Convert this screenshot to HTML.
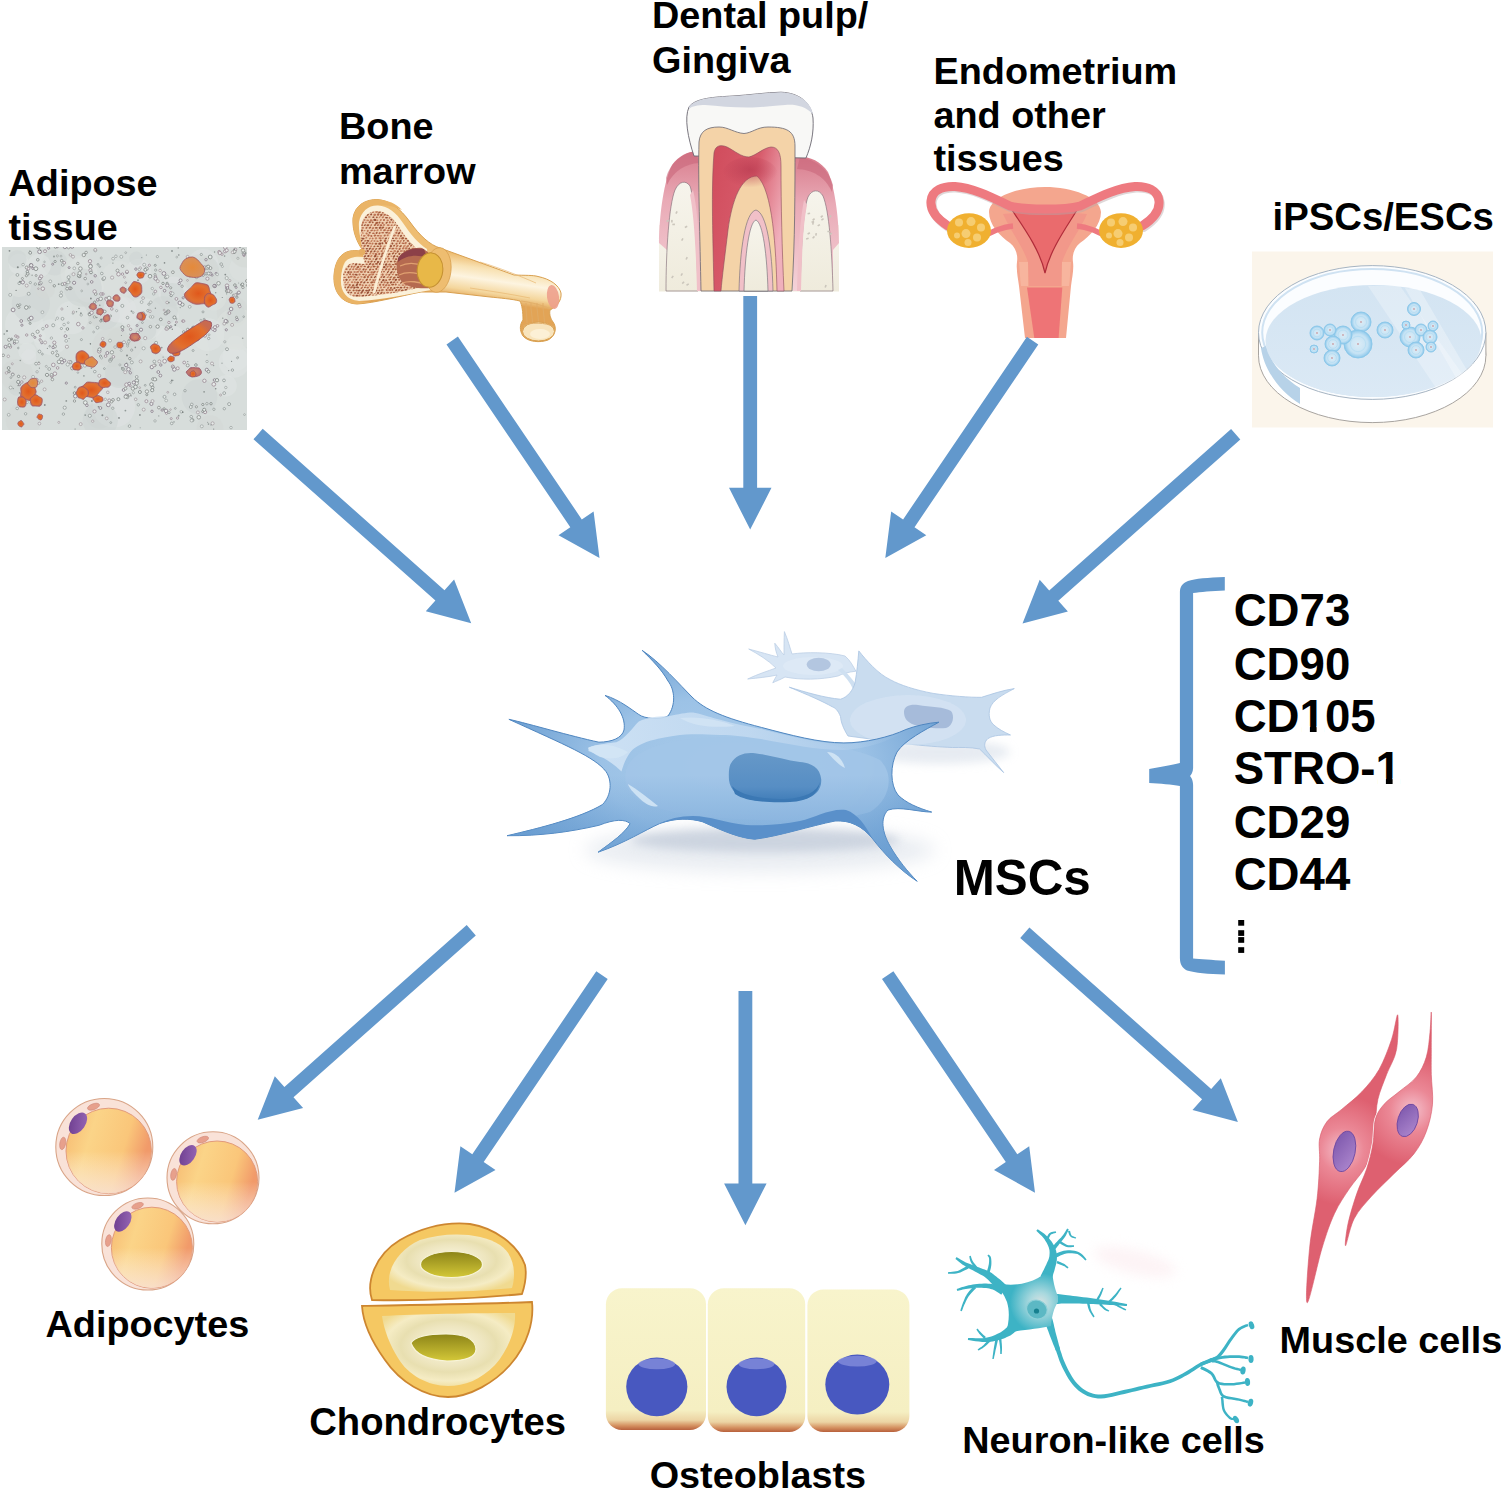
<!DOCTYPE html>
<html><head><meta charset="utf-8"><title>MSC sources and differentiation</title>
<style>html,body{margin:0;padding:0;background:#fff;width:1501px;height:1490px;overflow:hidden}
svg{display:block}
text{font-family:"Liberation Sans",sans-serif;font-weight:bold;fill:#000}</style></head>
<body>
<svg width="1501" height="1490" viewBox="0 0 1501 1490">
<rect width="1501" height="1490" fill="#fff"/>
<defs><clipPath id="mclip"><rect x="2" y="247" width="245" height="183"/></clipPath>
<radialGradient id="lip" cx="0.5" cy="0.5" r="0.5"><stop offset="0" stop-color="#e0581c"/><stop offset="0.7" stop-color="#e2702e"/><stop offset="1" stop-color="#c86a50"/></radialGradient>
<radialGradient id="lip3" cx="0.5" cy="0.5" r="0.5"><stop offset="0" stop-color="#d88860"/><stop offset="1" stop-color="#b87070"/></radialGradient>
<radialGradient id="lip2" cx="0.5" cy="0.5" r="0.5"><stop offset="0" stop-color="#e58a3a"/><stop offset="1" stop-color="#d8905a"/></radialGradient>
</defs><g clip-path="url(#mclip)">
<rect x="2" y="247" width="245" height="183" fill="#d7dddb"/>
<circle cx="81.3" cy="274.6" r="16.4" fill="#e0e5e3" opacity="0.6"/>
<circle cx="203.2" cy="264.2" r="15.3" fill="#dfe3e3" opacity="0.6"/>
<circle cx="54.6" cy="262.7" r="12.7" fill="#cfd6d3" opacity="0.6"/>
<circle cx="24.2" cy="324.7" r="19.2" fill="#e0e5e3" opacity="0.6"/>
<circle cx="234.1" cy="362.4" r="15.3" fill="#e0e5e3" opacity="0.6"/>
<circle cx="143.4" cy="319.6" r="21.6" fill="#e0e5e3" opacity="0.6"/>
<circle cx="138.4" cy="271.4" r="12.7" fill="#dfe3e3" opacity="0.6"/>
<circle cx="30.9" cy="303.5" r="19.1" fill="#cfd6d3" opacity="0.6"/>
<circle cx="27.2" cy="351.5" r="9.0" fill="#e0e5e3" opacity="0.6"/>
<circle cx="136.2" cy="258.5" r="7.0" fill="#cfd6d3" opacity="0.6"/>
<circle cx="123.6" cy="344.3" r="18.4" fill="#d3d9d6" opacity="0.6"/>
<circle cx="145.5" cy="329.9" r="10.8" fill="#cfd6d3" opacity="0.6"/>
<circle cx="173.3" cy="291.7" r="15.2" fill="#dfe3e3" opacity="0.6"/>
<circle cx="123.3" cy="309.9" r="13.2" fill="#dfe3e3" opacity="0.6"/>
<circle cx="242.1" cy="268.6" r="12.7" fill="#dce1de" opacity="0.6"/>
<circle cx="39.2" cy="336.5" r="6.6" fill="#e0e5e3" opacity="0.6"/>
<circle cx="189.3" cy="351.9" r="20.0" fill="#dce1de" opacity="0.6"/>
<circle cx="85.3" cy="311.1" r="13.9" fill="#d3d9d6" opacity="0.6"/>
<circle cx="18.8" cy="264.1" r="10.3" fill="#e0e5e3" opacity="0.6"/>
<circle cx="16.9" cy="375.4" r="16.4" fill="#d3d9d6" opacity="0.6"/>
<circle cx="71.7" cy="317.6" r="16.7" fill="#e0e5e3" opacity="0.6"/>
<circle cx="232.5" cy="312.0" r="15.8" fill="#d3d9d6" opacity="0.6"/>
<circle cx="16.4" cy="387.6" r="8.1" fill="#cfd6d3" opacity="0.6"/>
<circle cx="99.5" cy="414.8" r="13.9" fill="#cfd6d3" opacity="0.6"/>
<circle cx="112.1" cy="347.5" r="20.1" fill="#d3d9d6" opacity="0.6"/>
<circle cx="213.7" cy="298.0" r="12.6" fill="#dce1de" opacity="0.6"/>
<circle cx="169.3" cy="316.6" r="9.7" fill="#e0e5e3" opacity="0.6"/>
<circle cx="45.2" cy="289.4" r="9.7" fill="#d3d9d6" opacity="0.6"/>
<circle cx="205.6" cy="280.4" r="10.5" fill="#cfd6d3" opacity="0.6"/>
<circle cx="104.6" cy="314.6" r="15.1" fill="#cfd6d3" opacity="0.6"/>
<circle cx="171.2" cy="341.3" r="15.9" fill="#e0e5e3" opacity="0.6"/>
<circle cx="113.9" cy="406.4" r="21.2" fill="#dfe3e3" opacity="0.6"/>
<circle cx="98.1" cy="320.0" r="7.7" fill="#d3d9d6" opacity="0.6"/>
<circle cx="17.3" cy="259.3" r="9.3" fill="#cfd6d3" opacity="0.6"/>
<circle cx="28.9" cy="356.9" r="7.6" fill="#dfe3e3" opacity="0.6"/>
<circle cx="39.1" cy="265.6" r="11.8" fill="#e0e5e3" opacity="0.6"/>
<circle cx="19.2" cy="285.1" r="12.0" fill="#dce1de" opacity="0.6"/>
<circle cx="236.1" cy="357.2" r="13.6" fill="#e0e5e3" opacity="0.6"/>
<circle cx="210.0" cy="428.7" r="13.5" fill="#d3d9d6" opacity="0.6"/>
<circle cx="78.4" cy="273.4" r="18.0" fill="#dce1de" opacity="0.6"/>
<circle cx="119.3" cy="373.6" r="14.3" fill="#cfd6d3" opacity="0.6"/>
<circle cx="235.0" cy="343.7" r="8.3" fill="#dfe3e3" opacity="0.6"/>
<circle cx="226.0" cy="385.7" r="10.8" fill="#e0e5e3" opacity="0.6"/>
<circle cx="172.6" cy="294.8" r="11.9" fill="#cfd6d3" opacity="0.6"/>
<circle cx="89.1" cy="287.8" r="14.7" fill="#dfe3e3" opacity="0.6"/>
<circle cx="82.8" cy="287.8" r="19.0" fill="#cfd6d3" opacity="0.6"/>
<circle cx="199.5" cy="396.8" r="17.8" fill="#cfd6d3" opacity="0.6"/>
<circle cx="51.0" cy="337.2" r="17.7" fill="#e0e5e3" opacity="0.6"/>
<circle cx="195.6" cy="333.4" r="9.1" fill="#dfe3e3" opacity="0.6"/>
<circle cx="236.3" cy="328.8" r="21.0" fill="#dce1de" opacity="0.6"/>
<circle cx="236.0" cy="313.7" r="9.5" fill="#cfd6d3" opacity="0.6"/>
<circle cx="117.2" cy="308.8" r="13.7" fill="#dfe3e3" opacity="0.6"/>
<circle cx="207.9" cy="334.7" r="16.4" fill="#e0e5e3" opacity="0.6"/>
<circle cx="206.5" cy="268.9" r="12.2" fill="#cfd6d3" opacity="0.6"/>
<circle cx="119.1" cy="279.7" r="18.6" fill="#dce1de" opacity="0.6"/>
<circle cx="23.3" cy="420.1" r="17.5" fill="#d3d9d6" opacity="0.6"/>
<circle cx="100.3" cy="420.3" r="17.6" fill="#cfd6d3" opacity="0.6"/>
<circle cx="245.3" cy="252.0" r="15.5" fill="#d3d9d6" opacity="0.6"/>
<circle cx="199.6" cy="273.7" r="19.2" fill="#d3d9d6" opacity="0.6"/>
<circle cx="163.0" cy="311.1" r="14.8" fill="#cfd6d3" opacity="0.6"/>
<circle cx="182.4" cy="304.6" r="1.7" fill="#e6eae8" stroke="#7d8583" stroke-width="0.8"/>
<circle cx="95.7" cy="294.0" r="1.4" fill="#e6eae8" stroke="#8a8f8d" stroke-width="0.8"/>
<circle cx="155.4" cy="276.3" r="1.2" fill="#e6eae8" stroke="#9a8a95" stroke-width="0.8"/>
<circle cx="97.8" cy="299.8" r="1.3" fill="#e6eae8" stroke="#857a88" stroke-width="0.8"/>
<circle cx="155.6" cy="278.6" r="1.7" fill="#e6eae8" stroke="#857a88" stroke-width="0.8"/>
<circle cx="117.5" cy="270.6" r="1.5" fill="#e6eae8" stroke="#8a8f8d" stroke-width="0.8"/>
<circle cx="102.4" cy="293.9" r="1.0" fill="#e6eae8" stroke="#857a88" stroke-width="0.8"/>
<circle cx="146.6" cy="268.7" r="1.7" fill="#e6eae8" stroke="#8a8f8d" stroke-width="0.8"/>
<circle cx="157.6" cy="326.6" r="1.7" fill="#e6eae8" stroke="#7d8583" stroke-width="0.8"/>
<circle cx="122.4" cy="327.2" r="1.5" fill="#e6eae8" stroke="#7d8583" stroke-width="0.8"/>
<circle cx="163.0" cy="283.4" r="1.2" fill="#e6eae8" stroke="#7d8583" stroke-width="0.8"/>
<circle cx="145.3" cy="269.8" r="1.5" fill="#e6eae8" stroke="#7d8583" stroke-width="0.8"/>
<circle cx="102.7" cy="311.1" r="1.5" fill="#e6eae8" stroke="#8a8f8d" stroke-width="0.8"/>
<circle cx="126.9" cy="272.1" r="1.5" fill="#e6eae8" stroke="#857a88" stroke-width="0.8"/>
<circle cx="106.1" cy="298.7" r="1.5" fill="#e6eae8" stroke="#9a8a95" stroke-width="0.8"/>
<circle cx="179.2" cy="283.5" r="1.2" fill="#e6eae8" stroke="#857a88" stroke-width="0.8"/>
<circle cx="160.8" cy="319.4" r="1.4" fill="#e6eae8" stroke="#7d8583" stroke-width="0.8"/>
<circle cx="122.5" cy="274.1" r="1.2" fill="#e6eae8" stroke="#9a8a95" stroke-width="0.8"/>
<circle cx="149.4" cy="265.3" r="1.1" fill="#e6eae8" stroke="#9a8a95" stroke-width="0.8"/>
<circle cx="167.5" cy="327.6" r="1.9" fill="#e6eae8" stroke="#8a8f8d" stroke-width="0.8"/>
<circle cx="139.3" cy="274.8" r="1.8" fill="#e6eae8" stroke="#8a8f8d" stroke-width="0.8"/>
<circle cx="183.2" cy="297.8" r="1.1" fill="#e6eae8" stroke="#857a88" stroke-width="0.8"/>
<circle cx="176.4" cy="298.9" r="1.4" fill="#e6eae8" stroke="#9a8a95" stroke-width="0.8"/>
<circle cx="122.7" cy="330.2" r="1.0" fill="#e6eae8" stroke="#857a88" stroke-width="0.8"/>
<circle cx="111.8" cy="308.9" r="1.3" fill="#e6eae8" stroke="#9a8a95" stroke-width="0.8"/>
<circle cx="109.1" cy="298.1" r="1.9" fill="#e6eae8" stroke="#8a8f8d" stroke-width="0.8"/>
<circle cx="171.2" cy="295.5" r="1.2" fill="#e6eae8" stroke="#7d8583" stroke-width="0.8"/>
<circle cx="167.3" cy="285.3" r="1.7" fill="#e6eae8" stroke="#857a88" stroke-width="0.8"/>
<circle cx="163.9" cy="273.5" r="1.9" fill="#e6eae8" stroke="#857a88" stroke-width="0.8"/>
<circle cx="166.4" cy="328.9" r="1.5" fill="#e6eae8" stroke="#9a8a95" stroke-width="0.8"/>
<circle cx="166.2" cy="313.2" r="1.6" fill="#e6eae8" stroke="#857a88" stroke-width="0.8"/>
<circle cx="167.1" cy="283.2" r="1.0" fill="#e6eae8" stroke="#7d8583" stroke-width="0.8"/>
<circle cx="150.0" cy="276.2" r="1.8" fill="#e6eae8" stroke="#7d8583" stroke-width="0.8"/>
<circle cx="137.1" cy="325.5" r="1.0" fill="#e6eae8" stroke="#857a88" stroke-width="0.8"/>
<circle cx="170.7" cy="287.8" r="1.1" fill="#e6eae8" stroke="#8a8f8d" stroke-width="0.8"/>
<circle cx="182.1" cy="286.2" r="1.2" fill="#e6eae8" stroke="#8a8f8d" stroke-width="0.8"/>
<circle cx="150.4" cy="326.7" r="1.3" fill="#e6eae8" stroke="#8a8f8d" stroke-width="0.8"/>
<circle cx="130.6" cy="329.4" r="1.2" fill="#e6eae8" stroke="#9a8a95" stroke-width="0.8"/>
<circle cx="155.2" cy="265.3" r="1.0" fill="#e6eae8" stroke="#7d8583" stroke-width="0.8"/>
<circle cx="135.9" cy="269.1" r="1.2" fill="#e6eae8" stroke="#857a88" stroke-width="0.8"/>
<circle cx="141.0" cy="329.7" r="1.6" fill="#e6eae8" stroke="#857a88" stroke-width="0.8"/>
<circle cx="118.5" cy="274.2" r="1.8" fill="#e6eae8" stroke="#9a8a95" stroke-width="0.8"/>
<circle cx="122.6" cy="266.2" r="1.3" fill="#e6eae8" stroke="#8a8f8d" stroke-width="0.8"/>
<circle cx="110.6" cy="316.0" r="1.0" fill="#e6eae8" stroke="#8a8f8d" stroke-width="0.8"/>
<circle cx="179.8" cy="302.9" r="1.8" fill="#e6eae8" stroke="#857a88" stroke-width="0.8"/>
<circle cx="78.3" cy="324.1" r="1.8" fill="#e6eae8" stroke="#9a8a95" stroke-width="0.8"/>
<circle cx="22.4" cy="278.5" r="1.0" fill="#e6eae8" stroke="#8a8f8d" stroke-width="0.8"/>
<circle cx="82.9" cy="327.9" r="1.2" fill="#e6eae8" stroke="#9a8a95" stroke-width="0.8"/>
<circle cx="103.0" cy="294.0" r="1.2" fill="#e6eae8" stroke="#9a8a95" stroke-width="0.8"/>
<circle cx="67.4" cy="329.0" r="1.3" fill="#e6eae8" stroke="#7d8583" stroke-width="0.8"/>
<circle cx="17.7" cy="305.4" r="1.2" fill="#e6eae8" stroke="#7d8583" stroke-width="0.8"/>
<circle cx="100.8" cy="320.9" r="1.1" fill="#e6eae8" stroke="#7d8583" stroke-width="0.8"/>
<circle cx="29.2" cy="319.4" r="1.6" fill="#e6eae8" stroke="#7d8583" stroke-width="0.8"/>
<circle cx="22.8" cy="282.3" r="1.7" fill="#e6eae8" stroke="#857a88" stroke-width="0.8"/>
<circle cx="64.2" cy="262.8" r="1.4" fill="#e6eae8" stroke="#9a8a95" stroke-width="0.8"/>
<circle cx="52.7" cy="264.2" r="1.0" fill="#e6eae8" stroke="#857a88" stroke-width="0.8"/>
<circle cx="55.1" cy="261.5" r="1.1" fill="#e6eae8" stroke="#7d8583" stroke-width="0.8"/>
<circle cx="80.4" cy="268.6" r="1.8" fill="#e6eae8" stroke="#8a8f8d" stroke-width="0.8"/>
<circle cx="89.7" cy="314.1" r="1.6" fill="#e6eae8" stroke="#7d8583" stroke-width="0.8"/>
<circle cx="30.1" cy="323.4" r="1.0" fill="#e6eae8" stroke="#7d8583" stroke-width="0.8"/>
<circle cx="27.7" cy="273.8" r="1.4" fill="#e6eae8" stroke="#7d8583" stroke-width="0.8"/>
<circle cx="26.3" cy="307.5" r="1.8" fill="#e6eae8" stroke="#7d8583" stroke-width="0.8"/>
<circle cx="41.1" cy="276.5" r="1.7" fill="#e6eae8" stroke="#9a8a95" stroke-width="0.8"/>
<circle cx="77.8" cy="263.5" r="1.2" fill="#e6eae8" stroke="#8a8f8d" stroke-width="0.8"/>
<circle cx="65.5" cy="336.1" r="1.4" fill="#e6eae8" stroke="#857a88" stroke-width="0.8"/>
<circle cx="104.4" cy="318.6" r="1.3" fill="#e6eae8" stroke="#7d8583" stroke-width="0.8"/>
<circle cx="26.4" cy="275.7" r="1.1" fill="#e6eae8" stroke="#8a8f8d" stroke-width="0.8"/>
<circle cx="37.6" cy="331.7" r="1.6" fill="#e6eae8" stroke="#8a8f8d" stroke-width="0.8"/>
<circle cx="94.7" cy="302.2" r="1.2" fill="#e6eae8" stroke="#7d8583" stroke-width="0.8"/>
<circle cx="43.7" cy="265.7" r="1.3" fill="#e6eae8" stroke="#9a8a95" stroke-width="0.8"/>
<circle cx="18.9" cy="307.4" r="1.1" fill="#e6eae8" stroke="#8a8f8d" stroke-width="0.8"/>
<circle cx="46.7" cy="326.1" r="1.4" fill="#e6eae8" stroke="#9a8a95" stroke-width="0.8"/>
<circle cx="13.1" cy="309.9" r="1.9" fill="#e6eae8" stroke="#857a88" stroke-width="0.8"/>
<circle cx="100.7" cy="298.8" r="1.8" fill="#e6eae8" stroke="#8a8f8d" stroke-width="0.8"/>
<circle cx="91.6" cy="312.8" r="1.7" fill="#e6eae8" stroke="#9a8a95" stroke-width="0.8"/>
<circle cx="94.6" cy="291.5" r="1.7" fill="#e6eae8" stroke="#9a8a95" stroke-width="0.8"/>
<circle cx="95.2" cy="275.8" r="1.2" fill="#e6eae8" stroke="#857a88" stroke-width="0.8"/>
<circle cx="31.2" cy="318.1" r="1.9" fill="#e6eae8" stroke="#857a88" stroke-width="0.8"/>
<circle cx="21.2" cy="321.0" r="1.4" fill="#e6eae8" stroke="#857a88" stroke-width="0.8"/>
<circle cx="40.3" cy="335.8" r="1.0" fill="#e6eae8" stroke="#9a8a95" stroke-width="0.8"/>
<circle cx="79.1" cy="275.7" r="1.8" fill="#e6eae8" stroke="#7d8583" stroke-width="0.8"/>
<circle cx="91.7" cy="281.9" r="1.3" fill="#e6eae8" stroke="#857a88" stroke-width="0.8"/>
<circle cx="21.9" cy="325.2" r="1.1" fill="#e6eae8" stroke="#857a88" stroke-width="0.8"/>
<circle cx="61.7" cy="260.7" r="1.3" fill="#e6eae8" stroke="#7d8583" stroke-width="0.8"/>
<circle cx="79.7" cy="273.2" r="1.8" fill="#e6eae8" stroke="#8a8f8d" stroke-width="0.8"/>
<circle cx="100.9" cy="294.0" r="1.3" fill="#e6eae8" stroke="#9a8a95" stroke-width="0.8"/>
<circle cx="69.1" cy="267.6" r="1.0" fill="#e6eae8" stroke="#857a88" stroke-width="0.8"/>
<circle cx="103.4" cy="279.0" r="1.5" fill="#e6eae8" stroke="#7d8583" stroke-width="0.8"/>
<circle cx="104.7" cy="311.5" r="1.4" fill="#e6eae8" stroke="#8a8f8d" stroke-width="0.8"/>
<circle cx="36.1" cy="275.5" r="1.0" fill="#e6eae8" stroke="#8a8f8d" stroke-width="0.8"/>
<circle cx="217.5" cy="325.8" r="1.3" fill="#e6eae8" stroke="#9a8a95" stroke-width="0.8"/>
<circle cx="196.9" cy="263.6" r="1.2" fill="#e6eae8" stroke="#8a8f8d" stroke-width="0.8"/>
<circle cx="187.8" cy="329.6" r="1.4" fill="#e6eae8" stroke="#8a8f8d" stroke-width="0.8"/>
<circle cx="180.6" cy="280.4" r="1.5" fill="#e6eae8" stroke="#857a88" stroke-width="0.8"/>
<circle cx="164.6" cy="290.7" r="1.3" fill="#e6eae8" stroke="#857a88" stroke-width="0.8"/>
<circle cx="165.2" cy="313.7" r="1.2" fill="#e6eae8" stroke="#8a8f8d" stroke-width="0.8"/>
<circle cx="182.8" cy="321.1" r="1.2" fill="#e6eae8" stroke="#9a8a95" stroke-width="0.8"/>
<circle cx="212.1" cy="275.2" r="1.0" fill="#e6eae8" stroke="#857a88" stroke-width="0.8"/>
<circle cx="168.9" cy="322.5" r="1.2" fill="#e6eae8" stroke="#9a8a95" stroke-width="0.8"/>
<circle cx="183.7" cy="321.1" r="1.2" fill="#e6eae8" stroke="#9a8a95" stroke-width="0.8"/>
<circle cx="226.8" cy="321.6" r="1.6" fill="#e6eae8" stroke="#8a8f8d" stroke-width="0.8"/>
<circle cx="237.1" cy="319.5" r="1.3" fill="#e6eae8" stroke="#857a88" stroke-width="0.8"/>
<circle cx="168.2" cy="311.6" r="1.7" fill="#e6eae8" stroke="#7d8583" stroke-width="0.8"/>
<circle cx="225.7" cy="321.1" r="1.7" fill="#e6eae8" stroke="#857a88" stroke-width="0.8"/>
<circle cx="237.1" cy="294.0" r="1.1" fill="#e6eae8" stroke="#857a88" stroke-width="0.8"/>
<circle cx="233.5" cy="295.3" r="1.1" fill="#e6eae8" stroke="#8a8f8d" stroke-width="0.8"/>
<circle cx="226.3" cy="329.8" r="1.1" fill="#e6eae8" stroke="#857a88" stroke-width="0.8"/>
<circle cx="236.5" cy="317.3" r="1.0" fill="#e6eae8" stroke="#8a8f8d" stroke-width="0.8"/>
<circle cx="204.9" cy="335.6" r="1.6" fill="#e6eae8" stroke="#9a8a95" stroke-width="0.8"/>
<circle cx="238.9" cy="292.5" r="1.5" fill="#e6eae8" stroke="#857a88" stroke-width="0.8"/>
<circle cx="189.9" cy="275.9" r="1.1" fill="#e6eae8" stroke="#8a8f8d" stroke-width="0.8"/>
<circle cx="174.4" cy="317.4" r="1.5" fill="#e6eae8" stroke="#7d8583" stroke-width="0.8"/>
<circle cx="155.3" cy="291.4" r="1.3" fill="#e6eae8" stroke="#9a8a95" stroke-width="0.8"/>
<circle cx="172.9" cy="272.2" r="1.4" fill="#e6eae8" stroke="#8a8f8d" stroke-width="0.8"/>
<circle cx="170.9" cy="292.9" r="1.4" fill="#e6eae8" stroke="#9a8a95" stroke-width="0.8"/>
<circle cx="231.1" cy="309.0" r="1.8" fill="#e6eae8" stroke="#857a88" stroke-width="0.8"/>
<circle cx="229.4" cy="313.1" r="1.4" fill="#e6eae8" stroke="#9a8a95" stroke-width="0.8"/>
<circle cx="204.4" cy="324.2" r="1.3" fill="#e6eae8" stroke="#857a88" stroke-width="0.8"/>
<circle cx="176.4" cy="322.1" r="1.0" fill="#e6eae8" stroke="#9a8a95" stroke-width="0.8"/>
<circle cx="197.4" cy="269.6" r="1.2" fill="#e6eae8" stroke="#8a8f8d" stroke-width="0.8"/>
<circle cx="183.7" cy="331.9" r="1.2" fill="#e6eae8" stroke="#8a8f8d" stroke-width="0.8"/>
<circle cx="195.8" cy="335.2" r="1.1" fill="#e6eae8" stroke="#857a88" stroke-width="0.8"/>
<circle cx="165.9" cy="277.4" r="1.4" fill="#e6eae8" stroke="#7d8583" stroke-width="0.8"/>
<circle cx="230.7" cy="291.8" r="1.4" fill="#e6eae8" stroke="#8a8f8d" stroke-width="0.8"/>
<circle cx="239.1" cy="304.7" r="1.4" fill="#e6eae8" stroke="#7d8583" stroke-width="0.8"/>
<circle cx="215.0" cy="327.2" r="1.6" fill="#e6eae8" stroke="#9a8a95" stroke-width="0.8"/>
<circle cx="195.0" cy="263.4" r="1.8" fill="#e6eae8" stroke="#9a8a95" stroke-width="0.8"/>
<circle cx="214.7" cy="330.1" r="1.5" fill="#e6eae8" stroke="#857a88" stroke-width="0.8"/>
<circle cx="239.8" cy="306.5" r="1.3" fill="#e6eae8" stroke="#9a8a95" stroke-width="0.8"/>
<circle cx="236.9" cy="297.2" r="1.1" fill="#e6eae8" stroke="#7d8583" stroke-width="0.8"/>
<circle cx="193.4" cy="328.0" r="1.9" fill="#e6eae8" stroke="#7d8583" stroke-width="0.8"/>
<circle cx="160.9" cy="287.4" r="1.3" fill="#e6eae8" stroke="#9a8a95" stroke-width="0.8"/>
<circle cx="216.1" cy="273.4" r="1.0" fill="#e6eae8" stroke="#857a88" stroke-width="0.8"/>
<circle cx="212.9" cy="329.1" r="1.4" fill="#e6eae8" stroke="#9a8a95" stroke-width="0.8"/>
<circle cx="170.8" cy="326.7" r="1.0" fill="#e6eae8" stroke="#857a88" stroke-width="0.8"/>
<circle cx="100.4" cy="408.0" r="1.4" fill="#e6eae8" stroke="#857a88" stroke-width="0.8"/>
<circle cx="126.5" cy="384.7" r="1.8" fill="#e6eae8" stroke="#9a8a95" stroke-width="0.8"/>
<circle cx="109.2" cy="400.4" r="1.5" fill="#e6eae8" stroke="#9a8a95" stroke-width="0.8"/>
<circle cx="94.5" cy="411.4" r="1.6" fill="#e6eae8" stroke="#9a8a95" stroke-width="0.8"/>
<circle cx="99.2" cy="351.3" r="1.8" fill="#e6eae8" stroke="#9a8a95" stroke-width="0.8"/>
<circle cx="136.8" cy="380.7" r="1.8" fill="#e6eae8" stroke="#7d8583" stroke-width="0.8"/>
<circle cx="129.2" cy="383.6" r="1.4" fill="#e6eae8" stroke="#857a88" stroke-width="0.8"/>
<circle cx="130.3" cy="372.8" r="1.2" fill="#e6eae8" stroke="#857a88" stroke-width="0.8"/>
<circle cx="111.1" cy="359.4" r="1.4" fill="#e6eae8" stroke="#7d8583" stroke-width="0.8"/>
<circle cx="111.9" cy="352.3" r="1.7" fill="#e6eae8" stroke="#8a8f8d" stroke-width="0.8"/>
<circle cx="75.9" cy="364.6" r="1.3" fill="#e6eae8" stroke="#9a8a95" stroke-width="0.8"/>
<circle cx="107.3" cy="353.0" r="1.5" fill="#e6eae8" stroke="#857a88" stroke-width="0.8"/>
<circle cx="100.5" cy="356.2" r="1.1" fill="#e6eae8" stroke="#7d8583" stroke-width="0.8"/>
<circle cx="66.3" cy="383.1" r="1.1" fill="#e6eae8" stroke="#857a88" stroke-width="0.8"/>
<circle cx="129.8" cy="358.6" r="1.2" fill="#e6eae8" stroke="#7d8583" stroke-width="0.8"/>
<circle cx="108.3" cy="404.8" r="1.9" fill="#e6eae8" stroke="#857a88" stroke-width="0.8"/>
<circle cx="113.0" cy="399.9" r="1.4" fill="#e6eae8" stroke="#8a8f8d" stroke-width="0.8"/>
<circle cx="99.5" cy="349.5" r="1.6" fill="#e6eae8" stroke="#7d8583" stroke-width="0.8"/>
<circle cx="105.6" cy="356.1" r="1.3" fill="#e6eae8" stroke="#9a8a95" stroke-width="0.8"/>
<circle cx="74.5" cy="401.0" r="1.2" fill="#e6eae8" stroke="#8a8f8d" stroke-width="0.8"/>
<circle cx="111.6" cy="401.7" r="1.3" fill="#e6eae8" stroke="#8a8f8d" stroke-width="0.8"/>
<circle cx="85.3" cy="402.6" r="1.9" fill="#e6eae8" stroke="#8a8f8d" stroke-width="0.8"/>
<circle cx="83.7" cy="362.1" r="1.4" fill="#e6eae8" stroke="#7d8583" stroke-width="0.8"/>
<circle cx="126.3" cy="395.8" r="1.7" fill="#e6eae8" stroke="#857a88" stroke-width="0.8"/>
<circle cx="123.0" cy="369.0" r="1.3" fill="#e6eae8" stroke="#7d8583" stroke-width="0.8"/>
<circle cx="132.9" cy="388.6" r="1.7" fill="#e6eae8" stroke="#8a8f8d" stroke-width="0.8"/>
<circle cx="128.5" cy="369.3" r="1.8" fill="#e6eae8" stroke="#857a88" stroke-width="0.8"/>
<circle cx="70.4" cy="362.1" r="1.6" fill="#e6eae8" stroke="#7d8583" stroke-width="0.8"/>
<circle cx="127.2" cy="397.1" r="1.6" fill="#e6eae8" stroke="#8a8f8d" stroke-width="0.8"/>
<circle cx="130.2" cy="385.8" r="1.0" fill="#e6eae8" stroke="#9a8a95" stroke-width="0.8"/>
<circle cx="135.5" cy="386.9" r="1.8" fill="#e6eae8" stroke="#7d8583" stroke-width="0.8"/>
<circle cx="113.4" cy="356.8" r="1.3" fill="#e6eae8" stroke="#9a8a95" stroke-width="0.8"/>
<circle cx="123.6" cy="390.0" r="1.4" fill="#e6eae8" stroke="#857a88" stroke-width="0.8"/>
<circle cx="125.5" cy="388.6" r="1.4" fill="#e6eae8" stroke="#8a8f8d" stroke-width="0.8"/>
<circle cx="82.3" cy="363.1" r="1.1" fill="#e6eae8" stroke="#9a8a95" stroke-width="0.8"/>
<circle cx="74.5" cy="393.0" r="1.3" fill="#e6eae8" stroke="#7d8583" stroke-width="0.8"/>
<circle cx="86.9" cy="405.3" r="1.3" fill="#e6eae8" stroke="#857a88" stroke-width="0.8"/>
<circle cx="136.7" cy="383.4" r="1.7" fill="#e6eae8" stroke="#8a8f8d" stroke-width="0.8"/>
<circle cx="75.3" cy="396.2" r="1.8" fill="#e6eae8" stroke="#857a88" stroke-width="0.8"/>
<circle cx="126.2" cy="365.1" r="1.7" fill="#e6eae8" stroke="#857a88" stroke-width="0.8"/>
<circle cx="72.3" cy="368.2" r="1.7" fill="#e6eae8" stroke="#8a8f8d" stroke-width="0.8"/>
<circle cx="133.8" cy="382.5" r="1.6" fill="#e6eae8" stroke="#857a88" stroke-width="0.8"/>
<circle cx="129.6" cy="394.8" r="1.3" fill="#e6eae8" stroke="#8a8f8d" stroke-width="0.8"/>
<circle cx="118.4" cy="399.2" r="1.5" fill="#e6eae8" stroke="#7d8583" stroke-width="0.8"/>
<circle cx="125.7" cy="396.7" r="1.7" fill="#e6eae8" stroke="#8a8f8d" stroke-width="0.8"/>
<circle cx="19.6" cy="384.7" r="1.0" fill="#e6eae8" stroke="#857a88" stroke-width="0.8"/>
<circle cx="18.2" cy="381.9" r="1.6" fill="#e6eae8" stroke="#7d8583" stroke-width="0.8"/>
<circle cx="54.7" cy="346.4" r="1.7" fill="#e6eae8" stroke="#8a8f8d" stroke-width="0.8"/>
<circle cx="9.2" cy="339.8" r="1.6" fill="#e6eae8" stroke="#8a8f8d" stroke-width="0.8"/>
<circle cx="41.8" cy="342.6" r="1.2" fill="#e6eae8" stroke="#857a88" stroke-width="0.8"/>
<circle cx="52.6" cy="352.7" r="1.3" fill="#e6eae8" stroke="#8a8f8d" stroke-width="0.8"/>
<circle cx="30.6" cy="385.0" r="1.8" fill="#e6eae8" stroke="#7d8583" stroke-width="0.8"/>
<circle cx="54.3" cy="342.6" r="1.6" fill="#e6eae8" stroke="#9a8a95" stroke-width="0.8"/>
<circle cx="51.9" cy="376.0" r="1.5" fill="#e6eae8" stroke="#9a8a95" stroke-width="0.8"/>
<circle cx="14.5" cy="343.1" r="1.2" fill="#e6eae8" stroke="#857a88" stroke-width="0.8"/>
<circle cx="14.9" cy="341.3" r="1.4" fill="#e6eae8" stroke="#7d8583" stroke-width="0.8"/>
<circle cx="64.3" cy="360.6" r="1.4" fill="#e6eae8" stroke="#857a88" stroke-width="0.8"/>
<circle cx="32.7" cy="334.6" r="1.4" fill="#e6eae8" stroke="#8a8f8d" stroke-width="0.8"/>
<circle cx="40.1" cy="339.7" r="1.1" fill="#e6eae8" stroke="#9a8a95" stroke-width="0.8"/>
<circle cx="8.6" cy="368.0" r="1.4" fill="#e6eae8" stroke="#7d8583" stroke-width="0.8"/>
<circle cx="53.3" cy="364.9" r="1.8" fill="#e6eae8" stroke="#9a8a95" stroke-width="0.8"/>
<circle cx="34.9" cy="337.4" r="1.0" fill="#e6eae8" stroke="#857a88" stroke-width="0.8"/>
<circle cx="11.7" cy="339.1" r="1.0" fill="#e6eae8" stroke="#7d8583" stroke-width="0.8"/>
<circle cx="61.3" cy="359.4" r="1.7" fill="#e6eae8" stroke="#8a8f8d" stroke-width="0.8"/>
<circle cx="52.4" cy="379.5" r="1.3" fill="#e6eae8" stroke="#8a8f8d" stroke-width="0.8"/>
<circle cx="17.8" cy="337.1" r="1.2" fill="#e6eae8" stroke="#9a8a95" stroke-width="0.8"/>
<circle cx="10.4" cy="346.9" r="1.3" fill="#e6eae8" stroke="#9a8a95" stroke-width="0.8"/>
<circle cx="53.1" cy="347.4" r="1.2" fill="#e6eae8" stroke="#857a88" stroke-width="0.8"/>
<circle cx="36.6" cy="379.8" r="1.5" fill="#e6eae8" stroke="#9a8a95" stroke-width="0.8"/>
<circle cx="12.7" cy="374.3" r="1.4" fill="#e6eae8" stroke="#9a8a95" stroke-width="0.8"/>
<circle cx="15.8" cy="336.0" r="1.2" fill="#e6eae8" stroke="#9a8a95" stroke-width="0.8"/>
<circle cx="51.6" cy="375.3" r="1.6" fill="#e6eae8" stroke="#9a8a95" stroke-width="0.8"/>
<circle cx="57.3" cy="355.3" r="1.5" fill="#e6eae8" stroke="#7d8583" stroke-width="0.8"/>
<circle cx="29.6" cy="383.1" r="1.8" fill="#e6eae8" stroke="#9a8a95" stroke-width="0.8"/>
<circle cx="26.8" cy="387.4" r="1.5" fill="#e6eae8" stroke="#9a8a95" stroke-width="0.8"/>
<circle cx="18.6" cy="376.4" r="1.2" fill="#e6eae8" stroke="#7d8583" stroke-width="0.8"/>
<circle cx="21.8" cy="382.0" r="1.3" fill="#e6eae8" stroke="#9a8a95" stroke-width="0.8"/>
<circle cx="26.7" cy="335.0" r="1.2" fill="#e6eae8" stroke="#9a8a95" stroke-width="0.8"/>
<circle cx="9.4" cy="345.2" r="1.5" fill="#e6eae8" stroke="#7d8583" stroke-width="0.8"/>
<circle cx="47.0" cy="374.9" r="1.6" fill="#e6eae8" stroke="#7d8583" stroke-width="0.8"/>
<circle cx="57.6" cy="367.9" r="1.3" fill="#e6eae8" stroke="#9a8a95" stroke-width="0.8"/>
<circle cx="3.2" cy="355.3" r="1.3" fill="#e6eae8" stroke="#8a8f8d" stroke-width="0.8"/>
<circle cx="38.5" cy="383.0" r="1.4" fill="#e6eae8" stroke="#8a8f8d" stroke-width="0.8"/>
<circle cx="62.0" cy="362.3" r="1.6" fill="#e6eae8" stroke="#857a88" stroke-width="0.8"/>
<circle cx="54.9" cy="373.7" r="1.8" fill="#e6eae8" stroke="#9a8a95" stroke-width="0.8"/>
<circle cx="9.0" cy="371.9" r="1.0" fill="#e6eae8" stroke="#9a8a95" stroke-width="0.8"/>
<circle cx="5.6" cy="346.8" r="1.5" fill="#e6eae8" stroke="#857a88" stroke-width="0.8"/>
<circle cx="30.3" cy="386.7" r="1.0" fill="#e6eae8" stroke="#7d8583" stroke-width="0.8"/>
<circle cx="8.9" cy="371.3" r="1.1" fill="#e6eae8" stroke="#7d8583" stroke-width="0.8"/>
<circle cx="59.0" cy="361.8" r="1.8" fill="#e6eae8" stroke="#8a8f8d" stroke-width="0.8"/>
<circle cx="151.4" cy="403.9" r="1.6" fill="#e6eae8" stroke="#857a88" stroke-width="0.8"/>
<circle cx="191.1" cy="368.8" r="1.3" fill="#e6eae8" stroke="#9a8a95" stroke-width="0.8"/>
<circle cx="151.8" cy="367.1" r="1.7" fill="#e6eae8" stroke="#857a88" stroke-width="0.8"/>
<circle cx="174.3" cy="369.4" r="1.8" fill="#e6eae8" stroke="#857a88" stroke-width="0.8"/>
<circle cx="211.0" cy="403.7" r="1.2" fill="#e6eae8" stroke="#7d8583" stroke-width="0.8"/>
<circle cx="177.5" cy="418.1" r="1.1" fill="#e6eae8" stroke="#9a8a95" stroke-width="0.8"/>
<circle cx="172.9" cy="366.7" r="1.5" fill="#e6eae8" stroke="#857a88" stroke-width="0.8"/>
<circle cx="164.6" cy="361.2" r="1.9" fill="#e6eae8" stroke="#9a8a95" stroke-width="0.8"/>
<circle cx="155.0" cy="365.2" r="1.2" fill="#e6eae8" stroke="#7d8583" stroke-width="0.8"/>
<circle cx="198.8" cy="417.3" r="1.8" fill="#e6eae8" stroke="#8a8f8d" stroke-width="0.8"/>
<circle cx="214.5" cy="380.0" r="1.3" fill="#e6eae8" stroke="#857a88" stroke-width="0.8"/>
<circle cx="166.0" cy="410.9" r="1.8" fill="#e6eae8" stroke="#857a88" stroke-width="0.8"/>
<circle cx="146.8" cy="394.7" r="1.0" fill="#e6eae8" stroke="#7d8583" stroke-width="0.8"/>
<circle cx="146.4" cy="401.2" r="1.5" fill="#e6eae8" stroke="#9a8a95" stroke-width="0.8"/>
<circle cx="187.7" cy="365.4" r="1.5" fill="#e6eae8" stroke="#8a8f8d" stroke-width="0.8"/>
<circle cx="196.4" cy="406.8" r="1.1" fill="#e6eae8" stroke="#8a8f8d" stroke-width="0.8"/>
<circle cx="164.1" cy="408.7" r="1.0" fill="#e6eae8" stroke="#7d8583" stroke-width="0.8"/>
<circle cx="202.7" cy="411.6" r="1.0" fill="#e6eae8" stroke="#7d8583" stroke-width="0.8"/>
<circle cx="177.7" cy="368.3" r="1.5" fill="#e6eae8" stroke="#9a8a95" stroke-width="0.8"/>
<circle cx="192.4" cy="420.1" r="1.5" fill="#e6eae8" stroke="#7d8583" stroke-width="0.8"/>
<circle cx="206.8" cy="369.8" r="1.6" fill="#e6eae8" stroke="#857a88" stroke-width="0.8"/>
<circle cx="202.8" cy="404.5" r="1.1" fill="#e6eae8" stroke="#7d8583" stroke-width="0.8"/>
<circle cx="217.0" cy="380.2" r="1.7" fill="#e6eae8" stroke="#7d8583" stroke-width="0.8"/>
<circle cx="195.9" cy="365.0" r="1.3" fill="#e6eae8" stroke="#7d8583" stroke-width="0.8"/>
<circle cx="205.1" cy="412.1" r="1.6" fill="#e6eae8" stroke="#9a8a95" stroke-width="0.8"/>
<circle cx="166.5" cy="413.4" r="1.0" fill="#e6eae8" stroke="#9a8a95" stroke-width="0.8"/>
<circle cx="204.4" cy="380.8" r="1.7" fill="#e6eae8" stroke="#9a8a95" stroke-width="0.8"/>
<circle cx="184.2" cy="362.5" r="1.4" fill="#e6eae8" stroke="#9a8a95" stroke-width="0.8"/>
<circle cx="160.4" cy="375.6" r="1.4" fill="#e6eae8" stroke="#857a88" stroke-width="0.8"/>
<circle cx="152.6" cy="387.4" r="1.4" fill="#e6eae8" stroke="#7d8583" stroke-width="0.8"/>
<circle cx="151.5" cy="384.5" r="1.8" fill="#e6eae8" stroke="#7d8583" stroke-width="0.8"/>
<circle cx="153.0" cy="379.1" r="1.4" fill="#e6eae8" stroke="#8a8f8d" stroke-width="0.8"/>
<circle cx="171.2" cy="418.6" r="1.0" fill="#e6eae8" stroke="#9a8a95" stroke-width="0.8"/>
<circle cx="146.9" cy="391.5" r="1.7" fill="#e6eae8" stroke="#8a8f8d" stroke-width="0.8"/>
<circle cx="213.8" cy="384.3" r="1.9" fill="#e6eae8" stroke="#9a8a95" stroke-width="0.8"/>
<circle cx="154.9" cy="379.3" r="1.7" fill="#e6eae8" stroke="#8a8f8d" stroke-width="0.8"/>
<circle cx="152.2" cy="390.2" r="1.6" fill="#e6eae8" stroke="#7d8583" stroke-width="0.8"/>
<circle cx="139.9" cy="392.0" r="1.5" fill="#e6eae8" stroke="#7d8583" stroke-width="0.8"/>
<circle cx="158.3" cy="372.0" r="1.4" fill="#e6eae8" stroke="#857a88" stroke-width="0.8"/>
<circle cx="208.5" cy="371.6" r="1.4" fill="#e6eae8" stroke="#7d8583" stroke-width="0.8"/>
<circle cx="158.9" cy="407.6" r="1.4" fill="#e6eae8" stroke="#8a8f8d" stroke-width="0.8"/>
<circle cx="152.0" cy="411.3" r="1.2" fill="#e6eae8" stroke="#857a88" stroke-width="0.8"/>
<circle cx="204.2" cy="409.8" r="1.6" fill="#e6eae8" stroke="#7d8583" stroke-width="0.8"/>
<circle cx="162.1" cy="410.1" r="1.1" fill="#e6eae8" stroke="#857a88" stroke-width="0.8"/>
<circle cx="160.8" cy="365.0" r="1.2" fill="#e6eae8" stroke="#857a88" stroke-width="0.8"/>
<circle cx="222.0" cy="254.2" r="1.2" fill="#e6eae8" stroke="#9a8a95" stroke-width="0.8"/>
<circle cx="203.2" cy="275.2" r="1.2" fill="#e6eae8" stroke="#8a8f8d" stroke-width="0.8"/>
<circle cx="227.1" cy="290.9" r="1.7" fill="#e6eae8" stroke="#8a8f8d" stroke-width="0.8"/>
<circle cx="225.2" cy="247.5" r="1.7" fill="#e6eae8" stroke="#9a8a95" stroke-width="0.8"/>
<circle cx="241.7" cy="284.9" r="1.2" fill="#e6eae8" stroke="#7d8583" stroke-width="0.8"/>
<circle cx="242.9" cy="287.4" r="1.2" fill="#e6eae8" stroke="#8a8f8d" stroke-width="0.8"/>
<circle cx="256.6" cy="267.8" r="1.7" fill="#e6eae8" stroke="#857a88" stroke-width="0.8"/>
<circle cx="227.0" cy="285.7" r="1.8" fill="#e6eae8" stroke="#9a8a95" stroke-width="0.8"/>
<circle cx="236.1" cy="287.4" r="1.0" fill="#e6eae8" stroke="#857a88" stroke-width="0.8"/>
<circle cx="244.1" cy="255.3" r="1.2" fill="#e6eae8" stroke="#9a8a95" stroke-width="0.8"/>
<circle cx="210.4" cy="273.7" r="1.5" fill="#e6eae8" stroke="#857a88" stroke-width="0.8"/>
<circle cx="251.2" cy="270.6" r="1.8" fill="#e6eae8" stroke="#857a88" stroke-width="0.8"/>
<circle cx="244.4" cy="253.2" r="1.6" fill="#e6eae8" stroke="#8a8f8d" stroke-width="0.8"/>
<circle cx="219.2" cy="251.8" r="1.4" fill="#e6eae8" stroke="#9a8a95" stroke-width="0.8"/>
<circle cx="228.4" cy="290.6" r="1.8" fill="#e6eae8" stroke="#8a8f8d" stroke-width="0.8"/>
<circle cx="235.2" cy="249.7" r="1.6" fill="#e6eae8" stroke="#9a8a95" stroke-width="0.8"/>
<circle cx="243.8" cy="254.7" r="1.0" fill="#e6eae8" stroke="#857a88" stroke-width="0.8"/>
<circle cx="204.8" cy="267.7" r="1.8" fill="#e6eae8" stroke="#9a8a95" stroke-width="0.8"/>
<circle cx="234.0" cy="252.2" r="1.4" fill="#e6eae8" stroke="#7d8583" stroke-width="0.8"/>
<circle cx="253.5" cy="274.6" r="1.1" fill="#e6eae8" stroke="#8a8f8d" stroke-width="0.8"/>
<circle cx="210.4" cy="268.1" r="1.5" fill="#e6eae8" stroke="#8a8f8d" stroke-width="0.8"/>
<circle cx="225.1" cy="251.3" r="1.6" fill="#e6eae8" stroke="#9a8a95" stroke-width="0.8"/>
<circle cx="207.4" cy="267.5" r="1.9" fill="#e6eae8" stroke="#8a8f8d" stroke-width="0.8"/>
<circle cx="250.5" cy="269.0" r="1.5" fill="#e6eae8" stroke="#7d8583" stroke-width="0.8"/>
<circle cx="226.7" cy="250.3" r="1.6" fill="#e6eae8" stroke="#9a8a95" stroke-width="0.8"/>
<circle cx="226.5" cy="288.0" r="1.0" fill="#e6eae8" stroke="#857a88" stroke-width="0.8"/>
<circle cx="251.6" cy="259.9" r="1.6" fill="#e6eae8" stroke="#9a8a95" stroke-width="0.8"/>
<circle cx="246.9" cy="281.0" r="1.4" fill="#e6eae8" stroke="#8a8f8d" stroke-width="0.8"/>
<circle cx="258.3" cy="269.2" r="1.4" fill="#e6eae8" stroke="#8a8f8d" stroke-width="0.8"/>
<circle cx="248.2" cy="285.4" r="1.7" fill="#e6eae8" stroke="#8a8f8d" stroke-width="0.8"/>
<circle cx="206.1" cy="273.8" r="1.2" fill="#e6eae8" stroke="#8a8f8d" stroke-width="0.8"/>
<circle cx="214.8" cy="286.0" r="1.7" fill="#e6eae8" stroke="#857a88" stroke-width="0.8"/>
<circle cx="208.7" cy="273.5" r="1.5" fill="#e6eae8" stroke="#8a8f8d" stroke-width="0.8"/>
<circle cx="234.4" cy="251.6" r="1.7" fill="#e6eae8" stroke="#8a8f8d" stroke-width="0.8"/>
<circle cx="227.5" cy="287.9" r="1.2" fill="#e6eae8" stroke="#857a88" stroke-width="0.8"/>
<circle cx="219.8" cy="253.0" r="1.7" fill="#e6eae8" stroke="#9a8a95" stroke-width="0.8"/>
<circle cx="214.1" cy="285.8" r="1.3" fill="#e6eae8" stroke="#857a88" stroke-width="0.8"/>
<circle cx="207.4" cy="278.7" r="1.6" fill="#e6eae8" stroke="#9a8a95" stroke-width="0.8"/>
<circle cx="242.5" cy="284.3" r="1.3" fill="#e6eae8" stroke="#7d8583" stroke-width="0.8"/>
<circle cx="243.1" cy="250.4" r="1.7" fill="#e6eae8" stroke="#8a8f8d" stroke-width="0.8"/>
<circle cx="208.2" cy="266.6" r="1.5" fill="#e6eae8" stroke="#7d8583" stroke-width="0.8"/>
<circle cx="234.9" cy="285.1" r="1.3" fill="#e6eae8" stroke="#7d8583" stroke-width="0.8"/>
<circle cx="206.0" cy="259.7" r="1.2" fill="#e6eae8" stroke="#857a88" stroke-width="0.8"/>
<circle cx="218.5" cy="283.3" r="1.8" fill="#e6eae8" stroke="#8a8f8d" stroke-width="0.8"/>
<circle cx="210.2" cy="257.0" r="1.9" fill="#e6eae8" stroke="#7d8583" stroke-width="0.8"/>
<circle cx="43.7" cy="241.8" r="1.7" fill="#e6eae8" stroke="#9a8a95" stroke-width="0.8"/>
<circle cx="70.0" cy="288.3" r="1.5" fill="#e6eae8" stroke="#857a88" stroke-width="0.8"/>
<circle cx="48.6" cy="248.2" r="1.1" fill="#e6eae8" stroke="#857a88" stroke-width="0.8"/>
<circle cx="62.4" cy="284.2" r="1.4" fill="#e6eae8" stroke="#7d8583" stroke-width="0.8"/>
<circle cx="26.8" cy="267.6" r="1.6" fill="#e6eae8" stroke="#8a8f8d" stroke-width="0.8"/>
<circle cx="31.0" cy="265.3" r="1.8" fill="#e6eae8" stroke="#7d8583" stroke-width="0.8"/>
<circle cx="74.1" cy="282.8" r="1.6" fill="#e6eae8" stroke="#857a88" stroke-width="0.8"/>
<circle cx="43.5" cy="242.5" r="1.3" fill="#e6eae8" stroke="#857a88" stroke-width="0.8"/>
<circle cx="90.6" cy="265.0" r="1.2" fill="#e6eae8" stroke="#9a8a95" stroke-width="0.8"/>
<circle cx="45.0" cy="251.2" r="1.5" fill="#e6eae8" stroke="#9a8a95" stroke-width="0.8"/>
<circle cx="68.5" cy="247.4" r="1.4" fill="#e6eae8" stroke="#8a8f8d" stroke-width="0.8"/>
<circle cx="90.4" cy="270.3" r="1.6" fill="#e6eae8" stroke="#9a8a95" stroke-width="0.8"/>
<circle cx="85.2" cy="278.6" r="1.3" fill="#e6eae8" stroke="#8a8f8d" stroke-width="0.8"/>
<circle cx="54.3" cy="285.8" r="1.2" fill="#e6eae8" stroke="#7d8583" stroke-width="0.8"/>
<circle cx="72.1" cy="246.6" r="1.7" fill="#e6eae8" stroke="#857a88" stroke-width="0.8"/>
<circle cx="42.8" cy="288.7" r="1.8" fill="#e6eae8" stroke="#9a8a95" stroke-width="0.8"/>
<circle cx="90.0" cy="261.2" r="1.7" fill="#e6eae8" stroke="#9a8a95" stroke-width="0.8"/>
<circle cx="71.0" cy="288.2" r="1.1" fill="#e6eae8" stroke="#7d8583" stroke-width="0.8"/>
<circle cx="64.9" cy="247.0" r="1.7" fill="#e6eae8" stroke="#857a88" stroke-width="0.8"/>
<circle cx="37.8" cy="259.8" r="1.3" fill="#e6eae8" stroke="#7d8583" stroke-width="0.8"/>
<circle cx="91.0" cy="272.4" r="1.4" fill="#e6eae8" stroke="#7d8583" stroke-width="0.8"/>
<circle cx="68.1" cy="239.1" r="1.6" fill="#e6eae8" stroke="#8a8f8d" stroke-width="0.8"/>
<circle cx="38.4" cy="247.3" r="1.5" fill="#e6eae8" stroke="#7d8583" stroke-width="0.8"/>
<circle cx="67.1" cy="288.7" r="1.4" fill="#e6eae8" stroke="#8a8f8d" stroke-width="0.8"/>
<circle cx="79.8" cy="276.7" r="1.0" fill="#e6eae8" stroke="#7d8583" stroke-width="0.8"/>
<circle cx="86.1" cy="252.5" r="1.3" fill="#e6eae8" stroke="#8a8f8d" stroke-width="0.8"/>
<circle cx="66.7" cy="242.2" r="1.2" fill="#e6eae8" stroke="#9a8a95" stroke-width="0.8"/>
<circle cx="69.1" cy="281.8" r="1.0" fill="#e6eae8" stroke="#7d8583" stroke-width="0.8"/>
<circle cx="31.2" cy="265.3" r="1.7" fill="#e6eae8" stroke="#857a88" stroke-width="0.8"/>
<circle cx="30.2" cy="252.8" r="1.4" fill="#e6eae8" stroke="#7d8583" stroke-width="0.8"/>
<circle cx="47.4" cy="243.6" r="1.9" fill="#e6eae8" stroke="#8a8f8d" stroke-width="0.8"/>
<circle cx="32.9" cy="268.4" r="1.1" fill="#e6eae8" stroke="#857a88" stroke-width="0.8"/>
<circle cx="65.7" cy="283.9" r="1.0" fill="#e6eae8" stroke="#7d8583" stroke-width="0.8"/>
<circle cx="90.5" cy="266.4" r="1.9" fill="#e6eae8" stroke="#7d8583" stroke-width="0.8"/>
<circle cx="64.7" cy="283.8" r="1.4" fill="#e6eae8" stroke="#9a8a95" stroke-width="0.8"/>
<circle cx="55.1" cy="245.0" r="1.7" fill="#e6eae8" stroke="#8a8f8d" stroke-width="0.8"/>
<circle cx="83.8" cy="255.0" r="1.7" fill="#e6eae8" stroke="#8a8f8d" stroke-width="0.8"/>
<circle cx="57.0" cy="246.3" r="1.6" fill="#e6eae8" stroke="#857a88" stroke-width="0.8"/>
<circle cx="27.3" cy="271.6" r="1.2" fill="#e6eae8" stroke="#7d8583" stroke-width="0.8"/>
<circle cx="55.4" cy="247.3" r="1.0" fill="#e6eae8" stroke="#7d8583" stroke-width="0.8"/>
<circle cx="39.9" cy="278.5" r="1.5" fill="#e6eae8" stroke="#857a88" stroke-width="0.8"/>
<circle cx="39.6" cy="251.7" r="1.9" fill="#e6eae8" stroke="#857a88" stroke-width="0.8"/>
<circle cx="35.9" cy="268.7" r="1.9" fill="#e6eae8" stroke="#7d8583" stroke-width="0.8"/>
<circle cx="40.3" cy="283.3" r="1.6" fill="#e6eae8" stroke="#857a88" stroke-width="0.8"/>
<circle cx="28.5" cy="268.7" r="1.4" fill="#e6eae8" stroke="#9a8a95" stroke-width="0.8"/>
<circle cx="193.1" cy="350.5" r="1.0" fill="#e6eae8" stroke="#8a9290" stroke-width="0.7"/>
<circle cx="153.9" cy="365.5" r="1.4" fill="#e6eae8" stroke="#a0969c" stroke-width="0.7"/>
<circle cx="84.0" cy="357.4" r="1.6" fill="#e6eae8" stroke="#8a9290" stroke-width="0.7"/>
<circle cx="148.9" cy="304.2" r="1.1" fill="#e6eae8" stroke="#8a9290" stroke-width="0.7"/>
<circle cx="94.8" cy="371.6" r="1.3" fill="#e6eae8" stroke="#8a9290" stroke-width="0.7"/>
<circle cx="198.6" cy="299.7" r="0.8" fill="#e6eae8" stroke="#9aa19f" stroke-width="0.7"/>
<circle cx="68.6" cy="277.2" r="1.5" fill="#e6eae8" stroke="#8a9290" stroke-width="0.7"/>
<circle cx="73.5" cy="274.2" r="1.5" fill="#e6eae8" stroke="#a0969c" stroke-width="0.7"/>
<circle cx="39.4" cy="423.6" r="1.4" fill="#e6eae8" stroke="#a0969c" stroke-width="0.7"/>
<circle cx="169.0" cy="412.6" r="1.1" fill="#e6eae8" stroke="#8a9290" stroke-width="0.7"/>
<circle cx="134.1" cy="335.8" r="1.1" fill="#e6eae8" stroke="#a0969c" stroke-width="0.7"/>
<circle cx="228.5" cy="290.9" r="1.3" fill="#e6eae8" stroke="#a0969c" stroke-width="0.7"/>
<circle cx="99.3" cy="375.8" r="1.5" fill="#e6eae8" stroke="#a0969c" stroke-width="0.7"/>
<circle cx="185.0" cy="390.7" r="1.2" fill="#e6eae8" stroke="#8a9290" stroke-width="0.7"/>
<circle cx="133.2" cy="312.6" r="0.9" fill="#e6eae8" stroke="#9aa19f" stroke-width="0.7"/>
<circle cx="143.7" cy="409.6" r="1.5" fill="#e6eae8" stroke="#a0969c" stroke-width="0.7"/>
<circle cx="81.4" cy="339.6" r="1.0" fill="#e6eae8" stroke="#8a9290" stroke-width="0.7"/>
<circle cx="50.3" cy="281.3" r="1.4" fill="#e6eae8" stroke="#9aa19f" stroke-width="0.7"/>
<circle cx="143.3" cy="313.2" r="1.4" fill="#e6eae8" stroke="#8a9290" stroke-width="0.7"/>
<circle cx="63.4" cy="414.1" r="1.2" fill="#e6eae8" stroke="#8a9290" stroke-width="0.7"/>
<circle cx="93.6" cy="332.0" r="0.9" fill="#e6eae8" stroke="#9aa19f" stroke-width="0.7"/>
<circle cx="147.9" cy="310.7" r="1.2" fill="#e6eae8" stroke="#8a9290" stroke-width="0.7"/>
<circle cx="26.7" cy="285.6" r="1.5" fill="#e6eae8" stroke="#a0969c" stroke-width="0.7"/>
<circle cx="121.2" cy="350.5" r="1.0" fill="#e6eae8" stroke="#9aa19f" stroke-width="0.7"/>
<circle cx="106.7" cy="418.4" r="1.4" fill="#e6eae8" stroke="#a0969c" stroke-width="0.7"/>
<circle cx="236.2" cy="294.5" r="0.8" fill="#e6eae8" stroke="#8a9290" stroke-width="0.7"/>
<circle cx="243.7" cy="316.7" r="0.8" fill="#e6eae8" stroke="#8a9290" stroke-width="0.7"/>
<circle cx="138.3" cy="404.8" r="1.2" fill="#e6eae8" stroke="#8a9290" stroke-width="0.7"/>
<circle cx="212.0" cy="363.5" r="1.5" fill="#e6eae8" stroke="#a0969c" stroke-width="0.7"/>
<circle cx="235.2" cy="295.0" r="1.3" fill="#e6eae8" stroke="#a0969c" stroke-width="0.7"/>
<circle cx="25.6" cy="413.8" r="1.2" fill="#e6eae8" stroke="#8a9290" stroke-width="0.7"/>
<circle cx="112.1" cy="277.6" r="1.6" fill="#e6eae8" stroke="#a0969c" stroke-width="0.7"/>
<circle cx="57.4" cy="255.9" r="1.0" fill="#e6eae8" stroke="#9aa19f" stroke-width="0.7"/>
<circle cx="18.3" cy="348.0" r="0.8" fill="#e6eae8" stroke="#8a9290" stroke-width="0.7"/>
<circle cx="66.2" cy="340.9" r="1.4" fill="#e6eae8" stroke="#9aa19f" stroke-width="0.7"/>
<circle cx="17.4" cy="274.9" r="1.4" fill="#e6eae8" stroke="#8a9290" stroke-width="0.7"/>
<circle cx="167.1" cy="302.5" r="1.3" fill="#e6eae8" stroke="#a0969c" stroke-width="0.7"/>
<circle cx="29.4" cy="307.0" r="1.0" fill="#e6eae8" stroke="#8a9290" stroke-width="0.7"/>
<circle cx="94.4" cy="317.0" r="1.2" fill="#e6eae8" stroke="#8a9290" stroke-width="0.7"/>
<circle cx="224.3" cy="408.7" r="1.2" fill="#e6eae8" stroke="#8a9290" stroke-width="0.7"/>
<circle cx="196.5" cy="277.1" r="1.5" fill="#e6eae8" stroke="#8a9290" stroke-width="0.7"/>
<circle cx="229.1" cy="404.1" r="1.5" fill="#e6eae8" stroke="#8a9290" stroke-width="0.7"/>
<circle cx="191.6" cy="420.5" r="1.5" fill="#e6eae8" stroke="#9aa19f" stroke-width="0.7"/>
<circle cx="207.0" cy="361.5" r="1.2" fill="#e6eae8" stroke="#9aa19f" stroke-width="0.7"/>
<circle cx="81.7" cy="290.9" r="0.9" fill="#e6eae8" stroke="#9aa19f" stroke-width="0.7"/>
<circle cx="38.4" cy="288.7" r="0.8" fill="#e6eae8" stroke="#a0969c" stroke-width="0.7"/>
<circle cx="112.8" cy="408.2" r="1.2" fill="#e6eae8" stroke="#8a9290" stroke-width="0.7"/>
<circle cx="68.2" cy="322.7" r="0.9" fill="#e6eae8" stroke="#9aa19f" stroke-width="0.7"/>
<circle cx="141.6" cy="302.1" r="1.4" fill="#e6eae8" stroke="#9aa19f" stroke-width="0.7"/>
<circle cx="122.3" cy="305.9" r="1.5" fill="#e6eae8" stroke="#8a9290" stroke-width="0.7"/>
<circle cx="41.0" cy="340.9" r="1.3" fill="#e6eae8" stroke="#a0969c" stroke-width="0.7"/>
<circle cx="227.0" cy="349.2" r="1.5" fill="#e6eae8" stroke="#8a9290" stroke-width="0.7"/>
<circle cx="66.1" cy="285.1" r="1.1" fill="#e6eae8" stroke="#9aa19f" stroke-width="0.7"/>
<circle cx="244.5" cy="414.6" r="0.9" fill="#e6eae8" stroke="#9aa19f" stroke-width="0.7"/>
<circle cx="104.2" cy="278.0" r="1.5" fill="#e6eae8" stroke="#9aa19f" stroke-width="0.7"/>
<circle cx="38.8" cy="363.5" r="1.2" fill="#e6eae8" stroke="#a0969c" stroke-width="0.7"/>
<circle cx="86.2" cy="274.1" r="0.8" fill="#e6eae8" stroke="#a0969c" stroke-width="0.7"/>
<circle cx="73.0" cy="313.5" r="0.8" fill="#e6eae8" stroke="#9aa19f" stroke-width="0.7"/>
<circle cx="56.6" cy="351.3" r="0.9" fill="#e6eae8" stroke="#8a9290" stroke-width="0.7"/>
<circle cx="129.7" cy="290.2" r="0.9" fill="#e6eae8" stroke="#a0969c" stroke-width="0.7"/>
<circle cx="23.1" cy="264.6" r="1.3" fill="#e6eae8" stroke="#9aa19f" stroke-width="0.7"/>
<circle cx="187.5" cy="280.4" r="0.9" fill="#e6eae8" stroke="#a0969c" stroke-width="0.7"/>
<circle cx="174.6" cy="394.3" r="1.3" fill="#e6eae8" stroke="#8a9290" stroke-width="0.7"/>
<circle cx="6.4" cy="372.9" r="1.2" fill="#e6eae8" stroke="#a0969c" stroke-width="0.7"/>
<circle cx="224.8" cy="341.8" r="1.1" fill="#e6eae8" stroke="#9aa19f" stroke-width="0.7"/>
<circle cx="206.9" cy="403.7" r="1.2" fill="#e6eae8" stroke="#8a9290" stroke-width="0.7"/>
<circle cx="102.7" cy="385.6" r="0.9" fill="#e6eae8" stroke="#a0969c" stroke-width="0.7"/>
<circle cx="68.2" cy="282.3" r="1.5" fill="#e6eae8" stroke="#9aa19f" stroke-width="0.7"/>
<circle cx="12.8" cy="374.7" r="1.3" fill="#e6eae8" stroke="#8a9290" stroke-width="0.7"/>
<circle cx="89.8" cy="415.8" r="1.6" fill="#e6eae8" stroke="#8a9290" stroke-width="0.7"/>
<circle cx="33.1" cy="376.9" r="1.5" fill="#e6eae8" stroke="#9aa19f" stroke-width="0.7"/>
<circle cx="191.8" cy="404.4" r="1.3" fill="#e6eae8" stroke="#8a9290" stroke-width="0.7"/>
<circle cx="74.3" cy="268.3" r="1.4" fill="#e6eae8" stroke="#9aa19f" stroke-width="0.7"/>
<circle cx="127.7" cy="344.0" r="1.2" fill="#e6eae8" stroke="#8a9290" stroke-width="0.7"/>
<circle cx="62.7" cy="264.9" r="1.3" fill="#e6eae8" stroke="#8a9290" stroke-width="0.7"/>
<circle cx="28.7" cy="293.8" r="1.5" fill="#e6eae8" stroke="#8a9290" stroke-width="0.7"/>
<circle cx="8.7" cy="414.8" r="1.4" fill="#e6eae8" stroke="#9aa19f" stroke-width="0.7"/>
<circle cx="8.3" cy="356.3" r="1.3" fill="#e6eae8" stroke="#a0969c" stroke-width="0.7"/>
<circle cx="61.4" cy="328.5" r="1.1" fill="#e6eae8" stroke="#8a9290" stroke-width="0.7"/>
<circle cx="176.8" cy="257.1" r="0.9" fill="#e6eae8" stroke="#9aa19f" stroke-width="0.7"/>
<circle cx="145.2" cy="385.3" r="0.9" fill="#e6eae8" stroke="#8a9290" stroke-width="0.7"/>
<circle cx="101.8" cy="273.5" r="1.3" fill="#e6eae8" stroke="#8a9290" stroke-width="0.7"/>
<circle cx="39.5" cy="351.5" r="1.4" fill="#e6eae8" stroke="#8a9290" stroke-width="0.7"/>
<circle cx="232.5" cy="252.3" r="1.3" fill="#e6eae8" stroke="#a0969c" stroke-width="0.7"/>
<circle cx="105.3" cy="399.3" r="1.2" fill="#e6eae8" stroke="#9aa19f" stroke-width="0.7"/>
<circle cx="237.9" cy="258.3" r="1.1" fill="#e6eae8" stroke="#9aa19f" stroke-width="0.7"/>
<circle cx="61.9" cy="309.0" r="1.1" fill="#e6eae8" stroke="#a0969c" stroke-width="0.7"/>
<circle cx="197.9" cy="412.4" r="1.5" fill="#e6eae8" stroke="#a0969c" stroke-width="0.7"/>
<circle cx="16.9" cy="341.6" r="1.6" fill="#e6eae8" stroke="#9aa19f" stroke-width="0.7"/>
<circle cx="64.1" cy="324.6" r="1.3" fill="#e6eae8" stroke="#9aa19f" stroke-width="0.7"/>
<circle cx="30.3" cy="282.6" r="1.1" fill="#e6eae8" stroke="#8a9290" stroke-width="0.7"/>
<circle cx="125.7" cy="252.7" r="0.9" fill="#e6eae8" stroke="#9aa19f" stroke-width="0.7"/>
<circle cx="191.2" cy="416.7" r="1.3" fill="#e6eae8" stroke="#8a9290" stroke-width="0.7"/>
<circle cx="12.3" cy="363.8" r="1.0" fill="#e6eae8" stroke="#a0969c" stroke-width="0.7"/>
<circle cx="154.3" cy="361.5" r="1.4" fill="#e6eae8" stroke="#8a9290" stroke-width="0.7"/>
<circle cx="153.7" cy="293.9" r="1.2" fill="#e6eae8" stroke="#9aa19f" stroke-width="0.7"/>
<circle cx="61.0" cy="256.1" r="0.9" fill="#e6eae8" stroke="#9aa19f" stroke-width="0.7"/>
<circle cx="160.1" cy="270.5" r="1.3" fill="#e6eae8" stroke="#a0969c" stroke-width="0.7"/>
<circle cx="221.2" cy="264.1" r="1.3" fill="#e6eae8" stroke="#8a9290" stroke-width="0.7"/>
<circle cx="110.0" cy="340.6" r="1.5" fill="#e6eae8" stroke="#9aa19f" stroke-width="0.7"/>
<circle cx="143.1" cy="298.1" r="1.4" fill="#e6eae8" stroke="#a0969c" stroke-width="0.7"/>
<circle cx="135.7" cy="399.3" r="1.3" fill="#e6eae8" stroke="#a0969c" stroke-width="0.7"/>
<circle cx="57.4" cy="318.2" r="1.2" fill="#e6eae8" stroke="#9aa19f" stroke-width="0.7"/>
<circle cx="115.1" cy="347.1" r="1.3" fill="#e6eae8" stroke="#9aa19f" stroke-width="0.7"/>
<circle cx="201.3" cy="254.5" r="1.1" fill="#e6eae8" stroke="#8a9290" stroke-width="0.7"/>
<circle cx="127.5" cy="317.6" r="1.3" fill="#e6eae8" stroke="#8a9290" stroke-width="0.7"/>
<circle cx="226.7" cy="278.1" r="1.6" fill="#e6eae8" stroke="#9aa19f" stroke-width="0.7"/>
<circle cx="138.2" cy="337.0" r="1.0" fill="#e6eae8" stroke="#8a9290" stroke-width="0.7"/>
<circle cx="75.2" cy="387.2" r="0.9" fill="#e6eae8" stroke="#8a9290" stroke-width="0.7"/>
<circle cx="150.0" cy="311.3" r="1.3" fill="#e6eae8" stroke="#a0969c" stroke-width="0.7"/>
<circle cx="97.5" cy="327.7" r="1.4" fill="#e6eae8" stroke="#8a9290" stroke-width="0.7"/>
<circle cx="129.5" cy="426.1" r="1.3" fill="#e6eae8" stroke="#8a9290" stroke-width="0.7"/>
<circle cx="104.4" cy="368.6" r="0.9" fill="#e6eae8" stroke="#8a9290" stroke-width="0.7"/>
<circle cx="152.5" cy="401.1" r="1.5" fill="#e6eae8" stroke="#a0969c" stroke-width="0.7"/>
<circle cx="26.9" cy="402.3" r="1.5" fill="#e6eae8" stroke="#9aa19f" stroke-width="0.7"/>
<circle cx="68.8" cy="361.9" r="1.3" fill="#e6eae8" stroke="#a0969c" stroke-width="0.7"/>
<circle cx="34.7" cy="404.9" r="0.8" fill="#e6eae8" stroke="#a0969c" stroke-width="0.7"/>
<circle cx="145.2" cy="338.1" r="1.6" fill="#e6eae8" stroke="#a0969c" stroke-width="0.7"/>
<circle cx="40.1" cy="401.1" r="1.0" fill="#e6eae8" stroke="#a0969c" stroke-width="0.7"/>
<circle cx="150.4" cy="316.9" r="1.2" fill="#e6eae8" stroke="#9aa19f" stroke-width="0.7"/>
<circle cx="73.4" cy="312.1" r="1.1" fill="#e6eae8" stroke="#a0969c" stroke-width="0.7"/>
<circle cx="137.8" cy="317.8" r="1.1" fill="#e6eae8" stroke="#a0969c" stroke-width="0.7"/>
<circle cx="208.7" cy="338.4" r="1.2" fill="#e6eae8" stroke="#8a9290" stroke-width="0.7"/>
<circle cx="133.4" cy="392.7" r="1.1" fill="#e6eae8" stroke="#9aa19f" stroke-width="0.7"/>
<circle cx="144.2" cy="264.7" r="1.5" fill="#e6eae8" stroke="#9aa19f" stroke-width="0.7"/>
<circle cx="237.5" cy="357.8" r="1.0" fill="#e6eae8" stroke="#9aa19f" stroke-width="0.7"/>
<circle cx="53.2" cy="325.3" r="1.5" fill="#e6eae8" stroke="#8a9290" stroke-width="0.7"/>
<circle cx="10.2" cy="294.9" r="1.5" fill="#e6eae8" stroke="#9aa19f" stroke-width="0.7"/>
<circle cx="225.8" cy="387.5" r="1.2" fill="#e6eae8" stroke="#9aa19f" stroke-width="0.7"/>
<circle cx="128.7" cy="341.6" r="1.3" fill="#e6eae8" stroke="#9aa19f" stroke-width="0.7"/>
<circle cx="115.9" cy="256.3" r="1.3" fill="#e6eae8" stroke="#9aa19f" stroke-width="0.7"/>
<circle cx="232.4" cy="370.1" r="1.2" fill="#e6eae8" stroke="#8a9290" stroke-width="0.7"/>
<circle cx="102.7" cy="338.7" r="1.3" fill="#e6eae8" stroke="#a0969c" stroke-width="0.7"/>
<circle cx="41.2" cy="282.7" r="1.1" fill="#e6eae8" stroke="#9aa19f" stroke-width="0.7"/>
<circle cx="110.1" cy="360.8" r="1.6" fill="#e6eae8" stroke="#9aa19f" stroke-width="0.7"/>
<circle cx="170.7" cy="382.6" r="0.9" fill="#e6eae8" stroke="#9aa19f" stroke-width="0.7"/>
<circle cx="80.7" cy="424.1" r="1.5" fill="#e6eae8" stroke="#a0969c" stroke-width="0.7"/>
<circle cx="46.3" cy="366.4" r="1.0" fill="#e6eae8" stroke="#9aa19f" stroke-width="0.7"/>
<circle cx="201.8" cy="426.3" r="1.5" fill="#e6eae8" stroke="#9aa19f" stroke-width="0.7"/>
<circle cx="156.1" cy="342.8" r="1.5" fill="#e6eae8" stroke="#8a9290" stroke-width="0.7"/>
<circle cx="125.7" cy="282.7" r="0.9" fill="#e6eae8" stroke="#a0969c" stroke-width="0.7"/>
<circle cx="140.2" cy="268.1" r="1.3" fill="#e6eae8" stroke="#a0969c" stroke-width="0.7"/>
<circle cx="157.4" cy="256.6" r="1.1" fill="#e6eae8" stroke="#8a9290" stroke-width="0.7"/>
<circle cx="77.9" cy="372.6" r="0.8" fill="#e6eae8" stroke="#9aa19f" stroke-width="0.7"/>
<circle cx="99.8" cy="266.6" r="0.8" fill="#e6eae8" stroke="#8a9290" stroke-width="0.7"/>
<circle cx="51.4" cy="338.1" r="1.2" fill="#e6eae8" stroke="#9aa19f" stroke-width="0.7"/>
<circle cx="213.9" cy="409.3" r="1.2" fill="#e6eae8" stroke="#8a9290" stroke-width="0.7"/>
<circle cx="142.4" cy="322.6" r="0.9" fill="#e6eae8" stroke="#8a9290" stroke-width="0.7"/>
<circle cx="128.9" cy="340.2" r="0.8" fill="#e6eae8" stroke="#8a9290" stroke-width="0.7"/>
<circle cx="45.1" cy="342.5" r="1.5" fill="#e6eae8" stroke="#a0969c" stroke-width="0.7"/>
<circle cx="107.8" cy="392.3" r="1.3" fill="#e6eae8" stroke="#a0969c" stroke-width="0.7"/>
<circle cx="189.7" cy="306.8" r="1.4" fill="#e6eae8" stroke="#9aa19f" stroke-width="0.7"/>
<circle cx="70.4" cy="254.9" r="1.3" fill="#e6eae8" stroke="#a0969c" stroke-width="0.7"/>
<circle cx="19.2" cy="283.3" r="1.3" fill="#e6eae8" stroke="#8a9290" stroke-width="0.7"/>
<circle cx="17.2" cy="408.4" r="1.3" fill="#e6eae8" stroke="#8a9290" stroke-width="0.7"/>
<circle cx="110.0" cy="360.0" r="1.0" fill="#e6eae8" stroke="#8a9290" stroke-width="0.7"/>
<circle cx="42.4" cy="354.1" r="0.9" fill="#e6eae8" stroke="#8a9290" stroke-width="0.7"/>
<circle cx="220.6" cy="395.0" r="1.0" fill="#e6eae8" stroke="#a0969c" stroke-width="0.7"/>
<circle cx="64.7" cy="407.7" r="1.6" fill="#e6eae8" stroke="#8a9290" stroke-width="0.7"/>
<circle cx="62.5" cy="318.8" r="1.4" fill="#e6eae8" stroke="#8a9290" stroke-width="0.7"/>
<circle cx="103.7" cy="320.3" r="1.4" fill="#e6eae8" stroke="#8a9290" stroke-width="0.7"/>
<circle cx="195.1" cy="292.6" r="0.9" fill="#e6eae8" stroke="#9aa19f" stroke-width="0.7"/>
<circle cx="95.3" cy="250.4" r="1.5" fill="#e6eae8" stroke="#9aa19f" stroke-width="0.7"/>
<circle cx="139.3" cy="269.6" r="1.2" fill="#e6eae8" stroke="#9aa19f" stroke-width="0.7"/>
<circle cx="84.9" cy="365.6" r="1.6" fill="#e6eae8" stroke="#9aa19f" stroke-width="0.7"/>
<circle cx="203.0" cy="311.9" r="1.0" fill="#e6eae8" stroke="#8a9290" stroke-width="0.7"/>
<circle cx="116.6" cy="310.7" r="1.1" fill="#e6eae8" stroke="#9aa19f" stroke-width="0.7"/>
<circle cx="164.1" cy="310.1" r="0.9" fill="#e6eae8" stroke="#a0969c" stroke-width="0.7"/>
<circle cx="35.3" cy="284.1" r="1.2" fill="#e6eae8" stroke="#8a9290" stroke-width="0.7"/>
<circle cx="137.7" cy="332.6" r="1.4" fill="#e6eae8" stroke="#8a9290" stroke-width="0.7"/>
<circle cx="42.4" cy="312.2" r="1.4" fill="#e6eae8" stroke="#9aa19f" stroke-width="0.7"/>
<circle cx="155.7" cy="353.0" r="1.0" fill="#e6eae8" stroke="#9aa19f" stroke-width="0.7"/>
<circle cx="125.7" cy="289.7" r="1.2" fill="#e6eae8" stroke="#8a9290" stroke-width="0.7"/>
<circle cx="231.0" cy="427.6" r="1.3" fill="#e6eae8" stroke="#9aa19f" stroke-width="0.7"/>
<circle cx="145.6" cy="314.9" r="1.0" fill="#e6eae8" stroke="#a0969c" stroke-width="0.7"/>
<circle cx="127.0" cy="271.5" r="1.4" fill="#e6eae8" stroke="#a0969c" stroke-width="0.7"/>
<circle cx="127.6" cy="346.1" r="1.0" fill="#e6eae8" stroke="#9aa19f" stroke-width="0.7"/>
<circle cx="10.9" cy="377.6" r="0.9" fill="#e6eae8" stroke="#8a9290" stroke-width="0.7"/>
<circle cx="98.0" cy="264.4" r="0.9" fill="#e6eae8" stroke="#8a9290" stroke-width="0.7"/>
<circle cx="81.4" cy="367.6" r="0.9" fill="#e6eae8" stroke="#a0969c" stroke-width="0.7"/>
<circle cx="224.2" cy="393.1" r="1.4" fill="#e6eae8" stroke="#8a9290" stroke-width="0.7"/>
<circle cx="19.9" cy="304.7" r="1.0" fill="#e6eae8" stroke="#8a9290" stroke-width="0.7"/>
<circle cx="200.9" cy="320.4" r="1.1" fill="#e6eae8" stroke="#9aa19f" stroke-width="0.7"/>
<circle cx="190.8" cy="407.0" r="1.5" fill="#e6eae8" stroke="#8a9290" stroke-width="0.7"/>
<circle cx="229.8" cy="280.6" r="1.1" fill="#e6eae8" stroke="#a0969c" stroke-width="0.7"/>
<circle cx="170.5" cy="409.6" r="0.8" fill="#e6eae8" stroke="#a0969c" stroke-width="0.7"/>
<circle cx="172.5" cy="293.5" r="1.5" fill="#e6eae8" stroke="#9aa19f" stroke-width="0.7"/>
<circle cx="222.4" cy="266.5" r="1.0" fill="#e6eae8" stroke="#9aa19f" stroke-width="0.7"/>
<circle cx="224.0" cy="380.4" r="1.4" fill="#e6eae8" stroke="#8a9290" stroke-width="0.7"/>
<circle cx="101.5" cy="357.9" r="1.1" fill="#e6eae8" stroke="#9aa19f" stroke-width="0.7"/>
<circle cx="41.6" cy="381.2" r="1.2" fill="#e6eae8" stroke="#a0969c" stroke-width="0.7"/>
<circle cx="157.8" cy="281.2" r="1.5" fill="#e6eae8" stroke="#a0969c" stroke-width="0.7"/>
<circle cx="124.0" cy="342.2" r="1.5" fill="#e6eae8" stroke="#a0969c" stroke-width="0.7"/>
<circle cx="168.9" cy="311.5" r="0.8" fill="#e6eae8" stroke="#a0969c" stroke-width="0.7"/>
<circle cx="73.0" cy="256.7" r="1.5" fill="#e6eae8" stroke="#a0969c" stroke-width="0.7"/>
<circle cx="171.7" cy="423.4" r="1.3" fill="#e6eae8" stroke="#8a9290" stroke-width="0.7"/>
<circle cx="194.7" cy="286.6" r="1.5" fill="#e6eae8" stroke="#a0969c" stroke-width="0.7"/>
<circle cx="224.2" cy="323.7" r="1.4" fill="#e6eae8" stroke="#a0969c" stroke-width="0.7"/>
<circle cx="152.3" cy="288.5" r="1.2" fill="#e6eae8" stroke="#9aa19f" stroke-width="0.7"/>
<circle cx="232.1" cy="324.9" r="1.5" fill="#e6eae8" stroke="#a0969c" stroke-width="0.7"/>
<circle cx="125.2" cy="372.2" r="1.5" fill="#e6eae8" stroke="#a0969c" stroke-width="0.7"/>
<circle cx="113.1" cy="258.7" r="1.4" fill="#e6eae8" stroke="#9aa19f" stroke-width="0.7"/>
<circle cx="166.2" cy="400.5" r="1.4" fill="#e6eae8" stroke="#9aa19f" stroke-width="0.7"/>
<circle cx="187.6" cy="256.8" r="1.4" fill="#e6eae8" stroke="#a0969c" stroke-width="0.7"/>
<circle cx="66.9" cy="346.8" r="1.6" fill="#e6eae8" stroke="#a0969c" stroke-width="0.7"/>
<circle cx="60.9" cy="295.6" r="1.6" fill="#e6eae8" stroke="#8a9290" stroke-width="0.7"/>
<circle cx="90.2" cy="322.7" r="1.0" fill="#e6eae8" stroke="#9aa19f" stroke-width="0.7"/>
<circle cx="37.1" cy="371.8" r="1.2" fill="#e6eae8" stroke="#9aa19f" stroke-width="0.7"/>
<circle cx="61.3" cy="292.3" r="1.2" fill="#e6eae8" stroke="#9aa19f" stroke-width="0.7"/>
<circle cx="36.1" cy="363.7" r="1.4" fill="#e6eae8" stroke="#8a9290" stroke-width="0.7"/>
<circle cx="217.2" cy="274.4" r="1.3" fill="#e6eae8" stroke="#9aa19f" stroke-width="0.7"/>
<circle cx="155.7" cy="270.1" r="1.1" fill="#e6eae8" stroke="#8a9290" stroke-width="0.7"/>
<circle cx="167.2" cy="276.7" r="1.6" fill="#e6eae8" stroke="#9aa19f" stroke-width="0.7"/>
<circle cx="204.3" cy="269.5" r="1.0" fill="#e6eae8" stroke="#9aa19f" stroke-width="0.7"/>
<circle cx="121.3" cy="256.8" r="1.5" fill="#e6eae8" stroke="#9aa19f" stroke-width="0.7"/>
<circle cx="51.5" cy="374.6" r="1.2" fill="#e6eae8" stroke="#8a9290" stroke-width="0.7"/>
<circle cx="42.9" cy="328.7" r="1.3" fill="#e6eae8" stroke="#9aa19f" stroke-width="0.7"/>
<circle cx="44.5" cy="261.9" r="0.8" fill="#e6eae8" stroke="#9aa19f" stroke-width="0.7"/>
<circle cx="24.2" cy="377.4" r="1.6" fill="#e6eae8" stroke="#a0969c" stroke-width="0.7"/>
<circle cx="67.7" cy="364.5" r="1.6" fill="#e6eae8" stroke="#9aa19f" stroke-width="0.7"/>
<circle cx="49.7" cy="346.2" r="0.8" fill="#e6eae8" stroke="#8a9290" stroke-width="0.7"/>
<circle cx="159.3" cy="361.4" r="1.5" fill="#e6eae8" stroke="#a0969c" stroke-width="0.7"/>
<circle cx="172.5" cy="365.9" r="0.9" fill="#e6eae8" stroke="#a0969c" stroke-width="0.7"/>
<circle cx="10.7" cy="387.6" r="1.5" fill="#e6eae8" stroke="#9aa19f" stroke-width="0.7"/>
<circle cx="92.7" cy="421.2" r="1.2" fill="#e6eae8" stroke="#a0969c" stroke-width="0.7"/>
<circle cx="44.6" cy="389.4" r="1.5" fill="#e6eae8" stroke="#a0969c" stroke-width="0.7"/>
<circle cx="152.6" cy="316.9" r="1.3" fill="#e6eae8" stroke="#9aa19f" stroke-width="0.7"/>
<circle cx="81.2" cy="315.0" r="1.2" fill="#e6eae8" stroke="#9aa19f" stroke-width="0.7"/>
<circle cx="205.9" cy="294.4" r="0.8" fill="#e6eae8" stroke="#8a9290" stroke-width="0.7"/>
<circle cx="140.6" cy="361.4" r="1.5" fill="#e6eae8" stroke="#a0969c" stroke-width="0.7"/>
<circle cx="101.2" cy="258.0" r="1.0" fill="#e6eae8" stroke="#9aa19f" stroke-width="0.7"/>
<circle cx="124.4" cy="277.2" r="1.0" fill="#e6eae8" stroke="#a0969c" stroke-width="0.7"/>
<circle cx="155.0" cy="274.4" r="1.0" fill="#e6eae8" stroke="#8a9290" stroke-width="0.7"/>
<circle cx="110.8" cy="422.6" r="0.9" fill="#e6eae8" stroke="#8a9290" stroke-width="0.7"/>
<circle cx="209.0" cy="334.8" r="1.0" fill="#e6eae8" stroke="#9aa19f" stroke-width="0.7"/>
<circle cx="4.7" cy="399.5" r="1.5" fill="#e6eae8" stroke="#a0969c" stroke-width="0.7"/>
<circle cx="106.5" cy="299.7" r="1.3" fill="#e6eae8" stroke="#a0969c" stroke-width="0.7"/>
<circle cx="175.3" cy="408.4" r="0.9" fill="#e6eae8" stroke="#8a9290" stroke-width="0.7"/>
<circle cx="164.5" cy="396.9" r="1.5" fill="#e6eae8" stroke="#8a9290" stroke-width="0.7"/>
<circle cx="95.3" cy="249.8" r="1.4" fill="#e6eae8" stroke="#a0969c" stroke-width="0.7"/>
<circle cx="87.9" cy="284.0" r="0.9" fill="#e6eae8" stroke="#9aa19f" stroke-width="0.7"/>
<circle cx="128.5" cy="325.7" r="1.2" fill="#e6eae8" stroke="#a0969c" stroke-width="0.7"/>
<circle cx="212.6" cy="423.4" r="1.6" fill="#e6eae8" stroke="#a0969c" stroke-width="0.7"/>
<circle cx="23.6" cy="393.9" r="1.4" fill="#e6eae8" stroke="#9aa19f" stroke-width="0.7"/>
<circle cx="150.8" cy="302.2" r="1.3" fill="#e6eae8" stroke="#9aa19f" stroke-width="0.7"/>
<circle cx="119.9" cy="364.9" r="1.0" fill="#e6eae8" stroke="#9aa19f" stroke-width="0.7"/>
<circle cx="131.8" cy="362.4" r="1.5" fill="#e6eae8" stroke="#8a9290" stroke-width="0.7"/>
<circle cx="167.6" cy="329.1" r="0.9" fill="#e6eae8" stroke="#a0969c" stroke-width="0.7"/>
<circle cx="143.6" cy="348.3" r="1.6" fill="#e6eae8" stroke="#9aa19f" stroke-width="0.7"/>
<circle cx="131.7" cy="350.1" r="1.1" fill="#e6eae8" stroke="#8a9290" stroke-width="0.7"/>
<circle cx="58.8" cy="422.4" r="1.0" fill="#e6eae8" stroke="#a0969c" stroke-width="0.7"/>
<circle cx="31.1" cy="403.3" r="1.0" fill="#e6eae8" stroke="#8a9290" stroke-width="0.7"/>
<circle cx="49.2" cy="369.0" r="1.4" fill="#e6eae8" stroke="#8a9290" stroke-width="0.7"/>
<circle cx="137.5" cy="289.6" r="1.3" fill="#e6eae8" stroke="#8a9290" stroke-width="0.7"/>
<circle cx="181.3" cy="411.8" r="1.3" fill="#e6eae8" stroke="#9aa19f" stroke-width="0.7"/>
<circle cx="167.8" cy="392.3" r="0.9" fill="#e6eae8" stroke="#a0969c" stroke-width="0.7"/>
<circle cx="136.7" cy="376.9" r="1.4" fill="#e6eae8" stroke="#8a9290" stroke-width="0.7"/>
<circle cx="155.0" cy="420.9" r="1.2" fill="#e6eae8" stroke="#9aa19f" stroke-width="0.7"/>
<circle cx="204.1" cy="319.2" r="0.9" fill="#e6eae8" stroke="#8a9290" stroke-width="0.7"/>
<circle cx="139.7" cy="387.7" r="0.9" fill="#e6eae8" stroke="#a0969c" stroke-width="0.7"/>
<circle cx="16.1" cy="290.4" r="0.7" fill="#6f7775" opacity="0.8"/>
<circle cx="174.0" cy="421.9" r="0.7" fill="#6f7775" opacity="0.8"/>
<circle cx="175.3" cy="325.0" r="0.9" fill="#6f7775" opacity="0.8"/>
<circle cx="139.9" cy="414.9" r="0.9" fill="#6f7775" opacity="0.8"/>
<circle cx="91.9" cy="401.0" r="0.9" fill="#6f7775" opacity="0.8"/>
<circle cx="204.3" cy="269.5" r="0.7" fill="#808886" opacity="0.8"/>
<circle cx="178.8" cy="255.0" r="0.8" fill="#6f7775" opacity="0.8"/>
<circle cx="89.2" cy="306.9" r="0.8" fill="#6f7775" opacity="0.8"/>
<circle cx="228.7" cy="370.6" r="0.6" fill="#6f7775" opacity="0.8"/>
<circle cx="172.0" cy="250.9" r="1.0" fill="#808886" opacity="0.8"/>
<circle cx="29.8" cy="250.8" r="0.6" fill="#808886" opacity="0.8"/>
<circle cx="47.4" cy="348.4" r="0.6" fill="#808886" opacity="0.8"/>
<circle cx="206.9" cy="354.7" r="0.6" fill="#808886" opacity="0.8"/>
<circle cx="234.4" cy="249.5" r="0.7" fill="#6f7775" opacity="0.8"/>
<circle cx="121.4" cy="335.6" r="0.5" fill="#6f7775" opacity="0.8"/>
<circle cx="20.3" cy="360.5" r="0.8" fill="#808886" opacity="0.8"/>
<circle cx="208.5" cy="424.1" r="0.8" fill="#808886" opacity="0.8"/>
<circle cx="98.4" cy="406.8" r="0.8" fill="#6f7775" opacity="0.8"/>
<circle cx="90.4" cy="343.7" r="0.7" fill="#6f7775" opacity="0.8"/>
<circle cx="146.4" cy="255.0" r="0.6" fill="#808886" opacity="0.8"/>
<circle cx="180.2" cy="307.6" r="0.7" fill="#808886" opacity="0.8"/>
<circle cx="79.0" cy="308.4" r="0.7" fill="#6f7775" opacity="0.8"/>
<circle cx="7.0" cy="331.1" r="1.0" fill="#6f7775" opacity="0.8"/>
<circle cx="156.6" cy="380.0" r="0.6" fill="#808886" opacity="0.8"/>
<circle cx="69.0" cy="338.5" r="0.6" fill="#6f7775" opacity="0.8"/>
<circle cx="245.1" cy="253.2" r="0.8" fill="#6f7775" opacity="0.8"/>
<circle cx="215.7" cy="388.7" r="0.8" fill="#6f7775" opacity="0.8"/>
<circle cx="90.9" cy="298.5" r="0.9" fill="#6f7775" opacity="0.8"/>
<circle cx="168.9" cy="302.6" r="0.9" fill="#808886" opacity="0.8"/>
<circle cx="126.7" cy="363.2" r="0.7" fill="#808886" opacity="0.8"/>
<circle cx="83.9" cy="375.9" r="0.8" fill="#808886" opacity="0.8"/>
<circle cx="125.4" cy="410.6" r="0.9" fill="#808886" opacity="0.8"/>
<circle cx="38.9" cy="284.6" r="0.9" fill="#808886" opacity="0.8"/>
<circle cx="101.2" cy="319.5" r="0.9" fill="#6f7775" opacity="0.8"/>
<circle cx="145.8" cy="273.3" r="0.9" fill="#808886" opacity="0.8"/>
<circle cx="180.0" cy="347.9" r="1.0" fill="#808886" opacity="0.8"/>
<circle cx="20.0" cy="281.8" r="1.0" fill="#6f7775" opacity="0.8"/>
<circle cx="76.5" cy="311.7" r="0.7" fill="#808886" opacity="0.8"/>
<circle cx="178.7" cy="415.7" r="0.9" fill="#808886" opacity="0.8"/>
<circle cx="222.3" cy="297.5" r="0.6" fill="#6f7775" opacity="0.8"/>
<circle cx="187.8" cy="361.6" r="0.6" fill="#6f7775" opacity="0.8"/>
<circle cx="55.5" cy="320.1" r="0.6" fill="#808886" opacity="0.8"/>
<circle cx="213.7" cy="365.6" r="0.6" fill="#6f7775" opacity="0.8"/>
<circle cx="238.0" cy="357.0" r="0.5" fill="#808886" opacity="0.8"/>
<circle cx="178.2" cy="247.9" r="0.6" fill="#6f7775" opacity="0.8"/>
<circle cx="158.8" cy="415.9" r="0.6" fill="#808886" opacity="0.8"/>
<circle cx="214.6" cy="252.0" r="0.7" fill="#808886" opacity="0.8"/>
<circle cx="44.8" cy="405.0" r="0.9" fill="#6f7775" opacity="0.8"/>
<circle cx="155.4" cy="308.2" r="0.7" fill="#808886" opacity="0.8"/>
<circle cx="65.0" cy="331.8" r="0.5" fill="#808886" opacity="0.8"/>
<circle cx="140.2" cy="427.7" r="0.5" fill="#808886" opacity="0.8"/>
<circle cx="40.4" cy="250.4" r="0.6" fill="#6f7775" opacity="0.8"/>
<circle cx="89.7" cy="313.2" r="0.7" fill="#6f7775" opacity="0.8"/>
<circle cx="163.1" cy="357.1" r="0.7" fill="#808886" opacity="0.8"/>
<circle cx="201.3" cy="334.4" r="0.5" fill="#808886" opacity="0.8"/>
<circle cx="161.7" cy="347.6" r="0.9" fill="#808886" opacity="0.8"/>
<circle cx="90.5" cy="343.9" r="0.6" fill="#808886" opacity="0.8"/>
<circle cx="4.2" cy="334.1" r="0.8" fill="#808886" opacity="0.8"/>
<circle cx="38.9" cy="362.1" r="0.7" fill="#6f7775" opacity="0.8"/>
<circle cx="231.6" cy="361.3" r="0.6" fill="#6f7775" opacity="0.8"/>
<circle cx="138.0" cy="280.3" r="1.0" fill="#808886" opacity="0.8"/>
<circle cx="182.7" cy="412.2" r="0.9" fill="#6f7775" opacity="0.8"/>
<circle cx="131.5" cy="311.2" r="0.9" fill="#808886" opacity="0.8"/>
<circle cx="242.7" cy="338.3" r="0.8" fill="#808886" opacity="0.8"/>
<circle cx="222.8" cy="318.2" r="0.6" fill="#6f7775" opacity="0.8"/>
<circle cx="28.4" cy="381.2" r="0.5" fill="#808886" opacity="0.8"/>
<circle cx="167.2" cy="311.2" r="0.6" fill="#808886" opacity="0.8"/>
<circle cx="102.4" cy="415.2" r="1.0" fill="#6f7775" opacity="0.8"/>
<circle cx="9.5" cy="250.8" r="0.9" fill="#6f7775" opacity="0.8"/>
<circle cx="58.7" cy="284.2" r="0.9" fill="#808886" opacity="0.8"/>
<circle cx="75.1" cy="429.0" r="0.6" fill="#6f7775" opacity="0.8"/>
<circle cx="119.0" cy="417.9" r="0.9" fill="#6f7775" opacity="0.8"/>
<circle cx="203.6" cy="298.7" r="0.7" fill="#808886" opacity="0.8"/>
<circle cx="215.7" cy="292.7" r="0.7" fill="#808886" opacity="0.8"/>
<circle cx="54.0" cy="256.5" r="0.9" fill="#808886" opacity="0.8"/>
<circle cx="13.3" cy="388.6" r="0.7" fill="#808886" opacity="0.8"/>
<circle cx="213.7" cy="429.1" r="0.6" fill="#6f7775" opacity="0.8"/>
<circle cx="199.2" cy="274.8" r="1.0" fill="#6f7775" opacity="0.8"/>
<circle cx="225.3" cy="274.6" r="0.9" fill="#6f7775" opacity="0.8"/>
<circle cx="186.1" cy="332.0" r="0.7" fill="#808886" opacity="0.8"/>
<circle cx="85.2" cy="415.1" r="0.9" fill="#808886" opacity="0.8"/>
<circle cx="242.0" cy="253.0" r="0.6" fill="#6f7775" opacity="0.8"/>
<circle cx="11.3" cy="339.4" r="0.6" fill="#808886" opacity="0.8"/>
<circle cx="173.1" cy="380.3" r="0.5" fill="#808886" opacity="0.8"/>
<circle cx="17.8" cy="267.2" r="1.0" fill="#6f7775" opacity="0.8"/>
<circle cx="130.7" cy="247.5" r="0.6" fill="#6f7775" opacity="0.8"/>
<circle cx="157.1" cy="346.8" r="1.0" fill="#808886" opacity="0.8"/>
<circle cx="207.7" cy="422.2" r="0.5" fill="#6f7775" opacity="0.8"/>
<circle cx="211.0" cy="424.9" r="0.6" fill="#6f7775" opacity="0.8"/>
<circle cx="68.9" cy="279.4" r="0.6" fill="#6f7775" opacity="0.8"/>
<circle cx="238.7" cy="282.9" r="0.5" fill="#808886" opacity="0.8"/>
<circle cx="67.5" cy="306.6" r="0.5" fill="#808886" opacity="0.8"/>
<circle cx="135.3" cy="347.4" r="0.8" fill="#808886" opacity="0.8"/>
<circle cx="99.8" cy="305.2" r="0.7" fill="#6f7775" opacity="0.8"/>
<circle cx="96.8" cy="317.5" r="0.7" fill="#6f7775" opacity="0.8"/>
<circle cx="222.0" cy="363.2" r="0.6" fill="#808886" opacity="0.8"/>
<circle cx="171.9" cy="380.6" r="1.0" fill="#6f7775" opacity="0.8"/>
<circle cx="164.5" cy="262.9" r="0.8" fill="#6f7775" opacity="0.8"/>
<circle cx="224.6" cy="256.1" r="0.8" fill="#808886" opacity="0.8"/>
<circle cx="169.8" cy="328.0" r="0.8" fill="#808886" opacity="0.8"/>
<circle cx="240.0" cy="247.2" r="0.9" fill="#808886" opacity="0.8"/>
<circle cx="127.0" cy="355.4" r="1.0" fill="#6f7775" opacity="0.8"/>
<circle cx="204.1" cy="391.8" r="0.9" fill="#808886" opacity="0.8"/>
<circle cx="176.5" cy="319.0" r="0.8" fill="#808886" opacity="0.8"/>
<circle cx="19.6" cy="392.9" r="0.8" fill="#808886" opacity="0.8"/>
<circle cx="66.3" cy="400.9" r="0.9" fill="#808886" opacity="0.8"/>
<circle cx="129.9" cy="334.2" r="0.6" fill="#6f7775" opacity="0.8"/>
<circle cx="18.1" cy="385.6" r="0.7" fill="#6f7775" opacity="0.8"/>
<circle cx="131.2" cy="395.8" r="0.6" fill="#6f7775" opacity="0.8"/>
<circle cx="39.4" cy="368.1" r="0.6" fill="#6f7775" opacity="0.8"/>
<circle cx="80.9" cy="313.2" r="0.9" fill="#808886" opacity="0.8"/>
<circle cx="32.1" cy="275.2" r="0.6" fill="#6f7775" opacity="0.8"/>
<circle cx="91.4" cy="368.3" r="0.8" fill="#808886" opacity="0.8"/>
<circle cx="112.9" cy="263.1" r="0.7" fill="#808886" opacity="0.8"/>
<circle cx="172.3" cy="329.2" r="0.7" fill="#6f7775" opacity="0.8"/>
<circle cx="187.9" cy="274.4" r="0.8" fill="#808886" opacity="0.8"/>
<circle cx="121.8" cy="367.8" r="0.8" fill="#808886" opacity="0.8"/>
<circle cx="198.4" cy="293.3" r="0.8" fill="#6f7775" opacity="0.8"/>
<circle cx="141.8" cy="257.6" r="0.6" fill="#808886" opacity="0.8"/>
<circle cx="226.6" cy="293.8" r="0.6" fill="#808886" opacity="0.8"/>
<path d="M204.7,270.1 Q204.7,272.6 203.1,274.6 Q201.5,276.5 198.9,277.1 Q196.2,277.6 193.7,277.4 Q191.2,277.2 188.7,276.7 Q186.1,276.3 184.4,274.5 Q182.6,272.6 180.9,270.5 Q179.2,268.4 180.3,266.3 Q181.5,264.2 182.5,262.2 Q183.4,260.3 185.5,259.0 Q187.5,257.8 190.2,257.1 Q192.9,256.4 195.4,258.1 Q197.9,259.7 199.4,261.7 Q200.9,263.6 202.8,265.6 Q204.7,267.6 204.7,270.1 Z" fill="url(#lip2)" stroke="#9a5060" stroke-width="0.9" stroke-opacity="0.8"/>
<path d="M210.3,292.0 Q211.2,294.0 212.2,296.7 Q213.2,299.4 210.9,301.4 Q208.6,303.4 205.2,303.6 Q201.8,303.8 198.9,304.2 Q195.9,304.7 193.2,303.6 Q190.4,302.4 188.1,300.7 Q185.7,299.0 184.6,296.5 Q183.5,294.0 185.9,292.0 Q188.2,289.9 190.0,288.4 Q191.8,286.9 193.6,284.4 Q195.5,282.0 198.8,282.8 Q202.0,283.5 205.3,284.1 Q208.6,284.6 209.0,287.3 Q209.4,290.1 210.3,292.0 Z" fill="url(#lip)" stroke="#9a5060" stroke-width="0.9" stroke-opacity="0.8"/>
<path d="M216.1,298.5 Q217.0,300.0 216.6,301.8 Q216.3,303.5 214.7,304.1 Q213.1,304.6 212.1,305.2 Q211.1,305.8 209.8,306.7 Q208.5,307.6 207.2,306.8 Q205.9,305.9 205.1,304.6 Q204.3,303.2 204.3,301.6 Q204.4,300.0 204.4,298.4 Q204.4,296.8 205.3,295.6 Q206.1,294.3 207.4,293.6 Q208.6,293.0 209.9,293.5 Q211.2,294.0 212.4,294.3 Q213.6,294.7 214.4,295.9 Q215.2,297.1 216.1,298.5 Z" fill="url(#lip)" stroke="#9a5060" stroke-width="0.9" stroke-opacity="0.8"/>
<path d="M141.8,287.9 Q141.8,289.5 141.9,291.2 Q141.9,292.8 140.8,293.9 Q139.7,295.1 138.4,296.1 Q137.1,297.1 135.5,297.1 Q133.9,297.1 132.8,295.8 Q131.8,294.4 131.1,293.3 Q130.3,292.2 129.0,290.8 Q127.6,289.5 128.7,288.0 Q129.7,286.5 130.6,285.4 Q131.6,284.2 132.6,282.5 Q133.7,280.9 135.4,281.6 Q137.0,282.3 138.7,282.6 Q140.4,282.9 141.1,284.6 Q141.8,286.3 141.8,287.9 Z" fill="url(#lip)" stroke="#9a5060" stroke-width="0.9" stroke-opacity="0.8"/>
<path d="M145.4,315.7 Q145.6,316.5 145.4,317.3 Q145.1,318.2 144.7,319.0 Q144.4,319.9 143.6,320.1 Q142.8,320.3 142.0,320.3 Q141.2,320.2 140.4,320.0 Q139.6,319.9 138.7,319.3 Q137.9,318.7 137.7,317.6 Q137.6,316.5 137.8,315.4 Q138.1,314.4 138.9,313.8 Q139.8,313.3 140.4,312.7 Q141.1,312.1 142.0,312.3 Q142.8,312.5 143.5,312.9 Q144.2,313.4 144.6,314.1 Q145.1,314.8 145.4,315.7 Z" fill="url(#lip)" stroke="#9a5060" stroke-width="0.9" stroke-opacity="0.8"/>
<path d="M160.2,347.6 Q160.7,348.5 160.6,349.6 Q160.4,350.6 159.7,351.5 Q158.9,352.4 157.9,353.0 Q156.8,353.6 155.5,353.4 Q154.3,353.3 153.1,352.9 Q151.9,352.6 151.8,351.3 Q151.8,350.1 151.2,349.3 Q150.6,348.5 150.4,347.4 Q150.3,346.2 151.2,345.5 Q152.2,344.8 153.2,344.1 Q154.2,343.5 155.3,344.1 Q156.5,344.7 157.5,344.9 Q158.6,345.0 159.1,345.9 Q159.6,346.7 160.2,347.6 Z" fill="url(#lip)" stroke="#9a5060" stroke-width="0.9" stroke-opacity="0.8"/>
<path d="M139.9,336.7 Q140.5,337.5 140.3,338.5 Q140.0,339.4 139.1,340.0 Q138.1,340.6 137.1,340.8 Q136.0,341.1 135.1,340.9 Q134.1,340.7 132.9,340.8 Q131.7,340.8 131.1,340.0 Q130.5,339.2 130.0,338.4 Q129.5,337.5 130.1,336.7 Q130.7,335.8 131.1,335.0 Q131.6,334.1 132.8,334.0 Q134.0,333.9 135.1,333.5 Q136.2,333.2 137.3,333.6 Q138.4,334.1 138.9,335.0 Q139.4,335.8 139.9,336.7 Z" fill="url(#lip2)" stroke="#9a5060" stroke-width="0.9" stroke-opacity="0.8"/>
<path d="M144.4,274.2 Q144.2,275.0 143.9,275.7 Q143.7,276.3 143.4,277.1 Q143.1,277.9 142.2,277.9 Q141.3,277.9 140.4,278.2 Q139.6,278.5 138.9,278.0 Q138.1,277.6 137.8,276.9 Q137.5,276.3 137.0,275.6 Q136.5,275.0 137.0,274.4 Q137.5,273.7 137.8,273.0 Q138.1,272.3 138.9,272.2 Q139.7,272.1 140.5,272.1 Q141.3,272.1 142.1,272.2 Q142.9,272.3 143.7,272.8 Q144.5,273.3 144.4,274.2 Z" fill="url(#lip)" stroke="#9a5060" stroke-width="0.9" stroke-opacity="0.8"/>
<path d="M96.3,305.8 Q96.2,306.6 96.4,307.5 Q96.7,308.4 95.8,308.7 Q94.9,309.0 94.4,309.6 Q93.8,310.3 93.1,309.9 Q92.3,309.5 91.7,309.3 Q91.0,309.1 90.1,308.7 Q89.3,308.4 89.6,307.5 Q89.9,306.6 89.8,305.8 Q89.7,305.0 90.3,304.5 Q90.8,303.9 91.5,303.6 Q92.2,303.2 93.0,303.2 Q93.8,303.2 94.4,303.7 Q94.9,304.2 95.7,304.5 Q96.5,304.9 96.3,305.8 Z" fill="url(#lip3)" stroke="#9a5060" stroke-width="0.9" stroke-opacity="0.8"/>
<path d="M103.3,310.9 Q103.5,311.6 103.2,312.3 Q103.0,313.0 102.5,313.5 Q101.9,314.0 101.4,314.7 Q100.9,315.5 100.1,314.9 Q99.4,314.4 98.6,314.4 Q97.8,314.3 97.1,313.8 Q96.4,313.3 96.7,312.5 Q97.0,311.6 96.9,310.8 Q96.8,310.1 97.3,309.4 Q97.7,308.7 98.5,308.8 Q99.3,308.8 100.0,308.5 Q100.7,308.3 101.5,308.5 Q102.3,308.7 102.7,309.4 Q103.1,310.1 103.3,310.9 Z" fill="url(#lip3)" stroke="#9a5060" stroke-width="0.9" stroke-opacity="0.8"/>
<path d="M109.7,317.7 Q110.2,318.3 109.9,319.0 Q109.7,319.8 109.3,320.4 Q108.8,321.1 108.1,321.2 Q107.3,321.4 106.5,321.7 Q105.7,322.1 104.9,321.7 Q104.2,321.4 103.7,320.6 Q103.3,319.9 103.4,319.1 Q103.5,318.3 103.5,317.5 Q103.4,316.8 104.0,316.3 Q104.6,315.7 105.2,315.5 Q105.9,315.2 106.7,314.8 Q107.5,314.3 108.3,314.7 Q109.2,315.1 109.2,316.1 Q109.2,317.0 109.7,317.7 Z" fill="url(#lip3)" stroke="#9a5060" stroke-width="0.9" stroke-opacity="0.8"/>
<path d="M113.5,302.5 Q113.4,303.3 113.3,304.1 Q113.2,304.9 112.9,305.7 Q112.5,306.5 111.6,306.6 Q110.8,306.7 110.0,306.7 Q109.2,306.7 108.5,306.4 Q107.7,306.1 107.5,305.4 Q107.2,304.6 106.8,304.0 Q106.5,303.3 106.6,302.5 Q106.7,301.7 107.1,301.0 Q107.6,300.3 108.5,300.3 Q109.3,300.4 110.0,300.3 Q110.7,300.1 111.3,300.5 Q111.9,301.0 112.7,301.3 Q113.5,301.6 113.5,302.5 Z" fill="url(#lip3)" stroke="#9a5060" stroke-width="0.9" stroke-opacity="0.8"/>
<path d="M119.9,297.6 Q120.1,298.3 120.0,299.1 Q119.9,299.9 119.4,300.6 Q118.9,301.2 118.1,301.2 Q117.3,301.3 116.6,301.2 Q116.0,301.1 115.2,301.0 Q114.5,300.9 114.1,300.3 Q113.7,299.7 113.2,299.0 Q112.7,298.3 113.0,297.5 Q113.2,296.7 113.8,296.1 Q114.3,295.5 115.1,295.1 Q115.8,294.8 116.6,294.8 Q117.4,294.7 118.0,295.3 Q118.5,295.9 119.1,296.4 Q119.7,296.8 119.9,297.6 Z" fill="url(#lip3)" stroke="#9a5060" stroke-width="0.9" stroke-opacity="0.8"/>
<path d="M125.9,289.3 Q125.9,290.0 126.0,290.7 Q126.1,291.5 125.6,292.1 Q125.1,292.7 124.5,293.1 Q123.8,293.5 123.1,293.1 Q122.4,292.8 121.8,292.5 Q121.2,292.3 120.8,291.7 Q120.5,291.2 120.3,290.6 Q120.1,290.0 120.0,289.2 Q119.9,288.5 120.6,288.2 Q121.3,287.8 121.8,287.3 Q122.3,286.8 123.0,287.0 Q123.6,287.2 124.2,287.4 Q124.8,287.7 125.3,288.2 Q125.8,288.6 125.9,289.3 Z" fill="url(#lip3)" stroke="#9a5060" stroke-width="0.9" stroke-opacity="0.8"/>
<path d="M142.5,315.3 Q142.6,316.0 142.7,316.8 Q142.9,317.6 142.4,318.3 Q142.0,318.9 141.4,319.4 Q140.8,320.0 140.1,319.5 Q139.4,319.1 138.8,318.8 Q138.3,318.5 137.7,318.1 Q137.1,317.6 136.9,316.8 Q136.8,316.0 137.2,315.3 Q137.5,314.6 137.7,313.8 Q138.0,313.1 138.7,312.9 Q139.4,312.7 140.0,312.5 Q140.7,312.2 141.2,312.9 Q141.6,313.6 142.0,314.1 Q142.4,314.6 142.5,315.3 Z" fill="url(#lip3)" stroke="#9a5060" stroke-width="0.9" stroke-opacity="0.8"/>
<path d="M139.5,336.2 Q140.3,337.0 139.3,337.7 Q138.3,338.4 138.2,339.4 Q138.0,340.4 137.0,340.4 Q135.9,340.4 134.9,341.0 Q133.8,341.6 133.3,340.6 Q132.7,339.6 131.5,339.3 Q130.4,339.0 130.3,338.0 Q130.2,337.0 130.3,336.0 Q130.4,335.0 131.1,334.2 Q131.7,333.3 132.9,333.4 Q134.1,333.5 135.0,333.4 Q135.9,333.3 137.0,333.5 Q138.0,333.6 138.4,334.5 Q138.7,335.4 139.5,336.2 Z" fill="url(#lip3)" stroke="#9a5060" stroke-width="0.9" stroke-opacity="0.8"/>
<path d="M201.2,371.0 Q201.6,372.0 201.4,373.1 Q201.2,374.2 200.0,375.0 Q198.8,375.8 197.3,376.3 Q195.7,376.8 194.0,376.7 Q192.3,376.7 190.5,376.4 Q188.7,376.1 188.1,375.1 Q187.4,374.0 186.5,373.0 Q185.6,372.0 186.8,371.1 Q188.1,370.2 188.7,369.3 Q189.4,368.4 190.8,367.9 Q192.3,367.4 193.9,367.6 Q195.6,367.8 197.5,367.8 Q199.4,367.7 200.1,368.9 Q200.7,370.0 201.2,371.0 Z" fill="url(#lip3)" stroke="#9a5060" stroke-width="0.9" stroke-opacity="0.8"/>
<path d="M179.7,351.2 Q180.0,352.0 180.0,353.0 Q180.0,353.9 179.5,354.8 Q178.9,355.6 177.9,355.6 Q176.8,355.6 175.9,355.9 Q175.0,356.3 174.2,355.8 Q173.3,355.4 172.8,354.6 Q172.2,353.8 172.4,352.9 Q172.6,352.0 172.8,351.3 Q173.0,350.6 173.3,349.8 Q173.6,349.0 174.3,348.4 Q175.0,347.8 175.9,348.1 Q176.8,348.4 177.7,348.7 Q178.5,348.9 178.9,349.6 Q179.4,350.4 179.7,351.2 Z" fill="url(#lip)" stroke="#9a5060" stroke-width="0.9" stroke-opacity="0.8"/>
<path d="M174.3,358.3 Q174.1,359.0 174.2,359.7 Q174.3,360.4 173.7,360.8 Q173.1,361.2 172.4,361.4 Q171.7,361.6 171.0,361.8 Q170.2,361.9 169.5,361.6 Q168.8,361.3 168.3,360.8 Q167.9,360.3 167.7,359.6 Q167.6,359.0 167.8,358.4 Q168.1,357.8 168.6,357.3 Q169.0,356.9 169.6,356.4 Q170.2,355.9 170.9,356.1 Q171.7,356.3 172.5,356.4 Q173.3,356.5 173.9,357.0 Q174.5,357.6 174.3,358.3 Z" fill="url(#lip)" stroke="#9a5060" stroke-width="0.9" stroke-opacity="0.8"/>
<path d="M88.7,355.6 Q89.4,357.0 89.2,358.7 Q89.0,360.3 87.7,361.4 Q86.4,362.5 85.0,363.2 Q83.6,363.9 82.0,363.7 Q80.5,363.6 78.7,363.5 Q76.9,363.5 76.5,361.6 Q76.2,359.8 76.0,358.4 Q75.9,357.0 76.1,355.6 Q76.2,354.2 77.1,353.1 Q78.0,352.0 79.3,351.3 Q80.5,350.6 82.0,350.7 Q83.4,350.7 84.6,351.5 Q85.7,352.3 86.8,353.2 Q87.9,354.2 88.7,355.6 Z" fill="url(#lip)" stroke="#9a5060" stroke-width="0.9" stroke-opacity="0.8"/>
<path d="M97.0,361.0 Q97.9,362.0 97.3,363.2 Q96.8,364.3 95.9,365.3 Q95.1,366.3 93.8,366.9 Q92.5,367.6 91.2,367.0 Q89.8,366.5 88.4,366.3 Q87.1,366.1 85.9,365.3 Q84.8,364.5 84.5,363.2 Q84.2,362.0 84.8,360.9 Q85.5,359.8 86.6,359.2 Q87.7,358.6 88.7,357.9 Q89.7,357.3 91.1,356.8 Q92.6,356.3 93.4,357.5 Q94.2,358.6 95.1,359.3 Q96.1,360.0 97.0,361.0 Z" fill="url(#lip2)" stroke="#9a5060" stroke-width="0.9" stroke-opacity="0.8"/>
<path d="M80.7,365.2 Q81.0,366.0 81.1,367.0 Q81.3,368.1 80.6,368.9 Q79.9,369.7 79.0,370.0 Q78.0,370.4 77.0,370.1 Q76.1,369.9 75.0,369.9 Q73.9,369.9 73.2,369.0 Q72.5,368.2 72.5,367.1 Q72.5,366.0 72.7,365.0 Q72.9,364.0 73.7,363.4 Q74.5,362.8 75.3,362.6 Q76.2,362.4 77.1,362.1 Q78.0,361.8 78.9,362.1 Q79.9,362.4 80.2,363.4 Q80.4,364.4 80.7,365.2 Z" fill="url(#lip)" stroke="#9a5060" stroke-width="0.9" stroke-opacity="0.8"/>
<path d="M102.6,385.9 Q103.6,387.8 101.8,389.6 Q100.0,391.5 98.8,392.8 Q97.5,394.1 96.5,396.3 Q95.4,398.6 92.8,397.9 Q90.1,397.2 88.1,396.8 Q86.1,396.3 83.7,395.9 Q81.3,395.4 81.1,393.6 Q80.8,391.8 80.0,389.9 Q79.2,388.1 81.6,386.8 Q83.9,385.5 85.3,383.5 Q86.6,381.5 89.3,382.0 Q92.0,382.4 94.4,382.4 Q96.9,382.4 99.2,383.2 Q101.6,384.1 102.6,385.9 Z" fill="url(#lip)" stroke="#9a5060" stroke-width="0.9" stroke-opacity="0.8"/>
<path d="M109.8,382.1 Q110.9,383.0 110.6,384.3 Q110.3,385.5 109.3,386.5 Q108.3,387.5 106.7,387.3 Q105.1,387.1 103.9,387.6 Q102.6,388.0 101.5,387.4 Q100.4,386.8 99.4,386.0 Q98.5,385.2 98.7,384.1 Q98.8,383.0 99.0,382.0 Q99.2,381.1 99.8,380.1 Q100.3,379.2 101.6,378.9 Q102.8,378.6 104.1,378.4 Q105.3,378.2 106.2,379.0 Q107.1,379.8 107.9,380.5 Q108.6,381.2 109.8,382.1 Z" fill="url(#lip)" stroke="#9a5060" stroke-width="0.9" stroke-opacity="0.8"/>
<path d="M88.3,391.5 Q88.5,393.0 88.3,394.5 Q88.1,395.9 86.7,396.5 Q85.3,397.2 84.4,398.5 Q83.6,399.9 82.2,399.1 Q80.8,398.2 79.4,398.1 Q78.0,398.0 77.7,396.6 Q77.4,395.2 76.4,394.1 Q75.4,393.0 76.4,391.9 Q77.3,390.7 77.6,389.3 Q78.0,388.0 79.3,387.3 Q80.6,386.7 82.0,386.6 Q83.5,386.6 84.6,387.5 Q85.7,388.4 86.9,389.2 Q88.1,390.1 88.3,391.5 Z" fill="url(#lip)" stroke="#9a5060" stroke-width="0.9" stroke-opacity="0.8"/>
<path d="M102.8,398.2 Q102.8,399.0 103.0,399.9 Q103.2,400.8 102.3,401.4 Q101.5,402.1 100.3,402.1 Q99.0,402.1 97.9,402.5 Q96.7,402.9 95.7,402.4 Q94.7,401.9 94.5,401.1 Q94.2,400.3 93.2,399.6 Q92.2,399.0 93.0,398.3 Q93.9,397.6 94.5,397.0 Q95.1,396.5 96.0,396.1 Q96.9,395.7 98.0,395.6 Q99.1,395.5 99.9,396.1 Q100.7,396.6 101.8,397.0 Q102.8,397.4 102.8,398.2 Z" fill="url(#lip)" stroke="#9a5060" stroke-width="0.9" stroke-opacity="0.8"/>
<path d="M35.8,390.1 Q36.7,392.0 35.6,393.7 Q34.4,395.5 33.4,396.9 Q32.5,398.3 31.2,399.7 Q29.8,401.1 28.2,400.2 Q26.5,399.4 24.5,399.6 Q22.5,399.7 21.3,398.0 Q20.1,396.3 20.7,394.1 Q21.3,392.0 20.8,389.9 Q20.3,387.8 21.7,386.4 Q23.0,385.0 24.6,383.9 Q26.1,382.8 28.1,382.3 Q30.1,381.8 32.0,382.8 Q33.9,383.7 34.4,386.0 Q35.0,388.2 35.8,390.1 Z" fill="url(#lip)" stroke="#9a5060" stroke-width="0.9" stroke-opacity="0.8"/>
<path d="M42.3,399.5 Q42.3,401.0 42.1,402.4 Q41.8,403.8 41.1,405.1 Q40.4,406.5 38.8,406.3 Q37.2,406.2 36.0,406.1 Q34.9,405.9 33.3,406.1 Q31.8,406.2 31.4,404.8 Q30.9,403.4 30.6,402.2 Q30.3,401.0 30.1,399.6 Q30.0,398.1 31.3,397.5 Q32.7,396.8 33.6,395.6 Q34.5,394.3 35.9,394.7 Q37.3,395.2 38.2,396.1 Q39.2,397.0 40.7,397.5 Q42.2,398.0 42.3,399.5 Z" fill="url(#lip)" stroke="#9a5060" stroke-width="0.9" stroke-opacity="0.8"/>
<path d="M26.2,400.8 Q26.3,402.0 26.1,403.1 Q25.9,404.3 25.6,405.6 Q25.2,406.9 24.1,407.0 Q23.0,407.2 22.0,407.1 Q21.0,407.1 20.0,406.9 Q18.9,406.6 18.3,405.6 Q17.6,404.5 17.6,403.3 Q17.5,402.0 17.6,400.7 Q17.7,399.5 18.1,398.1 Q18.5,396.7 19.8,396.8 Q21.0,396.9 22.0,396.9 Q23.0,396.8 23.8,397.5 Q24.6,398.1 25.3,398.9 Q26.1,399.6 26.2,400.8 Z" fill="url(#lip)" stroke="#9a5060" stroke-width="0.9" stroke-opacity="0.8"/>
<path d="M37.7,382.0 Q38.1,383.0 37.7,384.0 Q37.3,385.0 36.9,386.2 Q36.5,387.4 35.3,387.4 Q34.0,387.5 33.0,387.7 Q31.9,387.9 31.0,387.3 Q30.1,386.7 29.3,385.9 Q28.6,385.1 27.9,384.1 Q27.1,383.0 28.1,382.1 Q29.1,381.1 29.5,380.2 Q29.9,379.2 31.0,378.9 Q32.0,378.6 33.0,378.5 Q34.1,378.4 35.4,378.4 Q36.7,378.4 37.0,379.7 Q37.2,381.0 37.7,382.0 Z" fill="url(#lip2)" stroke="#9a5060" stroke-width="0.9" stroke-opacity="0.8"/>
<path d="M23.7,423.4 Q24.0,424.0 23.8,424.6 Q23.5,425.2 23.0,425.6 Q22.6,425.9 22.1,426.5 Q21.7,427.1 21.1,426.9 Q20.4,426.6 19.8,426.4 Q19.3,426.1 18.8,425.7 Q18.4,425.3 18.1,424.6 Q17.8,424.0 17.8,423.2 Q17.8,422.5 18.5,422.1 Q19.2,421.7 19.7,421.1 Q20.2,420.6 21.0,420.6 Q21.8,420.6 22.2,421.2 Q22.7,421.9 23.0,422.4 Q23.3,422.9 23.7,423.4 Z" fill="url(#lip)" stroke="#9a5060" stroke-width="0.9" stroke-opacity="0.8"/>
<path d="M42.6,416.4 Q42.5,417.0 42.4,417.6 Q42.3,418.1 42.1,418.7 Q41.8,419.3 41.3,419.7 Q40.7,420.1 40.1,419.8 Q39.4,419.5 38.9,419.3 Q38.4,419.0 38.0,418.6 Q37.6,418.2 37.1,417.6 Q36.7,417.0 37.2,416.4 Q37.6,415.9 37.8,415.2 Q38.0,414.5 38.6,414.2 Q39.3,413.9 39.9,414.2 Q40.6,414.5 41.2,414.5 Q41.9,414.6 42.3,415.2 Q42.7,415.7 42.6,416.4 Z" fill="url(#lip)" stroke="#9a5060" stroke-width="0.9" stroke-opacity="0.8"/>
<path d="M199.8,336.4 Q200.0,337.0 199.9,337.7 Q199.8,338.4 199.4,339.0 Q199.0,339.5 198.5,340.2 Q197.9,340.9 197.1,340.7 Q196.2,340.4 195.4,340.2 Q194.6,340.0 194.5,339.1 Q194.3,338.3 193.9,337.7 Q193.5,337.0 193.5,336.1 Q193.5,335.3 194.1,334.8 Q194.8,334.2 195.4,333.6 Q196.1,333.0 197.0,333.1 Q197.9,333.1 198.5,333.8 Q199.1,334.4 199.3,335.1 Q199.6,335.8 199.8,336.4 Z" fill="url(#lip)" stroke="#9a5060" stroke-width="0.9" stroke-opacity="0.8"/>
<path d="M195.9,373.4 Q196.1,374.0 196.0,374.7 Q195.8,375.4 195.5,376.0 Q195.1,376.6 194.3,376.7 Q193.6,376.7 193.0,376.9 Q192.3,377.1 191.6,376.9 Q190.9,376.7 190.4,376.1 Q189.9,375.5 190.1,374.7 Q190.3,374.0 190.2,373.3 Q190.1,372.6 190.6,372.1 Q191.1,371.6 191.7,371.3 Q192.3,371.1 193.1,370.8 Q193.8,370.6 194.3,371.1 Q194.9,371.6 195.3,372.2 Q195.6,372.7 195.9,373.4 Z" fill="url(#lip)" stroke="#9a5060" stroke-width="0.9" stroke-opacity="0.8"/>
<path d="M105.9,343.3 Q106.0,344.0 105.9,344.7 Q105.8,345.3 105.4,346.0 Q105.1,346.6 104.4,347.0 Q103.8,347.3 103.0,347.3 Q102.2,347.3 101.7,346.8 Q101.2,346.2 100.5,345.9 Q99.9,345.5 100.0,344.8 Q100.1,344.0 100.3,343.4 Q100.5,342.8 100.9,342.4 Q101.4,342.0 101.9,341.5 Q102.3,341.1 103.0,341.3 Q103.6,341.4 104.2,341.6 Q104.7,341.8 105.3,342.2 Q105.8,342.6 105.9,343.3 Z" fill="url(#lip)" stroke="#9a5060" stroke-width="0.9" stroke-opacity="0.8"/>
<path d="M122.9,344.3 Q123.1,345.0 123.0,345.7 Q122.9,346.4 122.5,347.0 Q122.0,347.6 121.4,347.9 Q120.8,348.3 120.1,348.0 Q119.4,347.7 118.6,347.7 Q117.8,347.7 117.5,347.0 Q117.2,346.3 117.0,345.7 Q116.7,345.0 116.9,344.3 Q117.0,343.6 117.4,342.9 Q117.8,342.3 118.6,342.3 Q119.4,342.3 120.0,342.3 Q120.6,342.2 121.3,342.3 Q122.0,342.5 122.4,343.1 Q122.8,343.7 122.9,344.3 Z" fill="url(#lip)" stroke="#9a5060" stroke-width="0.9" stroke-opacity="0.8"/>
<path d="M234.8,299.3 Q234.8,300.0 235.0,300.8 Q235.2,301.5 234.7,302.1 Q234.2,302.7 233.5,303.0 Q232.8,303.4 232.0,303.3 Q231.3,303.2 230.6,302.9 Q229.9,302.7 229.8,301.9 Q229.8,301.1 229.3,300.5 Q228.9,300.0 229.2,299.4 Q229.5,298.8 229.8,298.1 Q230.0,297.5 230.7,297.3 Q231.3,297.1 232.0,297.1 Q232.7,297.0 233.3,297.3 Q233.9,297.6 234.3,298.1 Q234.8,298.7 234.8,299.3 Z" fill="url(#lip)" stroke="#9a5060" stroke-width="0.9" stroke-opacity="0.8"/>
<path d="M211,322 C214,328 206,335 197,341 C187,348 177,355 170,353 C165,350 168,345 176,339 C186,331 198,324 205,320 Z" fill="url(#lip)" stroke="#9a5060" stroke-width="0.9"/>
</g>
<g>
<defs>
<linearGradient id="bshaft" gradientUnits="userSpaceOnUse" x1="478" y1="257" x2="472" y2="299"><stop offset="0" stop-color="#eebd72"/><stop offset="0.25" stop-color="#f8e2b4"/><stop offset="0.5" stop-color="#fdf4e0"/><stop offset="0.8" stop-color="#f4d69c"/><stop offset="1" stop-color="#e2a456"/></linearGradient>
<clipPath id="spclip"><path d="M361,228 C362,216 369,211 378,211 C387,212 393,218 399,227 C406,238 413,246 420,251 L423,287 C405,291 380,296 356,297 C347,296 343,288 343,278 C343,269 347,264 353,263 C358,263 362,264 365,264 C362,253 360,240 361,228 Z"/></clipPath>
</defs>
<path d="M357,304 C340,303 333,290 334,275 C335,262 340,253 350,251 C357,250 362,251 365,253 C358,245 352,232 353,218 C355,205 366,199 378,199.6 C390,201 400,208 410,222 C420,236 430,245 440,248 L514,275 C525,275.5 533,275 538,276.5 C550,279 559,285 561,293 C562,301 556,307 550,310 C549,315 551,319 553,322 C557,327 556,336 548,340 C540,343 528,342 523,336 C519,330 520,324 523,320 C523,312 522,305 520,301 C512,299 500,298 490,297 L446,292 L421,292 C400,296 375,303 357,304 Z" fill="url(#bshaft)" stroke="#d9a050" stroke-width="1"/>
<path d="M357,304 C340,303 333,290 334,275 C335,262 340,253 350,251 C357,250 362,251 365,253 C358,245 352,232 353,218 C355,205 366,199 378,199.6 C388,200 396,204 402,210 C392,205 380,204 372,207 C362,212 360,225 362,240 C363,248 366,254 368,258 C360,256 350,256 345,262 C340,270 340,285 345,293 C350,300 360,302 372,302 Z" fill="#eab466"/>
<path d="M359,301 C346,300 340,291 341,278 C342,266 346,259 354,258 C359,258 364,259 368,260 C363,249 358,234 359,222 C361,211 369,205 378,205.5 C388,206.5 396,212 403,223 C411,235 419,244 427,249 L431,290 C410,294 380,300 359,301 Z" fill="#fbf1da"/>
<g clip-path="url(#spclip)"><rect x="340" y="205" width="90" height="95" fill="#efcfb0"/>
<ellipse cx="339.7" cy="207.0" rx="1.2" ry="0.9" fill="#c88462" transform="rotate(-46 339.7 207.0)"/>
<ellipse cx="343.4" cy="207.3" rx="1.3" ry="0.9" fill="#b4684a" transform="rotate(-5 343.4 207.3)"/>
<ellipse cx="346.6" cy="207.3" rx="1.3" ry="1.0" fill="#b4684a" transform="rotate(-36 346.6 207.3)"/>
<ellipse cx="350.0" cy="207.3" rx="1.3" ry="1.0" fill="#a65c3c" transform="rotate(-40 350.0 207.3)"/>
<ellipse cx="353.5" cy="207.1" rx="1.2" ry="0.7" fill="#9a5238" transform="rotate(-20 353.5 207.1)"/>
<ellipse cx="356.6" cy="207.3" rx="1.2" ry="1.0" fill="#bf7656" transform="rotate(-25 356.6 207.3)"/>
<ellipse cx="360.0" cy="207.1" rx="1.6" ry="0.8" fill="#9a5238" transform="rotate(-44 360.0 207.1)"/>
<ellipse cx="362.6" cy="207.0" rx="1.2" ry="1.0" fill="#9a5238" transform="rotate(-24 362.6 207.0)"/>
<ellipse cx="366.4" cy="206.9" rx="1.2" ry="0.9" fill="#c88462" transform="rotate(-36 366.4 206.9)"/>
<ellipse cx="370.1" cy="207.1" rx="1.6" ry="1.0" fill="#c88462" transform="rotate(-8 370.1 207.1)"/>
<ellipse cx="373.2" cy="207.2" rx="1.2" ry="0.9" fill="#c88462" transform="rotate(-14 373.2 207.2)"/>
<ellipse cx="375.9" cy="207.1" rx="1.4" ry="1.1" fill="#9a5238" transform="rotate(-32 375.9 207.1)"/>
<ellipse cx="379.2" cy="207.0" rx="1.4" ry="0.9" fill="#9a5238" transform="rotate(1 379.2 207.0)"/>
<ellipse cx="382.5" cy="207.3" rx="1.0" ry="0.9" fill="#bf7656" transform="rotate(5 382.5 207.3)"/>
<ellipse cx="385.8" cy="207.1" rx="1.5" ry="0.9" fill="#c88462" transform="rotate(-29 385.8 207.1)"/>
<ellipse cx="389.6" cy="207.3" rx="1.2" ry="0.8" fill="#a65c3c" transform="rotate(-31 389.6 207.3)"/>
<ellipse cx="392.3" cy="206.7" rx="1.3" ry="1.1" fill="#bf7656" transform="rotate(-32 392.3 206.7)"/>
<ellipse cx="396.2" cy="206.7" rx="1.0" ry="1.0" fill="#9a5238" transform="rotate(-27 396.2 206.7)"/>
<ellipse cx="399.9" cy="207.3" rx="1.2" ry="0.9" fill="#c88462" transform="rotate(-26 399.9 207.3)"/>
<ellipse cx="402.8" cy="207.1" rx="1.3" ry="0.9" fill="#c88462" transform="rotate(-33 402.8 207.1)"/>
<ellipse cx="405.9" cy="207.2" rx="1.1" ry="0.8" fill="#9a5238" transform="rotate(-17 405.9 207.2)"/>
<ellipse cx="409.1" cy="206.9" rx="1.5" ry="1.1" fill="#9a5238" transform="rotate(-49 409.1 206.9)"/>
<ellipse cx="412.5" cy="207.1" rx="1.1" ry="1.0" fill="#9a5238" transform="rotate(-21 412.5 207.1)"/>
<ellipse cx="415.8" cy="207.3" rx="1.4" ry="0.8" fill="#bf7656" transform="rotate(-49 415.8 207.3)"/>
<ellipse cx="419.3" cy="207.4" rx="1.0" ry="0.8" fill="#bf7656" transform="rotate(-31 419.3 207.4)"/>
<ellipse cx="422.6" cy="206.9" rx="1.2" ry="0.8" fill="#9a5238" transform="rotate(4 422.6 206.9)"/>
<ellipse cx="425.9" cy="206.8" rx="1.2" ry="1.0" fill="#a65c3c" transform="rotate(-14 425.9 206.8)"/>
<ellipse cx="429.3" cy="206.7" rx="1.3" ry="1.0" fill="#9a5238" transform="rotate(-35 429.3 206.7)"/>
<ellipse cx="341.4" cy="209.7" rx="1.4" ry="0.7" fill="#c88462" transform="rotate(-30 341.4 209.7)"/>
<ellipse cx="345.3" cy="209.7" rx="1.1" ry="1.0" fill="#b4684a" transform="rotate(-45 345.3 209.7)"/>
<ellipse cx="348.0" cy="209.7" rx="1.5" ry="0.9" fill="#b4684a" transform="rotate(0 348.0 209.7)"/>
<ellipse cx="351.1" cy="209.6" rx="1.1" ry="1.0" fill="#c88462" transform="rotate(-39 351.1 209.6)"/>
<ellipse cx="355.2" cy="209.5" rx="1.5" ry="0.7" fill="#c88462" transform="rotate(-28 355.2 209.5)"/>
<ellipse cx="358.2" cy="209.5" rx="1.3" ry="1.0" fill="#bf7656" transform="rotate(-28 358.2 209.5)"/>
<ellipse cx="361.5" cy="209.4" rx="1.3" ry="0.7" fill="#bf7656" transform="rotate(-41 361.5 209.4)"/>
<ellipse cx="364.4" cy="209.6" rx="1.5" ry="0.9" fill="#c88462" transform="rotate(-23 364.4 209.6)"/>
<ellipse cx="368.1" cy="210.0" rx="1.4" ry="0.7" fill="#bf7656" transform="rotate(3 368.1 210.0)"/>
<ellipse cx="371.6" cy="209.8" rx="1.6" ry="0.9" fill="#b4684a" transform="rotate(5 371.6 209.8)"/>
<ellipse cx="374.2" cy="209.7" rx="1.2" ry="1.0" fill="#a65c3c" transform="rotate(-48 374.2 209.7)"/>
<ellipse cx="378.3" cy="209.8" rx="1.6" ry="1.1" fill="#bf7656" transform="rotate(-14 378.3 209.8)"/>
<ellipse cx="380.7" cy="209.6" rx="1.1" ry="0.9" fill="#b4684a" transform="rotate(-8 380.7 209.6)"/>
<ellipse cx="384.0" cy="209.6" rx="1.0" ry="1.1" fill="#a65c3c" transform="rotate(-29 384.0 209.6)"/>
<ellipse cx="387.4" cy="210.0" rx="1.3" ry="1.0" fill="#a65c3c" transform="rotate(-28 387.4 210.0)"/>
<ellipse cx="390.8" cy="209.3" rx="1.5" ry="0.7" fill="#b4684a" transform="rotate(0 390.8 209.3)"/>
<ellipse cx="394.2" cy="209.9" rx="1.1" ry="1.1" fill="#bf7656" transform="rotate(-10 394.2 209.9)"/>
<ellipse cx="397.8" cy="209.5" rx="1.5" ry="0.8" fill="#c88462" transform="rotate(-17 397.8 209.5)"/>
<ellipse cx="401.0" cy="209.2" rx="1.2" ry="1.0" fill="#a65c3c" transform="rotate(-1 401.0 209.2)"/>
<ellipse cx="403.9" cy="209.3" rx="1.0" ry="1.1" fill="#a65c3c" transform="rotate(-18 403.9 209.3)"/>
<ellipse cx="407.6" cy="209.5" rx="1.2" ry="0.8" fill="#bf7656" transform="rotate(-13 407.6 209.5)"/>
<ellipse cx="410.7" cy="209.4" rx="1.6" ry="0.9" fill="#b4684a" transform="rotate(-15 410.7 209.4)"/>
<ellipse cx="413.7" cy="209.8" rx="1.5" ry="0.9" fill="#a65c3c" transform="rotate(-27 413.7 209.8)"/>
<ellipse cx="417.5" cy="209.7" rx="1.3" ry="1.0" fill="#a65c3c" transform="rotate(-11 417.5 209.7)"/>
<ellipse cx="421.2" cy="209.2" rx="1.4" ry="1.0" fill="#9a5238" transform="rotate(-24 421.2 209.2)"/>
<ellipse cx="424.6" cy="209.5" rx="1.0" ry="0.8" fill="#9a5238" transform="rotate(-6 424.6 209.5)"/>
<ellipse cx="427.5" cy="209.8" rx="1.1" ry="0.8" fill="#a65c3c" transform="rotate(9 427.5 209.8)"/>
<ellipse cx="339.8" cy="212.6" rx="1.3" ry="1.0" fill="#a65c3c" transform="rotate(-21 339.8 212.6)"/>
<ellipse cx="343.5" cy="212.6" rx="1.4" ry="1.0" fill="#c88462" transform="rotate(0 343.5 212.6)"/>
<ellipse cx="346.5" cy="211.9" rx="1.2" ry="0.9" fill="#c88462" transform="rotate(-5 346.5 211.9)"/>
<ellipse cx="349.4" cy="211.9" rx="1.5" ry="0.7" fill="#a65c3c" transform="rotate(-14 349.4 211.9)"/>
<ellipse cx="352.8" cy="212.5" rx="1.1" ry="0.7" fill="#a65c3c" transform="rotate(-49 352.8 212.5)"/>
<ellipse cx="356.8" cy="212.3" rx="1.5" ry="1.1" fill="#c88462" transform="rotate(-31 356.8 212.3)"/>
<ellipse cx="360.1" cy="211.8" rx="1.5" ry="0.9" fill="#b4684a" transform="rotate(-44 360.1 211.8)"/>
<ellipse cx="363.2" cy="211.9" rx="1.3" ry="0.9" fill="#c88462" transform="rotate(-39 363.2 211.9)"/>
<ellipse cx="366.7" cy="212.0" rx="1.1" ry="0.8" fill="#c88462" transform="rotate(-6 366.7 212.0)"/>
<ellipse cx="370.0" cy="212.1" rx="1.2" ry="0.9" fill="#9a5238" transform="rotate(-15 370.0 212.1)"/>
<ellipse cx="372.9" cy="211.9" rx="1.3" ry="1.1" fill="#bf7656" transform="rotate(3 372.9 211.9)"/>
<ellipse cx="376.5" cy="211.9" rx="1.4" ry="1.0" fill="#c88462" transform="rotate(-7 376.5 211.9)"/>
<ellipse cx="379.6" cy="212.3" rx="1.5" ry="0.8" fill="#a65c3c" transform="rotate(-19 379.6 212.3)"/>
<ellipse cx="383.1" cy="212.5" rx="1.3" ry="0.9" fill="#b4684a" transform="rotate(-42 383.1 212.5)"/>
<ellipse cx="386.0" cy="212.0" rx="1.4" ry="0.8" fill="#b4684a" transform="rotate(4 386.0 212.0)"/>
<ellipse cx="389.7" cy="212.6" rx="1.2" ry="1.0" fill="#bf7656" transform="rotate(-12 389.7 212.6)"/>
<ellipse cx="393.2" cy="212.3" rx="1.2" ry="0.8" fill="#a65c3c" transform="rotate(-33 393.2 212.3)"/>
<ellipse cx="396.1" cy="212.1" rx="1.1" ry="0.8" fill="#9a5238" transform="rotate(-20 396.1 212.1)"/>
<ellipse cx="399.7" cy="211.9" rx="1.6" ry="0.9" fill="#c88462" transform="rotate(-37 399.7 211.9)"/>
<ellipse cx="402.7" cy="212.5" rx="1.5" ry="0.9" fill="#bf7656" transform="rotate(-4 402.7 212.5)"/>
<ellipse cx="405.6" cy="212.6" rx="1.5" ry="1.1" fill="#a65c3c" transform="rotate(-21 405.6 212.6)"/>
<ellipse cx="409.7" cy="212.5" rx="1.4" ry="1.0" fill="#a65c3c" transform="rotate(-37 409.7 212.5)"/>
<ellipse cx="413.0" cy="212.0" rx="1.1" ry="0.8" fill="#b4684a" transform="rotate(-11 413.0 212.0)"/>
<ellipse cx="416.1" cy="212.5" rx="1.5" ry="0.8" fill="#a65c3c" transform="rotate(-30 416.1 212.5)"/>
<ellipse cx="418.9" cy="211.9" rx="1.5" ry="0.7" fill="#9a5238" transform="rotate(3 418.9 211.9)"/>
<ellipse cx="422.9" cy="211.8" rx="1.3" ry="1.0" fill="#9a5238" transform="rotate(-50 422.9 211.8)"/>
<ellipse cx="425.3" cy="212.1" rx="1.2" ry="0.7" fill="#c88462" transform="rotate(-3 425.3 212.1)"/>
<ellipse cx="429.6" cy="212.1" rx="1.3" ry="0.7" fill="#9a5238" transform="rotate(-46 429.6 212.1)"/>
<ellipse cx="341.8" cy="214.5" rx="1.5" ry="1.1" fill="#a65c3c" transform="rotate(-17 341.8 214.5)"/>
<ellipse cx="345.3" cy="214.7" rx="1.5" ry="1.0" fill="#9a5238" transform="rotate(-8 345.3 214.7)"/>
<ellipse cx="348.4" cy="214.9" rx="1.5" ry="0.8" fill="#9a5238" transform="rotate(-7 348.4 214.9)"/>
<ellipse cx="351.6" cy="214.8" rx="1.4" ry="0.9" fill="#a65c3c" transform="rotate(-5 351.6 214.8)"/>
<ellipse cx="354.6" cy="215.0" rx="1.4" ry="1.0" fill="#b4684a" transform="rotate(-39 354.6 215.0)"/>
<ellipse cx="358.0" cy="215.1" rx="1.3" ry="0.7" fill="#c88462" transform="rotate(-41 358.0 215.1)"/>
<ellipse cx="361.8" cy="214.9" rx="1.4" ry="0.9" fill="#9a5238" transform="rotate(-9 361.8 214.9)"/>
<ellipse cx="364.4" cy="214.8" rx="1.5" ry="1.0" fill="#a65c3c" transform="rotate(-5 364.4 214.8)"/>
<ellipse cx="367.7" cy="214.8" rx="1.3" ry="0.9" fill="#a65c3c" transform="rotate(-33 367.7 214.8)"/>
<ellipse cx="371.1" cy="214.4" rx="1.1" ry="0.9" fill="#9a5238" transform="rotate(-35 371.1 214.4)"/>
<ellipse cx="374.8" cy="214.8" rx="1.5" ry="1.1" fill="#bf7656" transform="rotate(-16 374.8 214.8)"/>
<ellipse cx="378.2" cy="214.5" rx="1.3" ry="1.1" fill="#b4684a" transform="rotate(-33 378.2 214.5)"/>
<ellipse cx="381.3" cy="214.9" rx="1.3" ry="1.1" fill="#a65c3c" transform="rotate(-39 381.3 214.9)"/>
<ellipse cx="384.7" cy="214.9" rx="1.4" ry="0.9" fill="#b4684a" transform="rotate(-13 384.7 214.9)"/>
<ellipse cx="387.9" cy="215.1" rx="1.5" ry="0.9" fill="#b4684a" transform="rotate(-14 387.9 215.1)"/>
<ellipse cx="390.8" cy="215.1" rx="1.2" ry="0.8" fill="#bf7656" transform="rotate(7 390.8 215.1)"/>
<ellipse cx="394.3" cy="215.1" rx="1.2" ry="1.1" fill="#9a5238" transform="rotate(-10 394.3 215.1)"/>
<ellipse cx="397.7" cy="214.8" rx="1.4" ry="1.1" fill="#bf7656" transform="rotate(-49 397.7 214.8)"/>
<ellipse cx="401.1" cy="215.0" rx="1.0" ry="1.0" fill="#b4684a" transform="rotate(-19 401.1 215.0)"/>
<ellipse cx="404.0" cy="214.9" rx="1.1" ry="1.0" fill="#b4684a" transform="rotate(-48 404.0 214.9)"/>
<ellipse cx="407.9" cy="215.1" rx="1.6" ry="0.7" fill="#9a5238" transform="rotate(-8 407.9 215.1)"/>
<ellipse cx="411.3" cy="214.5" rx="1.5" ry="0.9" fill="#a65c3c" transform="rotate(-49 411.3 214.5)"/>
<ellipse cx="414.1" cy="214.6" rx="1.0" ry="0.9" fill="#9a5238" transform="rotate(-30 414.1 214.6)"/>
<ellipse cx="417.3" cy="214.7" rx="1.4" ry="0.7" fill="#c88462" transform="rotate(-1 417.3 214.7)"/>
<ellipse cx="421.2" cy="215.0" rx="1.4" ry="0.8" fill="#b4684a" transform="rotate(9 421.2 215.0)"/>
<ellipse cx="423.7" cy="214.6" rx="1.4" ry="0.8" fill="#9a5238" transform="rotate(-44 423.7 214.6)"/>
<ellipse cx="427.7" cy="214.7" rx="1.5" ry="1.0" fill="#bf7656" transform="rotate(-19 427.7 214.7)"/>
<ellipse cx="340.0" cy="217.1" rx="1.5" ry="0.8" fill="#bf7656" transform="rotate(-31 340.0 217.1)"/>
<ellipse cx="342.8" cy="217.4" rx="1.4" ry="0.9" fill="#bf7656" transform="rotate(7 342.8 217.4)"/>
<ellipse cx="346.1" cy="217.2" rx="1.5" ry="0.9" fill="#9a5238" transform="rotate(-12 346.1 217.2)"/>
<ellipse cx="349.8" cy="217.8" rx="1.5" ry="0.8" fill="#9a5238" transform="rotate(-41 349.8 217.8)"/>
<ellipse cx="353.6" cy="217.4" rx="1.1" ry="0.7" fill="#c88462" transform="rotate(-25 353.6 217.4)"/>
<ellipse cx="356.5" cy="217.5" rx="1.1" ry="0.9" fill="#bf7656" transform="rotate(-19 356.5 217.5)"/>
<ellipse cx="359.5" cy="217.7" rx="1.2" ry="0.8" fill="#a65c3c" transform="rotate(-5 359.5 217.7)"/>
<ellipse cx="363.3" cy="217.2" rx="1.0" ry="0.9" fill="#b4684a" transform="rotate(-35 363.3 217.2)"/>
<ellipse cx="366.0" cy="217.4" rx="1.1" ry="0.9" fill="#9a5238" transform="rotate(8 366.0 217.4)"/>
<ellipse cx="369.3" cy="217.0" rx="1.4" ry="0.8" fill="#bf7656" transform="rotate(0 369.3 217.0)"/>
<ellipse cx="373.4" cy="217.2" rx="1.1" ry="0.8" fill="#9a5238" transform="rotate(-10 373.4 217.2)"/>
<ellipse cx="376.8" cy="217.3" rx="1.0" ry="0.9" fill="#a65c3c" transform="rotate(-13 376.8 217.3)"/>
<ellipse cx="379.7" cy="217.1" rx="1.4" ry="0.7" fill="#c88462" transform="rotate(-48 379.7 217.1)"/>
<ellipse cx="382.9" cy="217.2" rx="1.3" ry="0.8" fill="#bf7656" transform="rotate(-29 382.9 217.2)"/>
<ellipse cx="386.5" cy="217.7" rx="1.6" ry="0.7" fill="#9a5238" transform="rotate(-2 386.5 217.7)"/>
<ellipse cx="389.6" cy="217.8" rx="1.1" ry="0.8" fill="#bf7656" transform="rotate(-43 389.6 217.8)"/>
<ellipse cx="392.8" cy="217.4" rx="1.3" ry="1.0" fill="#bf7656" transform="rotate(-39 392.8 217.4)"/>
<ellipse cx="396.4" cy="217.7" rx="1.2" ry="1.1" fill="#9a5238" transform="rotate(9 396.4 217.7)"/>
<ellipse cx="399.1" cy="217.6" rx="1.3" ry="0.9" fill="#bf7656" transform="rotate(-28 399.1 217.6)"/>
<ellipse cx="402.5" cy="217.1" rx="1.4" ry="0.9" fill="#bf7656" transform="rotate(10 402.5 217.1)"/>
<ellipse cx="406.0" cy="217.1" rx="1.4" ry="0.7" fill="#bf7656" transform="rotate(-45 406.0 217.1)"/>
<ellipse cx="409.6" cy="217.5" rx="1.1" ry="0.8" fill="#a65c3c" transform="rotate(6 409.6 217.5)"/>
<ellipse cx="412.7" cy="217.0" rx="1.3" ry="1.0" fill="#9a5238" transform="rotate(-27 412.7 217.0)"/>
<ellipse cx="415.4" cy="217.2" rx="1.5" ry="1.1" fill="#9a5238" transform="rotate(-14 415.4 217.2)"/>
<ellipse cx="419.0" cy="217.4" rx="1.5" ry="0.8" fill="#a65c3c" transform="rotate(-41 419.0 217.4)"/>
<ellipse cx="422.9" cy="217.1" rx="1.6" ry="0.7" fill="#9a5238" transform="rotate(-37 422.9 217.1)"/>
<ellipse cx="425.5" cy="217.4" rx="1.3" ry="1.0" fill="#c88462" transform="rotate(-30 425.5 217.4)"/>
<ellipse cx="429.4" cy="217.4" rx="1.1" ry="0.8" fill="#a65c3c" transform="rotate(-48 429.4 217.4)"/>
<ellipse cx="341.9" cy="219.7" rx="1.0" ry="1.1" fill="#b4684a" transform="rotate(10 341.9 219.7)"/>
<ellipse cx="345.3" cy="219.7" rx="1.3" ry="0.8" fill="#c88462" transform="rotate(-44 345.3 219.7)"/>
<ellipse cx="348.3" cy="220.2" rx="1.5" ry="0.8" fill="#c88462" transform="rotate(-8 348.3 220.2)"/>
<ellipse cx="351.4" cy="219.7" rx="1.5" ry="0.9" fill="#bf7656" transform="rotate(-37 351.4 219.7)"/>
<ellipse cx="354.4" cy="219.6" rx="1.2" ry="1.0" fill="#9a5238" transform="rotate(-28 354.4 219.6)"/>
<ellipse cx="357.8" cy="220.2" rx="1.6" ry="1.0" fill="#9a5238" transform="rotate(-23 357.8 220.2)"/>
<ellipse cx="361.7" cy="219.7" rx="1.3" ry="0.8" fill="#a65c3c" transform="rotate(-29 361.7 219.7)"/>
<ellipse cx="364.4" cy="220.0" rx="1.2" ry="0.8" fill="#b4684a" transform="rotate(-4 364.4 220.0)"/>
<ellipse cx="367.7" cy="220.3" rx="1.4" ry="0.9" fill="#c88462" transform="rotate(4 367.7 220.3)"/>
<ellipse cx="371.2" cy="220.4" rx="1.5" ry="1.1" fill="#bf7656" transform="rotate(7 371.2 220.4)"/>
<ellipse cx="374.9" cy="219.9" rx="1.6" ry="1.1" fill="#9a5238" transform="rotate(9 374.9 219.9)"/>
<ellipse cx="377.4" cy="220.3" rx="1.0" ry="0.8" fill="#c88462" transform="rotate(-17 377.4 220.3)"/>
<ellipse cx="380.8" cy="220.0" rx="1.1" ry="0.8" fill="#bf7656" transform="rotate(-23 380.8 220.0)"/>
<ellipse cx="384.0" cy="220.0" rx="1.1" ry="1.0" fill="#b4684a" transform="rotate(-44 384.0 220.0)"/>
<ellipse cx="387.7" cy="220.3" rx="1.3" ry="0.8" fill="#bf7656" transform="rotate(-2 387.7 220.3)"/>
<ellipse cx="391.4" cy="219.8" rx="1.2" ry="1.0" fill="#9a5238" transform="rotate(10 391.4 219.8)"/>
<ellipse cx="394.1" cy="219.8" rx="1.3" ry="0.9" fill="#c88462" transform="rotate(-36 394.1 219.8)"/>
<ellipse cx="397.6" cy="220.3" rx="1.2" ry="0.9" fill="#9a5238" transform="rotate(1 397.6 220.3)"/>
<ellipse cx="401.3" cy="220.2" rx="1.6" ry="0.9" fill="#a65c3c" transform="rotate(-42 401.3 220.2)"/>
<ellipse cx="404.4" cy="219.7" rx="1.0" ry="1.1" fill="#a65c3c" transform="rotate(-37 404.4 219.7)"/>
<ellipse cx="408.1" cy="220.2" rx="1.2" ry="1.1" fill="#9a5238" transform="rotate(-15 408.1 220.2)"/>
<ellipse cx="410.4" cy="219.7" rx="1.0" ry="0.9" fill="#9a5238" transform="rotate(3 410.4 219.7)"/>
<ellipse cx="413.8" cy="220.0" rx="1.1" ry="0.8" fill="#b4684a" transform="rotate(-7 413.8 220.0)"/>
<ellipse cx="417.8" cy="219.9" rx="1.2" ry="0.7" fill="#bf7656" transform="rotate(-48 417.8 219.9)"/>
<ellipse cx="420.9" cy="220.1" rx="1.5" ry="1.0" fill="#b4684a" transform="rotate(-42 420.9 220.1)"/>
<ellipse cx="424.3" cy="220.3" rx="1.2" ry="1.0" fill="#9a5238" transform="rotate(-15 424.3 220.3)"/>
<ellipse cx="427.0" cy="219.6" rx="1.0" ry="0.9" fill="#a65c3c" transform="rotate(7 427.0 219.6)"/>
<ellipse cx="340.3" cy="222.6" rx="1.3" ry="1.0" fill="#c88462" transform="rotate(-18 340.3 222.6)"/>
<ellipse cx="343.2" cy="222.6" rx="1.1" ry="0.8" fill="#b4684a" transform="rotate(3 343.2 222.6)"/>
<ellipse cx="346.6" cy="222.5" rx="1.2" ry="0.9" fill="#9a5238" transform="rotate(-22 346.6 222.5)"/>
<ellipse cx="349.7" cy="222.6" rx="1.3" ry="0.8" fill="#a65c3c" transform="rotate(-24 349.7 222.6)"/>
<ellipse cx="353.2" cy="222.4" rx="1.3" ry="0.9" fill="#9a5238" transform="rotate(-49 353.2 222.4)"/>
<ellipse cx="356.3" cy="222.7" rx="1.1" ry="0.8" fill="#9a5238" transform="rotate(-44 356.3 222.7)"/>
<ellipse cx="359.7" cy="222.3" rx="1.0" ry="0.9" fill="#bf7656" transform="rotate(-38 359.7 222.3)"/>
<ellipse cx="362.9" cy="222.5" rx="1.4" ry="1.1" fill="#bf7656" transform="rotate(-30 362.9 222.5)"/>
<ellipse cx="365.9" cy="222.4" rx="1.0" ry="0.8" fill="#c88462" transform="rotate(-25 365.9 222.4)"/>
<ellipse cx="369.8" cy="222.2" rx="1.3" ry="0.9" fill="#a65c3c" transform="rotate(-19 369.8 222.2)"/>
<ellipse cx="372.7" cy="222.4" rx="1.0" ry="0.9" fill="#a65c3c" transform="rotate(-10 372.7 222.4)"/>
<ellipse cx="376.6" cy="222.9" rx="1.6" ry="1.1" fill="#a65c3c" transform="rotate(-23 376.6 222.9)"/>
<ellipse cx="379.4" cy="222.6" rx="1.2" ry="0.9" fill="#a65c3c" transform="rotate(-39 379.4 222.6)"/>
<ellipse cx="382.6" cy="223.0" rx="1.1" ry="1.1" fill="#b4684a" transform="rotate(-6 382.6 223.0)"/>
<ellipse cx="386.7" cy="222.7" rx="1.4" ry="0.8" fill="#a65c3c" transform="rotate(-39 386.7 222.7)"/>
<ellipse cx="389.8" cy="222.3" rx="1.1" ry="1.0" fill="#b4684a" transform="rotate(-47 389.8 222.3)"/>
<ellipse cx="392.8" cy="222.3" rx="1.1" ry="1.0" fill="#bf7656" transform="rotate(-26 392.8 222.3)"/>
<ellipse cx="395.8" cy="222.2" rx="1.1" ry="0.7" fill="#9a5238" transform="rotate(-42 395.8 222.2)"/>
<ellipse cx="399.3" cy="223.0" rx="1.4" ry="1.1" fill="#a65c3c" transform="rotate(10 399.3 223.0)"/>
<ellipse cx="402.6" cy="222.3" rx="1.3" ry="0.7" fill="#c88462" transform="rotate(10 402.6 222.3)"/>
<ellipse cx="406.4" cy="222.3" rx="1.5" ry="0.9" fill="#9a5238" transform="rotate(-17 406.4 222.3)"/>
<ellipse cx="409.5" cy="222.8" rx="1.3" ry="0.9" fill="#c88462" transform="rotate(-31 409.5 222.8)"/>
<ellipse cx="412.5" cy="222.6" rx="1.5" ry="0.8" fill="#c88462" transform="rotate(-32 412.5 222.6)"/>
<ellipse cx="416.3" cy="222.9" rx="1.1" ry="1.1" fill="#b4684a" transform="rotate(-30 416.3 222.9)"/>
<ellipse cx="419.0" cy="222.4" rx="1.0" ry="1.1" fill="#bf7656" transform="rotate(-11 419.0 222.4)"/>
<ellipse cx="422.9" cy="222.3" rx="1.0" ry="1.0" fill="#bf7656" transform="rotate(-14 422.9 222.3)"/>
<ellipse cx="426.0" cy="222.6" rx="1.5" ry="0.7" fill="#c88462" transform="rotate(-13 426.0 222.6)"/>
<ellipse cx="429.0" cy="222.3" rx="1.4" ry="0.8" fill="#c88462" transform="rotate(-14 429.0 222.3)"/>
<ellipse cx="341.5" cy="225.1" rx="1.2" ry="0.9" fill="#9a5238" transform="rotate(5 341.5 225.1)"/>
<ellipse cx="345.1" cy="225.1" rx="1.6" ry="0.8" fill="#b4684a" transform="rotate(-43 345.1 225.1)"/>
<ellipse cx="348.3" cy="225.0" rx="1.6" ry="1.0" fill="#b4684a" transform="rotate(-32 348.3 225.0)"/>
<ellipse cx="351.4" cy="225.0" rx="1.1" ry="0.8" fill="#b4684a" transform="rotate(-11 351.4 225.0)"/>
<ellipse cx="354.8" cy="225.2" rx="1.4" ry="0.7" fill="#bf7656" transform="rotate(-15 354.8 225.2)"/>
<ellipse cx="358.4" cy="225.4" rx="1.0" ry="1.0" fill="#bf7656" transform="rotate(-37 358.4 225.4)"/>
<ellipse cx="361.9" cy="225.1" rx="1.1" ry="0.9" fill="#a65c3c" transform="rotate(-23 361.9 225.1)"/>
<ellipse cx="364.9" cy="225.1" rx="1.3" ry="0.7" fill="#9a5238" transform="rotate(-18 364.9 225.1)"/>
<ellipse cx="367.9" cy="225.2" rx="1.5" ry="1.0" fill="#a65c3c" transform="rotate(-13 367.9 225.2)"/>
<ellipse cx="371.3" cy="225.1" rx="1.0" ry="0.7" fill="#a65c3c" transform="rotate(-42 371.3 225.1)"/>
<ellipse cx="375.0" cy="225.0" rx="1.3" ry="0.8" fill="#a65c3c" transform="rotate(-16 375.0 225.0)"/>
<ellipse cx="378.1" cy="225.1" rx="1.3" ry="0.8" fill="#b4684a" transform="rotate(-22 378.1 225.1)"/>
<ellipse cx="381.0" cy="225.3" rx="1.3" ry="1.1" fill="#b4684a" transform="rotate(-20 381.0 225.3)"/>
<ellipse cx="384.1" cy="225.0" rx="1.3" ry="0.7" fill="#b4684a" transform="rotate(-12 384.1 225.0)"/>
<ellipse cx="388.2" cy="225.1" rx="1.5" ry="0.9" fill="#bf7656" transform="rotate(3 388.2 225.1)"/>
<ellipse cx="391.6" cy="225.2" rx="1.1" ry="0.8" fill="#bf7656" transform="rotate(-13 391.6 225.2)"/>
<ellipse cx="394.5" cy="225.3" rx="1.3" ry="0.7" fill="#a65c3c" transform="rotate(-46 394.5 225.3)"/>
<ellipse cx="397.6" cy="225.4" rx="1.6" ry="0.7" fill="#a65c3c" transform="rotate(-30 397.6 225.4)"/>
<ellipse cx="401.0" cy="225.1" rx="1.5" ry="1.0" fill="#9a5238" transform="rotate(-9 401.0 225.1)"/>
<ellipse cx="404.2" cy="225.3" rx="1.5" ry="0.8" fill="#bf7656" transform="rotate(-45 404.2 225.3)"/>
<ellipse cx="407.2" cy="225.2" rx="1.5" ry="0.9" fill="#b4684a" transform="rotate(-14 407.2 225.2)"/>
<ellipse cx="411.2" cy="224.9" rx="1.5" ry="1.0" fill="#c88462" transform="rotate(-25 411.2 224.9)"/>
<ellipse cx="414.0" cy="225.6" rx="1.4" ry="0.9" fill="#b4684a" transform="rotate(-14 414.0 225.6)"/>
<ellipse cx="417.3" cy="225.5" rx="1.1" ry="0.9" fill="#c88462" transform="rotate(-17 417.3 225.5)"/>
<ellipse cx="420.7" cy="225.4" rx="1.5" ry="1.0" fill="#c88462" transform="rotate(-37 420.7 225.4)"/>
<ellipse cx="424.0" cy="225.4" rx="1.5" ry="1.0" fill="#bf7656" transform="rotate(5 424.0 225.4)"/>
<ellipse cx="427.8" cy="224.9" rx="1.1" ry="0.9" fill="#c88462" transform="rotate(-25 427.8 224.9)"/>
<ellipse cx="340.3" cy="227.7" rx="1.5" ry="0.8" fill="#b4684a" transform="rotate(-26 340.3 227.7)"/>
<ellipse cx="343.7" cy="227.9" rx="1.4" ry="0.8" fill="#9a5238" transform="rotate(-26 343.7 227.9)"/>
<ellipse cx="346.3" cy="227.6" rx="1.2" ry="0.7" fill="#9a5238" transform="rotate(-4 346.3 227.6)"/>
<ellipse cx="349.5" cy="227.6" rx="1.3" ry="0.9" fill="#b4684a" transform="rotate(-20 349.5 227.6)"/>
<ellipse cx="353.4" cy="227.6" rx="1.4" ry="0.9" fill="#b4684a" transform="rotate(-7 353.4 227.6)"/>
<ellipse cx="356.8" cy="227.7" rx="1.3" ry="0.9" fill="#9a5238" transform="rotate(-22 356.8 227.7)"/>
<ellipse cx="359.7" cy="227.5" rx="1.3" ry="0.9" fill="#a65c3c" transform="rotate(-13 359.7 227.5)"/>
<ellipse cx="362.8" cy="227.8" rx="1.3" ry="0.9" fill="#bf7656" transform="rotate(2 362.8 227.8)"/>
<ellipse cx="366.4" cy="227.8" rx="1.2" ry="0.9" fill="#b4684a" transform="rotate(-43 366.4 227.8)"/>
<ellipse cx="369.9" cy="227.7" rx="1.4" ry="0.9" fill="#a65c3c" transform="rotate(-28 369.9 227.7)"/>
<ellipse cx="373.0" cy="228.1" rx="1.3" ry="0.9" fill="#bf7656" transform="rotate(-27 373.0 228.1)"/>
<ellipse cx="376.3" cy="227.9" rx="1.5" ry="0.8" fill="#a65c3c" transform="rotate(-6 376.3 227.9)"/>
<ellipse cx="379.9" cy="227.8" rx="1.2" ry="1.1" fill="#9a5238" transform="rotate(-16 379.9 227.8)"/>
<ellipse cx="382.7" cy="227.7" rx="1.6" ry="1.0" fill="#a65c3c" transform="rotate(-23 382.7 227.7)"/>
<ellipse cx="386.4" cy="228.0" rx="1.2" ry="0.9" fill="#c88462" transform="rotate(-39 386.4 228.0)"/>
<ellipse cx="389.2" cy="228.0" rx="1.3" ry="0.9" fill="#a65c3c" transform="rotate(-30 389.2 228.0)"/>
<ellipse cx="392.9" cy="227.7" rx="1.4" ry="0.8" fill="#bf7656" transform="rotate(-21 392.9 227.7)"/>
<ellipse cx="395.8" cy="227.7" rx="1.3" ry="0.7" fill="#a65c3c" transform="rotate(-12 395.8 227.7)"/>
<ellipse cx="399.4" cy="227.6" rx="1.3" ry="0.8" fill="#a65c3c" transform="rotate(-15 399.4 227.6)"/>
<ellipse cx="402.7" cy="228.1" rx="1.5" ry="0.9" fill="#bf7656" transform="rotate(-33 402.7 228.1)"/>
<ellipse cx="405.6" cy="227.6" rx="1.2" ry="1.1" fill="#a65c3c" transform="rotate(-37 405.6 227.6)"/>
<ellipse cx="409.7" cy="227.8" rx="1.3" ry="0.8" fill="#b4684a" transform="rotate(-34 409.7 227.8)"/>
<ellipse cx="412.7" cy="227.8" rx="1.1" ry="0.8" fill="#9a5238" transform="rotate(0 412.7 227.8)"/>
<ellipse cx="415.7" cy="227.7" rx="1.1" ry="1.0" fill="#b4684a" transform="rotate(-2 415.7 227.7)"/>
<ellipse cx="418.8" cy="228.2" rx="1.2" ry="0.7" fill="#b4684a" transform="rotate(-40 418.8 228.2)"/>
<ellipse cx="422.0" cy="227.8" rx="1.6" ry="0.8" fill="#bf7656" transform="rotate(-3 422.0 227.8)"/>
<ellipse cx="425.7" cy="227.9" rx="1.3" ry="1.1" fill="#bf7656" transform="rotate(-34 425.7 227.9)"/>
<ellipse cx="428.9" cy="227.6" rx="1.5" ry="0.8" fill="#a65c3c" transform="rotate(-40 428.9 227.6)"/>
<ellipse cx="341.5" cy="230.0" rx="1.5" ry="0.8" fill="#b4684a" transform="rotate(4 341.5 230.0)"/>
<ellipse cx="345.1" cy="230.5" rx="1.2" ry="1.0" fill="#c88462" transform="rotate(-3 345.1 230.5)"/>
<ellipse cx="348.7" cy="230.3" rx="1.1" ry="0.8" fill="#a65c3c" transform="rotate(-19 348.7 230.3)"/>
<ellipse cx="351.4" cy="230.2" rx="1.1" ry="0.8" fill="#c88462" transform="rotate(-4 351.4 230.2)"/>
<ellipse cx="354.5" cy="230.1" rx="1.4" ry="1.1" fill="#b4684a" transform="rotate(-44 354.5 230.1)"/>
<ellipse cx="357.6" cy="230.1" rx="1.5" ry="0.9" fill="#bf7656" transform="rotate(-15 357.6 230.1)"/>
<ellipse cx="361.9" cy="230.5" rx="1.2" ry="1.0" fill="#a65c3c" transform="rotate(-46 361.9 230.5)"/>
<ellipse cx="364.5" cy="230.6" rx="1.1" ry="0.7" fill="#c88462" transform="rotate(-4 364.5 230.6)"/>
<ellipse cx="367.8" cy="230.8" rx="1.1" ry="1.0" fill="#bf7656" transform="rotate(-50 367.8 230.8)"/>
<ellipse cx="371.6" cy="230.4" rx="1.4" ry="0.8" fill="#b4684a" transform="rotate(-22 371.6 230.4)"/>
<ellipse cx="374.6" cy="230.6" rx="1.2" ry="0.8" fill="#bf7656" transform="rotate(-25 374.6 230.6)"/>
<ellipse cx="377.5" cy="230.3" rx="1.3" ry="0.9" fill="#c88462" transform="rotate(-35 377.5 230.3)"/>
<ellipse cx="381.0" cy="230.0" rx="1.0" ry="0.8" fill="#b4684a" transform="rotate(-21 381.0 230.0)"/>
<ellipse cx="384.6" cy="230.2" rx="1.5" ry="0.9" fill="#b4684a" transform="rotate(-17 384.6 230.2)"/>
<ellipse cx="387.9" cy="230.5" rx="1.5" ry="0.8" fill="#bf7656" transform="rotate(-18 387.9 230.5)"/>
<ellipse cx="391.1" cy="230.2" rx="1.6" ry="1.1" fill="#b4684a" transform="rotate(-22 391.1 230.2)"/>
<ellipse cx="394.4" cy="230.2" rx="1.3" ry="0.8" fill="#c88462" transform="rotate(-32 394.4 230.2)"/>
<ellipse cx="397.3" cy="230.4" rx="1.3" ry="0.8" fill="#bf7656" transform="rotate(-49 397.3 230.4)"/>
<ellipse cx="400.5" cy="230.4" rx="1.0" ry="1.0" fill="#bf7656" transform="rotate(7 400.5 230.4)"/>
<ellipse cx="403.8" cy="230.3" rx="1.2" ry="1.0" fill="#bf7656" transform="rotate(-31 403.8 230.3)"/>
<ellipse cx="407.9" cy="230.6" rx="1.2" ry="0.9" fill="#bf7656" transform="rotate(-9 407.9 230.6)"/>
<ellipse cx="410.4" cy="230.8" rx="1.1" ry="0.7" fill="#bf7656" transform="rotate(-17 410.4 230.8)"/>
<ellipse cx="414.4" cy="230.6" rx="1.1" ry="0.8" fill="#9a5238" transform="rotate(-18 414.4 230.6)"/>
<ellipse cx="417.9" cy="230.4" rx="1.3" ry="0.8" fill="#bf7656" transform="rotate(9 417.9 230.4)"/>
<ellipse cx="420.4" cy="230.5" rx="1.2" ry="1.0" fill="#bf7656" transform="rotate(-21 420.4 230.5)"/>
<ellipse cx="423.9" cy="230.8" rx="1.2" ry="0.9" fill="#9a5238" transform="rotate(0 423.9 230.8)"/>
<ellipse cx="427.4" cy="230.2" rx="1.2" ry="1.0" fill="#bf7656" transform="rotate(-24 427.4 230.2)"/>
<ellipse cx="340.0" cy="232.8" rx="1.2" ry="0.7" fill="#b4684a" transform="rotate(-13 340.0 232.8)"/>
<ellipse cx="342.8" cy="232.9" rx="1.2" ry="0.8" fill="#b4684a" transform="rotate(8 342.8 232.9)"/>
<ellipse cx="346.6" cy="232.8" rx="1.5" ry="0.9" fill="#9a5238" transform="rotate(-26 346.6 232.8)"/>
<ellipse cx="349.8" cy="232.6" rx="1.4" ry="1.0" fill="#9a5238" transform="rotate(7 349.8 232.6)"/>
<ellipse cx="353.4" cy="232.8" rx="1.1" ry="0.8" fill="#b4684a" transform="rotate(-1 353.4 232.8)"/>
<ellipse cx="356.6" cy="233.1" rx="1.4" ry="0.7" fill="#bf7656" transform="rotate(-20 356.6 233.1)"/>
<ellipse cx="359.8" cy="233.0" rx="1.3" ry="0.9" fill="#bf7656" transform="rotate(-25 359.8 233.0)"/>
<ellipse cx="362.7" cy="233.0" rx="1.1" ry="0.7" fill="#c88462" transform="rotate(7 362.7 233.0)"/>
<ellipse cx="366.6" cy="233.4" rx="1.1" ry="1.0" fill="#bf7656" transform="rotate(-1 366.6 233.4)"/>
<ellipse cx="369.7" cy="232.7" rx="1.1" ry="0.8" fill="#9a5238" transform="rotate(-15 369.7 232.7)"/>
<ellipse cx="373.4" cy="233.3" rx="1.3" ry="0.8" fill="#b4684a" transform="rotate(-6 373.4 233.3)"/>
<ellipse cx="376.6" cy="232.9" rx="1.2" ry="0.9" fill="#a65c3c" transform="rotate(-34 376.6 232.9)"/>
<ellipse cx="379.6" cy="233.1" rx="1.2" ry="0.9" fill="#b4684a" transform="rotate(-43 379.6 233.1)"/>
<ellipse cx="382.7" cy="232.7" rx="1.5" ry="0.8" fill="#b4684a" transform="rotate(5 382.7 232.7)"/>
<ellipse cx="386.6" cy="232.8" rx="1.5" ry="0.8" fill="#9a5238" transform="rotate(-1 386.6 232.8)"/>
<ellipse cx="389.2" cy="233.0" rx="1.3" ry="0.9" fill="#c88462" transform="rotate(-9 389.2 233.0)"/>
<ellipse cx="392.6" cy="233.3" rx="1.6" ry="1.0" fill="#c88462" transform="rotate(-46 392.6 233.3)"/>
<ellipse cx="396.4" cy="232.9" rx="1.2" ry="0.8" fill="#b4684a" transform="rotate(7 396.4 232.9)"/>
<ellipse cx="399.1" cy="233.1" rx="1.5" ry="0.9" fill="#9a5238" transform="rotate(-47 399.1 233.1)"/>
<ellipse cx="402.7" cy="232.9" rx="1.3" ry="1.0" fill="#c88462" transform="rotate(-38 402.7 232.9)"/>
<ellipse cx="406.0" cy="232.8" rx="1.2" ry="0.7" fill="#bf7656" transform="rotate(7 406.0 232.8)"/>
<ellipse cx="409.6" cy="233.2" rx="1.5" ry="1.0" fill="#b4684a" transform="rotate(-34 409.6 233.2)"/>
<ellipse cx="412.8" cy="233.1" rx="1.1" ry="0.8" fill="#9a5238" transform="rotate(-28 412.8 233.1)"/>
<ellipse cx="416.0" cy="232.8" rx="1.0" ry="1.0" fill="#c88462" transform="rotate(-16 416.0 232.8)"/>
<ellipse cx="418.8" cy="233.3" rx="1.3" ry="0.7" fill="#bf7656" transform="rotate(-1 418.8 233.3)"/>
<ellipse cx="422.7" cy="233.4" rx="1.1" ry="0.7" fill="#b4684a" transform="rotate(-27 422.7 233.4)"/>
<ellipse cx="426.1" cy="233.0" rx="1.2" ry="0.9" fill="#bf7656" transform="rotate(-26 426.1 233.0)"/>
<ellipse cx="429.1" cy="233.2" rx="1.4" ry="1.1" fill="#9a5238" transform="rotate(-20 429.1 233.2)"/>
<ellipse cx="341.7" cy="235.6" rx="1.0" ry="0.7" fill="#9a5238" transform="rotate(-39 341.7 235.6)"/>
<ellipse cx="344.6" cy="235.6" rx="1.4" ry="0.8" fill="#9a5238" transform="rotate(-30 344.6 235.6)"/>
<ellipse cx="347.8" cy="235.6" rx="1.5" ry="1.0" fill="#a65c3c" transform="rotate(-11 347.8 235.6)"/>
<ellipse cx="351.1" cy="235.5" rx="1.1" ry="1.0" fill="#bf7656" transform="rotate(-28 351.1 235.5)"/>
<ellipse cx="355.0" cy="235.8" rx="1.6" ry="1.0" fill="#c88462" transform="rotate(-3 355.0 235.8)"/>
<ellipse cx="357.7" cy="235.9" rx="1.1" ry="0.7" fill="#a65c3c" transform="rotate(-33 357.7 235.9)"/>
<ellipse cx="361.0" cy="235.5" rx="1.5" ry="0.7" fill="#bf7656" transform="rotate(-48 361.0 235.5)"/>
<ellipse cx="364.3" cy="235.9" rx="1.4" ry="0.8" fill="#bf7656" transform="rotate(-3 364.3 235.9)"/>
<ellipse cx="368.5" cy="235.4" rx="1.2" ry="1.1" fill="#b4684a" transform="rotate(-6 368.5 235.4)"/>
<ellipse cx="371.3" cy="236.0" rx="1.1" ry="0.9" fill="#b4684a" transform="rotate(-6 371.3 236.0)"/>
<ellipse cx="374.9" cy="235.6" rx="1.3" ry="1.0" fill="#b4684a" transform="rotate(-11 374.9 235.6)"/>
<ellipse cx="378.1" cy="235.8" rx="1.5" ry="0.8" fill="#b4684a" transform="rotate(-2 378.1 235.8)"/>
<ellipse cx="380.9" cy="235.9" rx="1.3" ry="0.9" fill="#c88462" transform="rotate(8 380.9 235.9)"/>
<ellipse cx="384.7" cy="235.5" rx="1.2" ry="1.0" fill="#b4684a" transform="rotate(-32 384.7 235.5)"/>
<ellipse cx="387.7" cy="235.3" rx="1.2" ry="0.8" fill="#bf7656" transform="rotate(-25 387.7 235.3)"/>
<ellipse cx="391.6" cy="235.6" rx="1.5" ry="1.1" fill="#9a5238" transform="rotate(-50 391.6 235.6)"/>
<ellipse cx="394.5" cy="235.5" rx="1.6" ry="1.0" fill="#bf7656" transform="rotate(-17 394.5 235.5)"/>
<ellipse cx="397.9" cy="235.7" rx="1.4" ry="0.9" fill="#c88462" transform="rotate(-3 397.9 235.7)"/>
<ellipse cx="401.0" cy="235.9" rx="1.1" ry="1.0" fill="#9a5238" transform="rotate(-45 401.0 235.9)"/>
<ellipse cx="404.6" cy="235.3" rx="1.3" ry="0.9" fill="#b4684a" transform="rotate(-38 404.6 235.3)"/>
<ellipse cx="408.0" cy="235.8" rx="1.6" ry="1.1" fill="#9a5238" transform="rotate(-50 408.0 235.8)"/>
<ellipse cx="411.4" cy="235.9" rx="1.4" ry="0.8" fill="#c88462" transform="rotate(-43 411.4 235.9)"/>
<ellipse cx="414.0" cy="235.7" rx="1.5" ry="1.0" fill="#a65c3c" transform="rotate(-30 414.0 235.7)"/>
<ellipse cx="417.4" cy="235.6" rx="1.0" ry="1.0" fill="#9a5238" transform="rotate(0 417.4 235.6)"/>
<ellipse cx="420.6" cy="235.7" rx="1.4" ry="0.9" fill="#c88462" transform="rotate(-20 420.6 235.7)"/>
<ellipse cx="423.9" cy="235.3" rx="1.3" ry="0.8" fill="#c88462" transform="rotate(-46 423.9 235.3)"/>
<ellipse cx="427.2" cy="235.2" rx="1.0" ry="0.8" fill="#a65c3c" transform="rotate(-40 427.2 235.2)"/>
<ellipse cx="340.4" cy="238.3" rx="1.1" ry="1.0" fill="#c88462" transform="rotate(-47 340.4 238.3)"/>
<ellipse cx="342.8" cy="238.2" rx="1.4" ry="0.8" fill="#c88462" transform="rotate(-32 342.8 238.2)"/>
<ellipse cx="346.7" cy="238.1" rx="1.5" ry="0.8" fill="#bf7656" transform="rotate(-41 346.7 238.1)"/>
<ellipse cx="349.9" cy="238.3" rx="1.2" ry="0.9" fill="#bf7656" transform="rotate(3 349.9 238.3)"/>
<ellipse cx="352.7" cy="238.3" rx="1.5" ry="0.7" fill="#9a5238" transform="rotate(-24 352.7 238.3)"/>
<ellipse cx="356.3" cy="237.9" rx="1.1" ry="1.0" fill="#a65c3c" transform="rotate(-24 356.3 237.9)"/>
<ellipse cx="360.0" cy="238.1" rx="1.5" ry="1.0" fill="#a65c3c" transform="rotate(4 360.0 238.1)"/>
<ellipse cx="363.0" cy="238.6" rx="1.6" ry="0.8" fill="#9a5238" transform="rotate(6 363.0 238.6)"/>
<ellipse cx="366.3" cy="237.8" rx="1.1" ry="0.9" fill="#c88462" transform="rotate(-36 366.3 237.8)"/>
<ellipse cx="369.9" cy="238.5" rx="1.2" ry="0.8" fill="#c88462" transform="rotate(-40 369.9 238.5)"/>
<ellipse cx="372.7" cy="238.5" rx="1.0" ry="1.0" fill="#bf7656" transform="rotate(-34 372.7 238.5)"/>
<ellipse cx="376.0" cy="238.3" rx="1.3" ry="1.1" fill="#c88462" transform="rotate(-13 376.0 238.3)"/>
<ellipse cx="379.9" cy="238.2" rx="1.5" ry="1.0" fill="#bf7656" transform="rotate(3 379.9 238.2)"/>
<ellipse cx="382.7" cy="238.1" rx="1.3" ry="0.7" fill="#bf7656" transform="rotate(-9 382.7 238.1)"/>
<ellipse cx="385.8" cy="238.5" rx="1.4" ry="0.8" fill="#9a5238" transform="rotate(-34 385.8 238.5)"/>
<ellipse cx="389.3" cy="238.5" rx="1.4" ry="0.9" fill="#c88462" transform="rotate(-1 389.3 238.5)"/>
<ellipse cx="392.7" cy="238.3" rx="1.3" ry="0.8" fill="#9a5238" transform="rotate(6 392.7 238.3)"/>
<ellipse cx="396.2" cy="238.4" rx="1.4" ry="0.8" fill="#bf7656" transform="rotate(-9 396.2 238.4)"/>
<ellipse cx="399.7" cy="238.3" rx="1.1" ry="0.8" fill="#c88462" transform="rotate(-34 399.7 238.3)"/>
<ellipse cx="402.6" cy="238.3" rx="1.5" ry="1.1" fill="#a65c3c" transform="rotate(-18 402.6 238.3)"/>
<ellipse cx="406.1" cy="238.6" rx="1.4" ry="0.9" fill="#a65c3c" transform="rotate(0 406.1 238.6)"/>
<ellipse cx="409.6" cy="238.2" rx="1.6" ry="0.8" fill="#9a5238" transform="rotate(-42 409.6 238.2)"/>
<ellipse cx="412.8" cy="237.9" rx="1.5" ry="0.8" fill="#bf7656" transform="rotate(-1 412.8 237.9)"/>
<ellipse cx="416.2" cy="238.1" rx="1.3" ry="0.8" fill="#c88462" transform="rotate(-2 416.2 238.1)"/>
<ellipse cx="419.5" cy="238.2" rx="1.1" ry="0.8" fill="#c88462" transform="rotate(-7 419.5 238.2)"/>
<ellipse cx="422.5" cy="237.8" rx="1.3" ry="1.1" fill="#c88462" transform="rotate(-25 422.5 237.8)"/>
<ellipse cx="425.6" cy="238.5" rx="1.2" ry="1.1" fill="#bf7656" transform="rotate(4 425.6 238.5)"/>
<ellipse cx="428.7" cy="238.6" rx="1.0" ry="0.8" fill="#a65c3c" transform="rotate(-34 428.7 238.6)"/>
<ellipse cx="341.6" cy="241.1" rx="1.4" ry="0.8" fill="#b4684a" transform="rotate(-13 341.6 241.1)"/>
<ellipse cx="345.1" cy="241.1" rx="1.5" ry="0.7" fill="#a65c3c" transform="rotate(-14 345.1 241.1)"/>
<ellipse cx="347.7" cy="240.6" rx="1.1" ry="1.0" fill="#b4684a" transform="rotate(-28 347.7 240.6)"/>
<ellipse cx="351.2" cy="241.0" rx="1.1" ry="1.1" fill="#bf7656" transform="rotate(-49 351.2 241.0)"/>
<ellipse cx="355.2" cy="241.1" rx="1.1" ry="1.0" fill="#bf7656" transform="rotate(-1 355.2 241.1)"/>
<ellipse cx="357.8" cy="240.4" rx="1.4" ry="0.9" fill="#9a5238" transform="rotate(-7 357.8 240.4)"/>
<ellipse cx="361.7" cy="240.6" rx="1.3" ry="0.7" fill="#9a5238" transform="rotate(-46 361.7 240.6)"/>
<ellipse cx="365.1" cy="240.8" rx="1.1" ry="0.8" fill="#bf7656" transform="rotate(-33 365.1 240.8)"/>
<ellipse cx="367.9" cy="240.9" rx="1.5" ry="0.8" fill="#9a5238" transform="rotate(2 367.9 240.9)"/>
<ellipse cx="371.5" cy="241.1" rx="1.4" ry="0.8" fill="#c88462" transform="rotate(-49 371.5 241.1)"/>
<ellipse cx="374.5" cy="241.0" rx="1.1" ry="0.7" fill="#b4684a" transform="rotate(3 374.5 241.0)"/>
<ellipse cx="377.5" cy="241.2" rx="1.2" ry="0.8" fill="#bf7656" transform="rotate(9 377.5 241.2)"/>
<ellipse cx="380.7" cy="240.5" rx="1.1" ry="0.9" fill="#a65c3c" transform="rotate(-25 380.7 240.5)"/>
<ellipse cx="385.0" cy="240.9" rx="1.4" ry="1.1" fill="#b4684a" transform="rotate(-8 385.0 240.9)"/>
<ellipse cx="388.2" cy="241.2" rx="1.2" ry="0.8" fill="#bf7656" transform="rotate(-49 388.2 241.2)"/>
<ellipse cx="391.2" cy="240.5" rx="1.1" ry="0.9" fill="#b4684a" transform="rotate(-45 391.2 240.5)"/>
<ellipse cx="394.0" cy="240.8" rx="1.5" ry="0.8" fill="#9a5238" transform="rotate(2 394.0 240.8)"/>
<ellipse cx="397.8" cy="241.1" rx="1.2" ry="1.1" fill="#bf7656" transform="rotate(-32 397.8 241.1)"/>
<ellipse cx="400.6" cy="241.1" rx="1.5" ry="0.8" fill="#c88462" transform="rotate(-47 400.6 241.1)"/>
<ellipse cx="403.8" cy="240.7" rx="1.0" ry="0.8" fill="#a65c3c" transform="rotate(-49 403.8 240.7)"/>
<ellipse cx="408.0" cy="240.9" rx="1.4" ry="0.9" fill="#a65c3c" transform="rotate(4 408.0 240.9)"/>
<ellipse cx="411.3" cy="240.7" rx="1.5" ry="0.7" fill="#9a5238" transform="rotate(-41 411.3 240.7)"/>
<ellipse cx="414.5" cy="240.7" rx="1.4" ry="0.7" fill="#c88462" transform="rotate(-31 414.5 240.7)"/>
<ellipse cx="417.5" cy="240.9" rx="1.1" ry="0.8" fill="#c88462" transform="rotate(-37 417.5 240.9)"/>
<ellipse cx="420.8" cy="240.8" rx="1.1" ry="0.8" fill="#a65c3c" transform="rotate(-11 420.8 240.8)"/>
<ellipse cx="424.5" cy="241.0" rx="1.3" ry="0.8" fill="#b4684a" transform="rotate(-38 424.5 241.0)"/>
<ellipse cx="427.1" cy="241.0" rx="1.2" ry="1.1" fill="#9a5238" transform="rotate(0 427.1 241.0)"/>
<ellipse cx="340.2" cy="243.8" rx="1.1" ry="1.0" fill="#c88462" transform="rotate(-50 340.2 243.8)"/>
<ellipse cx="343.0" cy="243.4" rx="1.3" ry="1.0" fill="#bf7656" transform="rotate(-13 343.0 243.4)"/>
<ellipse cx="346.9" cy="243.6" rx="1.3" ry="0.8" fill="#bf7656" transform="rotate(-16 346.9 243.6)"/>
<ellipse cx="349.8" cy="243.8" rx="1.0" ry="1.0" fill="#c88462" transform="rotate(-3 349.8 243.8)"/>
<ellipse cx="353.0" cy="243.1" rx="1.5" ry="0.9" fill="#bf7656" transform="rotate(-34 353.0 243.1)"/>
<ellipse cx="356.7" cy="243.2" rx="1.6" ry="0.9" fill="#c88462" transform="rotate(-5 356.7 243.2)"/>
<ellipse cx="359.9" cy="243.4" rx="1.5" ry="0.9" fill="#bf7656" transform="rotate(-37 359.9 243.4)"/>
<ellipse cx="363.3" cy="243.2" rx="1.4" ry="0.9" fill="#9a5238" transform="rotate(-7 363.3 243.2)"/>
<ellipse cx="366.7" cy="243.1" rx="1.4" ry="0.8" fill="#a65c3c" transform="rotate(-48 366.7 243.1)"/>
<ellipse cx="369.7" cy="243.4" rx="1.4" ry="0.9" fill="#bf7656" transform="rotate(0 369.7 243.4)"/>
<ellipse cx="372.5" cy="243.6" rx="1.2" ry="1.0" fill="#bf7656" transform="rotate(-44 372.5 243.6)"/>
<ellipse cx="376.0" cy="243.7" rx="1.4" ry="1.0" fill="#a65c3c" transform="rotate(-7 376.0 243.7)"/>
<ellipse cx="379.7" cy="243.7" rx="1.5" ry="1.1" fill="#9a5238" transform="rotate(-10 379.7 243.7)"/>
<ellipse cx="382.4" cy="243.3" rx="1.0" ry="1.0" fill="#9a5238" transform="rotate(-19 382.4 243.3)"/>
<ellipse cx="386.0" cy="243.0" rx="1.2" ry="1.0" fill="#a65c3c" transform="rotate(6 386.0 243.0)"/>
<ellipse cx="389.3" cy="243.8" rx="1.0" ry="1.0" fill="#c88462" transform="rotate(-20 389.3 243.8)"/>
<ellipse cx="392.4" cy="243.5" rx="1.0" ry="1.0" fill="#9a5238" transform="rotate(-22 392.4 243.5)"/>
<ellipse cx="396.5" cy="243.7" rx="1.1" ry="0.9" fill="#b4684a" transform="rotate(-23 396.5 243.7)"/>
<ellipse cx="399.7" cy="243.1" rx="1.0" ry="0.7" fill="#a65c3c" transform="rotate(-35 399.7 243.1)"/>
<ellipse cx="402.9" cy="243.3" rx="1.5" ry="0.7" fill="#b4684a" transform="rotate(10 402.9 243.3)"/>
<ellipse cx="405.6" cy="243.1" rx="1.4" ry="1.0" fill="#bf7656" transform="rotate(-39 405.6 243.1)"/>
<ellipse cx="409.6" cy="243.7" rx="1.1" ry="1.1" fill="#9a5238" transform="rotate(-27 409.6 243.7)"/>
<ellipse cx="412.7" cy="243.7" rx="1.5" ry="0.8" fill="#a65c3c" transform="rotate(-29 412.7 243.7)"/>
<ellipse cx="416.2" cy="243.3" rx="1.1" ry="1.1" fill="#bf7656" transform="rotate(-15 416.2 243.3)"/>
<ellipse cx="419.0" cy="243.4" rx="1.2" ry="0.7" fill="#a65c3c" transform="rotate(-38 419.0 243.4)"/>
<ellipse cx="422.1" cy="243.1" rx="1.5" ry="0.8" fill="#9a5238" transform="rotate(8 422.1 243.1)"/>
<ellipse cx="425.9" cy="243.1" rx="1.6" ry="1.0" fill="#c88462" transform="rotate(-17 425.9 243.1)"/>
<ellipse cx="428.7" cy="243.8" rx="1.1" ry="0.8" fill="#9a5238" transform="rotate(0 428.7 243.8)"/>
<ellipse cx="342.0" cy="245.8" rx="1.4" ry="0.8" fill="#a65c3c" transform="rotate(-35 342.0 245.8)"/>
<ellipse cx="345.2" cy="246.3" rx="1.0" ry="0.9" fill="#9a5238" transform="rotate(-29 345.2 246.3)"/>
<ellipse cx="348.2" cy="245.9" rx="1.3" ry="0.9" fill="#a65c3c" transform="rotate(4 348.2 245.9)"/>
<ellipse cx="351.3" cy="246.2" rx="1.4" ry="0.8" fill="#bf7656" transform="rotate(-36 351.3 246.2)"/>
<ellipse cx="354.9" cy="245.8" rx="1.1" ry="1.1" fill="#9a5238" transform="rotate(1 354.9 245.8)"/>
<ellipse cx="357.7" cy="246.4" rx="1.3" ry="1.0" fill="#9a5238" transform="rotate(-8 357.7 246.4)"/>
<ellipse cx="361.0" cy="245.9" rx="1.5" ry="0.8" fill="#b4684a" transform="rotate(-31 361.0 245.9)"/>
<ellipse cx="364.6" cy="245.8" rx="1.4" ry="1.0" fill="#b4684a" transform="rotate(-30 364.6 245.8)"/>
<ellipse cx="368.0" cy="245.9" rx="1.3" ry="0.8" fill="#9a5238" transform="rotate(6 368.0 245.9)"/>
<ellipse cx="371.1" cy="246.3" rx="1.0" ry="0.9" fill="#c88462" transform="rotate(-43 371.1 246.3)"/>
<ellipse cx="374.4" cy="246.4" rx="1.1" ry="0.8" fill="#a65c3c" transform="rotate(-19 374.4 246.4)"/>
<ellipse cx="377.8" cy="246.3" rx="1.2" ry="0.8" fill="#a65c3c" transform="rotate(7 377.8 246.3)"/>
<ellipse cx="380.7" cy="246.1" rx="1.1" ry="0.9" fill="#b4684a" transform="rotate(-4 380.7 246.1)"/>
<ellipse cx="384.6" cy="246.3" rx="1.3" ry="0.8" fill="#c88462" transform="rotate(-23 384.6 246.3)"/>
<ellipse cx="388.0" cy="245.6" rx="1.1" ry="0.9" fill="#c88462" transform="rotate(-15 388.0 245.6)"/>
<ellipse cx="390.9" cy="246.1" rx="1.2" ry="1.1" fill="#9a5238" transform="rotate(-49 390.9 246.1)"/>
<ellipse cx="394.1" cy="245.7" rx="1.1" ry="0.8" fill="#a65c3c" transform="rotate(-24 394.1 245.7)"/>
<ellipse cx="397.2" cy="245.9" rx="1.4" ry="0.9" fill="#bf7656" transform="rotate(-35 397.2 245.9)"/>
<ellipse cx="400.6" cy="246.2" rx="1.4" ry="0.9" fill="#a65c3c" transform="rotate(-37 400.6 246.2)"/>
<ellipse cx="404.4" cy="246.0" rx="1.5" ry="0.9" fill="#c88462" transform="rotate(-20 404.4 246.0)"/>
<ellipse cx="407.7" cy="246.1" rx="1.5" ry="1.0" fill="#bf7656" transform="rotate(-21 407.7 246.1)"/>
<ellipse cx="411.1" cy="245.7" rx="1.2" ry="0.7" fill="#a65c3c" transform="rotate(-34 411.1 245.7)"/>
<ellipse cx="414.1" cy="246.0" rx="1.2" ry="0.7" fill="#c88462" transform="rotate(-15 414.1 246.0)"/>
<ellipse cx="417.3" cy="246.2" rx="1.3" ry="0.8" fill="#9a5238" transform="rotate(-22 417.3 246.2)"/>
<ellipse cx="420.8" cy="246.0" rx="1.2" ry="0.8" fill="#9a5238" transform="rotate(8 420.8 246.0)"/>
<ellipse cx="423.8" cy="246.4" rx="1.2" ry="1.1" fill="#bf7656" transform="rotate(-37 423.8 246.4)"/>
<ellipse cx="427.5" cy="245.7" rx="1.0" ry="0.9" fill="#c88462" transform="rotate(-23 427.5 245.7)"/>
<ellipse cx="339.8" cy="248.7" rx="1.4" ry="1.0" fill="#bf7656" transform="rotate(-33 339.8 248.7)"/>
<ellipse cx="343.2" cy="248.8" rx="1.4" ry="1.0" fill="#bf7656" transform="rotate(-18 343.2 248.8)"/>
<ellipse cx="346.2" cy="248.7" rx="1.1" ry="0.8" fill="#a65c3c" transform="rotate(-38 346.2 248.7)"/>
<ellipse cx="350.4" cy="248.6" rx="1.5" ry="0.8" fill="#9a5238" transform="rotate(-5 350.4 248.6)"/>
<ellipse cx="352.9" cy="248.6" rx="1.4" ry="0.7" fill="#c88462" transform="rotate(-9 352.9 248.6)"/>
<ellipse cx="356.3" cy="249.0" rx="1.6" ry="0.8" fill="#a65c3c" transform="rotate(-28 356.3 249.0)"/>
<ellipse cx="360.1" cy="248.3" rx="1.1" ry="0.9" fill="#c88462" transform="rotate(-38 360.1 248.3)"/>
<ellipse cx="363.2" cy="248.7" rx="1.4" ry="1.0" fill="#bf7656" transform="rotate(-31 363.2 248.7)"/>
<ellipse cx="366.8" cy="248.7" rx="1.2" ry="0.8" fill="#9a5238" transform="rotate(-7 366.8 248.7)"/>
<ellipse cx="369.8" cy="248.7" rx="1.4" ry="0.8" fill="#9a5238" transform="rotate(-42 369.8 248.7)"/>
<ellipse cx="372.8" cy="248.9" rx="1.5" ry="1.0" fill="#bf7656" transform="rotate(-12 372.8 248.9)"/>
<ellipse cx="376.2" cy="248.9" rx="1.3" ry="0.7" fill="#a65c3c" transform="rotate(-23 376.2 248.9)"/>
<ellipse cx="379.8" cy="248.6" rx="1.5" ry="0.9" fill="#9a5238" transform="rotate(-32 379.8 248.6)"/>
<ellipse cx="383.3" cy="248.5" rx="1.4" ry="0.8" fill="#a65c3c" transform="rotate(-47 383.3 248.5)"/>
<ellipse cx="385.8" cy="248.9" rx="1.2" ry="0.9" fill="#c88462" transform="rotate(8 385.8 248.9)"/>
<ellipse cx="389.7" cy="248.5" rx="1.5" ry="0.7" fill="#b4684a" transform="rotate(-31 389.7 248.5)"/>
<ellipse cx="392.9" cy="248.6" rx="1.6" ry="0.9" fill="#b4684a" transform="rotate(-12 392.9 248.6)"/>
<ellipse cx="396.4" cy="248.5" rx="1.2" ry="1.0" fill="#bf7656" transform="rotate(10 396.4 248.5)"/>
<ellipse cx="399.6" cy="248.9" rx="1.3" ry="1.0" fill="#b4684a" transform="rotate(-42 399.6 248.9)"/>
<ellipse cx="403.2" cy="248.3" rx="1.4" ry="1.0" fill="#bf7656" transform="rotate(-31 403.2 248.3)"/>
<ellipse cx="406.2" cy="248.3" rx="1.5" ry="1.1" fill="#bf7656" transform="rotate(-9 406.2 248.3)"/>
<ellipse cx="409.2" cy="248.6" rx="1.1" ry="0.9" fill="#9a5238" transform="rotate(-46 409.2 248.6)"/>
<ellipse cx="413.1" cy="248.8" rx="1.5" ry="1.0" fill="#b4684a" transform="rotate(3 413.1 248.8)"/>
<ellipse cx="415.8" cy="249.0" rx="1.5" ry="1.1" fill="#a65c3c" transform="rotate(-5 415.8 249.0)"/>
<ellipse cx="419.2" cy="248.6" rx="1.4" ry="0.8" fill="#c88462" transform="rotate(-31 419.2 248.6)"/>
<ellipse cx="422.1" cy="248.7" rx="1.4" ry="0.8" fill="#b4684a" transform="rotate(-7 422.1 248.7)"/>
<ellipse cx="425.4" cy="248.5" rx="1.3" ry="0.9" fill="#a65c3c" transform="rotate(-20 425.4 248.5)"/>
<ellipse cx="428.9" cy="248.3" rx="1.6" ry="1.0" fill="#a65c3c" transform="rotate(2 428.9 248.3)"/>
<ellipse cx="342.1" cy="251.0" rx="1.2" ry="1.0" fill="#9a5238" transform="rotate(-25 342.1 251.0)"/>
<ellipse cx="345.0" cy="250.9" rx="1.2" ry="0.9" fill="#c88462" transform="rotate(-21 345.0 250.9)"/>
<ellipse cx="347.8" cy="251.2" rx="1.5" ry="0.8" fill="#c88462" transform="rotate(-45 347.8 251.2)"/>
<ellipse cx="351.8" cy="251.3" rx="1.5" ry="0.8" fill="#b4684a" transform="rotate(-17 351.8 251.3)"/>
<ellipse cx="354.5" cy="251.6" rx="1.5" ry="0.9" fill="#c88462" transform="rotate(-18 354.5 251.6)"/>
<ellipse cx="358.0" cy="251.3" rx="1.6" ry="0.7" fill="#b4684a" transform="rotate(-15 358.0 251.3)"/>
<ellipse cx="361.5" cy="251.5" rx="1.4" ry="0.8" fill="#b4684a" transform="rotate(-4 361.5 251.5)"/>
<ellipse cx="364.9" cy="251.5" rx="1.5" ry="0.9" fill="#bf7656" transform="rotate(-26 364.9 251.5)"/>
<ellipse cx="367.7" cy="251.0" rx="1.3" ry="1.0" fill="#9a5238" transform="rotate(-4 367.7 251.0)"/>
<ellipse cx="371.2" cy="251.5" rx="1.5" ry="0.8" fill="#a65c3c" transform="rotate(-37 371.2 251.5)"/>
<ellipse cx="374.6" cy="251.2" rx="1.2" ry="0.8" fill="#9a5238" transform="rotate(-28 374.6 251.2)"/>
<ellipse cx="377.8" cy="251.6" rx="1.4" ry="1.1" fill="#c88462" transform="rotate(-25 377.8 251.6)"/>
<ellipse cx="381.7" cy="251.1" rx="1.2" ry="1.0" fill="#bf7656" transform="rotate(-19 381.7 251.1)"/>
<ellipse cx="384.7" cy="251.5" rx="1.0" ry="0.9" fill="#c88462" transform="rotate(7 384.7 251.5)"/>
<ellipse cx="387.4" cy="250.9" rx="1.5" ry="0.9" fill="#9a5238" transform="rotate(-1 387.4 250.9)"/>
<ellipse cx="391.2" cy="251.4" rx="1.3" ry="0.7" fill="#bf7656" transform="rotate(1 391.2 251.4)"/>
<ellipse cx="394.7" cy="251.2" rx="1.4" ry="1.1" fill="#c88462" transform="rotate(3 394.7 251.2)"/>
<ellipse cx="397.8" cy="251.4" rx="1.3" ry="1.0" fill="#a65c3c" transform="rotate(-50 397.8 251.4)"/>
<ellipse cx="401.4" cy="251.0" rx="1.6" ry="0.8" fill="#bf7656" transform="rotate(-6 401.4 251.0)"/>
<ellipse cx="404.4" cy="251.1" rx="1.2" ry="0.8" fill="#b4684a" transform="rotate(7 404.4 251.1)"/>
<ellipse cx="407.3" cy="250.8" rx="1.2" ry="1.0" fill="#a65c3c" transform="rotate(-12 407.3 250.8)"/>
<ellipse cx="410.6" cy="251.4" rx="1.2" ry="1.0" fill="#bf7656" transform="rotate(1 410.6 251.4)"/>
<ellipse cx="413.7" cy="251.0" rx="1.4" ry="0.8" fill="#c88462" transform="rotate(2 413.7 251.0)"/>
<ellipse cx="417.0" cy="251.1" rx="1.3" ry="1.1" fill="#a65c3c" transform="rotate(-32 417.0 251.1)"/>
<ellipse cx="420.9" cy="251.4" rx="1.1" ry="1.1" fill="#a65c3c" transform="rotate(0 420.9 251.4)"/>
<ellipse cx="424.5" cy="251.0" rx="1.5" ry="1.0" fill="#a65c3c" transform="rotate(-40 424.5 251.0)"/>
<ellipse cx="427.1" cy="251.3" rx="1.2" ry="1.1" fill="#a65c3c" transform="rotate(-49 427.1 251.3)"/>
<ellipse cx="339.9" cy="253.4" rx="1.3" ry="0.8" fill="#9a5238" transform="rotate(-8 339.9 253.4)"/>
<ellipse cx="343.6" cy="253.8" rx="1.2" ry="1.0" fill="#9a5238" transform="rotate(1 343.6 253.8)"/>
<ellipse cx="346.6" cy="253.9" rx="1.6" ry="1.0" fill="#a65c3c" transform="rotate(-25 346.6 253.9)"/>
<ellipse cx="349.9" cy="254.2" rx="1.5" ry="0.8" fill="#b4684a" transform="rotate(-49 349.9 254.2)"/>
<ellipse cx="353.0" cy="254.0" rx="1.1" ry="1.1" fill="#9a5238" transform="rotate(-6 353.0 254.0)"/>
<ellipse cx="356.1" cy="253.8" rx="1.6" ry="0.9" fill="#c88462" transform="rotate(-33 356.1 253.8)"/>
<ellipse cx="359.4" cy="253.9" rx="1.1" ry="1.0" fill="#c88462" transform="rotate(-39 359.4 253.9)"/>
<ellipse cx="363.4" cy="253.4" rx="1.2" ry="1.1" fill="#c88462" transform="rotate(-38 363.4 253.4)"/>
<ellipse cx="366.3" cy="253.4" rx="1.4" ry="0.8" fill="#a65c3c" transform="rotate(-22 366.3 253.4)"/>
<ellipse cx="370.2" cy="253.6" rx="1.2" ry="0.9" fill="#c88462" transform="rotate(-37 370.2 253.6)"/>
<ellipse cx="373.2" cy="253.5" rx="1.1" ry="1.0" fill="#c88462" transform="rotate(-46 373.2 253.5)"/>
<ellipse cx="376.0" cy="254.1" rx="1.4" ry="1.1" fill="#b4684a" transform="rotate(6 376.0 254.1)"/>
<ellipse cx="379.3" cy="253.9" rx="1.1" ry="1.0" fill="#b4684a" transform="rotate(-31 379.3 253.9)"/>
<ellipse cx="382.5" cy="253.6" rx="1.6" ry="0.9" fill="#a65c3c" transform="rotate(-48 382.5 253.6)"/>
<ellipse cx="385.9" cy="254.0" rx="1.6" ry="0.9" fill="#c88462" transform="rotate(-22 385.9 254.0)"/>
<ellipse cx="389.3" cy="254.1" rx="1.4" ry="0.9" fill="#a65c3c" transform="rotate(-15 389.3 254.1)"/>
<ellipse cx="393.0" cy="253.4" rx="1.4" ry="0.9" fill="#a65c3c" transform="rotate(-39 393.0 253.4)"/>
<ellipse cx="395.8" cy="253.5" rx="1.2" ry="0.7" fill="#a65c3c" transform="rotate(-39 395.8 253.5)"/>
<ellipse cx="399.4" cy="253.9" rx="1.2" ry="1.0" fill="#a65c3c" transform="rotate(-33 399.4 253.9)"/>
<ellipse cx="402.4" cy="254.2" rx="1.3" ry="1.0" fill="#9a5238" transform="rotate(-14 402.4 254.2)"/>
<ellipse cx="406.1" cy="253.4" rx="1.1" ry="1.0" fill="#bf7656" transform="rotate(-21 406.1 253.4)"/>
<ellipse cx="409.6" cy="253.5" rx="1.5" ry="0.8" fill="#b4684a" transform="rotate(-12 409.6 253.5)"/>
<ellipse cx="412.5" cy="253.7" rx="1.4" ry="0.9" fill="#c88462" transform="rotate(-22 412.5 253.7)"/>
<ellipse cx="415.7" cy="253.5" rx="1.5" ry="0.8" fill="#bf7656" transform="rotate(9 415.7 253.5)"/>
<ellipse cx="419.2" cy="253.4" rx="1.5" ry="0.8" fill="#9a5238" transform="rotate(-29 419.2 253.4)"/>
<ellipse cx="422.3" cy="253.6" rx="1.2" ry="0.8" fill="#c88462" transform="rotate(2 422.3 253.6)"/>
<ellipse cx="425.7" cy="254.0" rx="1.6" ry="1.1" fill="#bf7656" transform="rotate(-16 425.7 254.0)"/>
<ellipse cx="429.3" cy="254.0" rx="1.4" ry="0.9" fill="#b4684a" transform="rotate(-28 429.3 254.0)"/>
<ellipse cx="341.9" cy="256.5" rx="1.2" ry="1.0" fill="#a65c3c" transform="rotate(-34 341.9 256.5)"/>
<ellipse cx="345.2" cy="256.7" rx="1.6" ry="0.7" fill="#b4684a" transform="rotate(-41 345.2 256.7)"/>
<ellipse cx="348.3" cy="256.3" rx="1.5" ry="1.0" fill="#9a5238" transform="rotate(-31 348.3 256.3)"/>
<ellipse cx="351.8" cy="256.5" rx="1.5" ry="1.1" fill="#b4684a" transform="rotate(-48 351.8 256.5)"/>
<ellipse cx="355.1" cy="256.7" rx="1.4" ry="0.8" fill="#b4684a" transform="rotate(-3 355.1 256.7)"/>
<ellipse cx="358.0" cy="256.3" rx="1.2" ry="1.0" fill="#b4684a" transform="rotate(-34 358.0 256.3)"/>
<ellipse cx="361.0" cy="256.8" rx="1.2" ry="0.9" fill="#9a5238" transform="rotate(7 361.0 256.8)"/>
<ellipse cx="364.9" cy="256.3" rx="1.4" ry="0.9" fill="#9a5238" transform="rotate(-29 364.9 256.3)"/>
<ellipse cx="368.4" cy="256.0" rx="1.3" ry="1.0" fill="#9a5238" transform="rotate(-26 368.4 256.0)"/>
<ellipse cx="371.3" cy="256.1" rx="1.4" ry="0.9" fill="#c88462" transform="rotate(-47 371.3 256.1)"/>
<ellipse cx="375.1" cy="256.1" rx="1.5" ry="1.1" fill="#9a5238" transform="rotate(-36 375.1 256.1)"/>
<ellipse cx="377.5" cy="256.6" rx="1.2" ry="0.8" fill="#c88462" transform="rotate(-32 377.5 256.6)"/>
<ellipse cx="381.5" cy="256.3" rx="1.5" ry="0.8" fill="#9a5238" transform="rotate(-40 381.5 256.3)"/>
<ellipse cx="384.4" cy="256.6" rx="1.2" ry="0.9" fill="#c88462" transform="rotate(-33 384.4 256.6)"/>
<ellipse cx="388.1" cy="256.4" rx="1.3" ry="0.9" fill="#bf7656" transform="rotate(-32 388.1 256.4)"/>
<ellipse cx="391.3" cy="256.1" rx="1.1" ry="0.7" fill="#bf7656" transform="rotate(4 391.3 256.1)"/>
<ellipse cx="394.1" cy="256.4" rx="1.5" ry="0.9" fill="#9a5238" transform="rotate(-43 394.1 256.4)"/>
<ellipse cx="397.4" cy="256.4" rx="1.1" ry="0.9" fill="#a65c3c" transform="rotate(-9 397.4 256.4)"/>
<ellipse cx="400.9" cy="256.6" rx="1.2" ry="0.8" fill="#c88462" transform="rotate(-38 400.9 256.6)"/>
<ellipse cx="403.8" cy="256.5" rx="1.2" ry="0.9" fill="#a65c3c" transform="rotate(-19 403.8 256.5)"/>
<ellipse cx="407.6" cy="256.6" rx="1.5" ry="0.9" fill="#b4684a" transform="rotate(-45 407.6 256.6)"/>
<ellipse cx="411.3" cy="256.3" rx="1.0" ry="1.0" fill="#9a5238" transform="rotate(-34 411.3 256.3)"/>
<ellipse cx="414.4" cy="256.1" rx="1.2" ry="0.7" fill="#b4684a" transform="rotate(-35 414.4 256.1)"/>
<ellipse cx="417.5" cy="256.3" rx="1.3" ry="1.1" fill="#b4684a" transform="rotate(-28 417.5 256.3)"/>
<ellipse cx="420.9" cy="256.5" rx="1.1" ry="0.9" fill="#a65c3c" transform="rotate(-21 420.9 256.5)"/>
<ellipse cx="424.2" cy="256.2" rx="1.2" ry="1.0" fill="#b4684a" transform="rotate(-15 424.2 256.2)"/>
<ellipse cx="427.0" cy="256.1" rx="1.0" ry="0.8" fill="#a65c3c" transform="rotate(-39 427.0 256.1)"/>
<ellipse cx="339.6" cy="259.3" rx="1.5" ry="0.9" fill="#c88462" transform="rotate(-18 339.6 259.3)"/>
<ellipse cx="343.0" cy="259.1" rx="1.1" ry="1.0" fill="#a65c3c" transform="rotate(2 343.0 259.1)"/>
<ellipse cx="346.2" cy="259.1" rx="1.1" ry="1.1" fill="#bf7656" transform="rotate(-41 346.2 259.1)"/>
<ellipse cx="350.1" cy="259.2" rx="1.1" ry="0.7" fill="#9a5238" transform="rotate(-23 350.1 259.2)"/>
<ellipse cx="352.7" cy="259.1" rx="1.0" ry="1.0" fill="#b4684a" transform="rotate(-27 352.7 259.1)"/>
<ellipse cx="356.0" cy="258.8" rx="1.5" ry="0.9" fill="#a65c3c" transform="rotate(5 356.0 258.8)"/>
<ellipse cx="359.8" cy="259.2" rx="1.5" ry="0.9" fill="#b4684a" transform="rotate(-8 359.8 259.2)"/>
<ellipse cx="363.3" cy="259.1" rx="1.5" ry="1.0" fill="#a65c3c" transform="rotate(-20 363.3 259.1)"/>
<ellipse cx="366.4" cy="258.6" rx="1.4" ry="0.8" fill="#9a5238" transform="rotate(0 366.4 258.6)"/>
<ellipse cx="369.7" cy="259.1" rx="1.5" ry="1.0" fill="#c88462" transform="rotate(6 369.7 259.1)"/>
<ellipse cx="373.3" cy="259.0" rx="1.0" ry="0.9" fill="#c88462" transform="rotate(-22 373.3 259.0)"/>
<ellipse cx="376.3" cy="259.1" rx="1.6" ry="1.0" fill="#9a5238" transform="rotate(-46 376.3 259.1)"/>
<ellipse cx="379.8" cy="258.9" rx="1.1" ry="0.8" fill="#bf7656" transform="rotate(10 379.8 258.9)"/>
<ellipse cx="383.1" cy="258.8" rx="1.2" ry="0.9" fill="#bf7656" transform="rotate(-23 383.1 258.8)"/>
<ellipse cx="385.7" cy="258.7" rx="1.2" ry="1.0" fill="#bf7656" transform="rotate(-41 385.7 258.7)"/>
<ellipse cx="389.0" cy="258.8" rx="1.1" ry="1.0" fill="#b4684a" transform="rotate(0 389.0 258.8)"/>
<ellipse cx="393.3" cy="258.8" rx="1.1" ry="0.7" fill="#bf7656" transform="rotate(-7 393.3 258.8)"/>
<ellipse cx="396.1" cy="259.2" rx="1.4" ry="0.9" fill="#a65c3c" transform="rotate(6 396.1 259.2)"/>
<ellipse cx="399.8" cy="258.8" rx="1.1" ry="0.8" fill="#c88462" transform="rotate(4 399.8 258.8)"/>
<ellipse cx="402.9" cy="258.9" rx="1.2" ry="0.7" fill="#c88462" transform="rotate(-5 402.9 258.9)"/>
<ellipse cx="406.2" cy="258.7" rx="1.1" ry="1.0" fill="#9a5238" transform="rotate(-42 406.2 258.7)"/>
<ellipse cx="409.1" cy="259.0" rx="1.3" ry="1.1" fill="#bf7656" transform="rotate(-10 409.1 259.0)"/>
<ellipse cx="412.5" cy="259.1" rx="1.6" ry="1.0" fill="#b4684a" transform="rotate(-46 412.5 259.1)"/>
<ellipse cx="415.5" cy="258.8" rx="1.1" ry="1.1" fill="#c88462" transform="rotate(-22 415.5 258.8)"/>
<ellipse cx="419.2" cy="258.9" rx="1.3" ry="0.9" fill="#b4684a" transform="rotate(-24 419.2 258.9)"/>
<ellipse cx="422.0" cy="258.7" rx="1.2" ry="0.8" fill="#b4684a" transform="rotate(-45 422.0 258.7)"/>
<ellipse cx="425.7" cy="259.3" rx="1.2" ry="0.9" fill="#b4684a" transform="rotate(-16 425.7 259.3)"/>
<ellipse cx="429.4" cy="258.9" rx="1.2" ry="1.0" fill="#a65c3c" transform="rotate(-5 429.4 258.9)"/>
<ellipse cx="341.1" cy="261.5" rx="1.3" ry="0.7" fill="#bf7656" transform="rotate(-41 341.1 261.5)"/>
<ellipse cx="345.2" cy="261.9" rx="1.6" ry="1.0" fill="#a65c3c" transform="rotate(-21 345.2 261.9)"/>
<ellipse cx="348.1" cy="261.6" rx="1.0" ry="1.0" fill="#9a5238" transform="rotate(6 348.1 261.6)"/>
<ellipse cx="351.8" cy="261.7" rx="1.2" ry="0.8" fill="#bf7656" transform="rotate(-38 351.8 261.7)"/>
<ellipse cx="354.7" cy="261.3" rx="1.2" ry="0.9" fill="#a65c3c" transform="rotate(0 354.7 261.3)"/>
<ellipse cx="357.9" cy="261.4" rx="1.5" ry="0.8" fill="#bf7656" transform="rotate(-34 357.9 261.4)"/>
<ellipse cx="361.7" cy="261.7" rx="1.3" ry="0.8" fill="#c88462" transform="rotate(-32 361.7 261.7)"/>
<ellipse cx="365.1" cy="261.6" rx="1.2" ry="0.8" fill="#a65c3c" transform="rotate(-32 365.1 261.6)"/>
<ellipse cx="368.4" cy="261.8" rx="1.1" ry="1.0" fill="#b4684a" transform="rotate(-49 368.4 261.8)"/>
<ellipse cx="371.5" cy="261.5" rx="1.4" ry="0.9" fill="#a65c3c" transform="rotate(-29 371.5 261.5)"/>
<ellipse cx="374.7" cy="261.7" rx="1.0" ry="0.7" fill="#9a5238" transform="rotate(-5 374.7 261.7)"/>
<ellipse cx="378.1" cy="262.0" rx="1.3" ry="1.0" fill="#9a5238" transform="rotate(-20 378.1 262.0)"/>
<ellipse cx="381.1" cy="261.9" rx="1.3" ry="0.9" fill="#b4684a" transform="rotate(-41 381.1 261.9)"/>
<ellipse cx="384.4" cy="261.7" rx="1.1" ry="1.0" fill="#9a5238" transform="rotate(2 384.4 261.7)"/>
<ellipse cx="387.8" cy="261.6" rx="1.1" ry="1.0" fill="#c88462" transform="rotate(-15 387.8 261.6)"/>
<ellipse cx="391.0" cy="261.5" rx="1.3" ry="0.8" fill="#9a5238" transform="rotate(-12 391.0 261.5)"/>
<ellipse cx="394.8" cy="261.5" rx="1.1" ry="1.0" fill="#a65c3c" transform="rotate(-6 394.8 261.5)"/>
<ellipse cx="397.6" cy="261.6" rx="1.5" ry="0.8" fill="#a65c3c" transform="rotate(-35 397.6 261.6)"/>
<ellipse cx="401.5" cy="261.2" rx="1.3" ry="0.9" fill="#9a5238" transform="rotate(-12 401.5 261.2)"/>
<ellipse cx="404.0" cy="261.4" rx="1.2" ry="0.8" fill="#b4684a" transform="rotate(-18 404.0 261.4)"/>
<ellipse cx="407.9" cy="261.7" rx="1.5" ry="0.7" fill="#b4684a" transform="rotate(-23 407.9 261.7)"/>
<ellipse cx="411.4" cy="261.4" rx="1.4" ry="1.1" fill="#bf7656" transform="rotate(-31 411.4 261.4)"/>
<ellipse cx="414.6" cy="261.5" rx="1.3" ry="1.1" fill="#c88462" transform="rotate(-40 414.6 261.5)"/>
<ellipse cx="417.1" cy="261.3" rx="1.3" ry="0.8" fill="#a65c3c" transform="rotate(-38 417.1 261.3)"/>
<ellipse cx="421.1" cy="261.5" rx="1.5" ry="0.8" fill="#b4684a" transform="rotate(-3 421.1 261.5)"/>
<ellipse cx="424.0" cy="261.9" rx="1.5" ry="0.9" fill="#9a5238" transform="rotate(-38 424.0 261.9)"/>
<ellipse cx="427.4" cy="261.4" rx="1.2" ry="0.7" fill="#a65c3c" transform="rotate(-4 427.4 261.4)"/>
<ellipse cx="340.4" cy="264.4" rx="1.1" ry="0.9" fill="#a65c3c" transform="rotate(-18 340.4 264.4)"/>
<ellipse cx="343.6" cy="264.3" rx="1.4" ry="0.9" fill="#bf7656" transform="rotate(3 343.6 264.3)"/>
<ellipse cx="346.9" cy="264.1" rx="1.0" ry="0.7" fill="#9a5238" transform="rotate(-35 346.9 264.1)"/>
<ellipse cx="349.5" cy="264.3" rx="1.1" ry="0.9" fill="#b4684a" transform="rotate(-36 349.5 264.3)"/>
<ellipse cx="353.1" cy="263.8" rx="1.0" ry="0.7" fill="#b4684a" transform="rotate(-48 353.1 263.8)"/>
<ellipse cx="356.1" cy="264.2" rx="1.4" ry="1.0" fill="#9a5238" transform="rotate(-43 356.1 264.2)"/>
<ellipse cx="359.7" cy="264.2" rx="1.2" ry="0.9" fill="#a65c3c" transform="rotate(-12 359.7 264.2)"/>
<ellipse cx="363.1" cy="264.4" rx="1.5" ry="0.8" fill="#a65c3c" transform="rotate(-30 363.1 264.4)"/>
<ellipse cx="366.7" cy="264.3" rx="1.1" ry="0.8" fill="#b4684a" transform="rotate(8 366.7 264.3)"/>
<ellipse cx="370.0" cy="264.0" rx="1.4" ry="0.8" fill="#9a5238" transform="rotate(-30 370.0 264.0)"/>
<ellipse cx="373.0" cy="264.4" rx="1.4" ry="1.1" fill="#b4684a" transform="rotate(-24 373.0 264.4)"/>
<ellipse cx="376.5" cy="263.9" rx="1.6" ry="0.8" fill="#a65c3c" transform="rotate(-5 376.5 263.9)"/>
<ellipse cx="379.9" cy="264.0" rx="1.1" ry="1.0" fill="#9a5238" transform="rotate(-6 379.9 264.0)"/>
<ellipse cx="383.1" cy="264.3" rx="1.4" ry="0.8" fill="#a65c3c" transform="rotate(-26 383.1 264.3)"/>
<ellipse cx="386.1" cy="264.5" rx="1.4" ry="1.1" fill="#9a5238" transform="rotate(-46 386.1 264.5)"/>
<ellipse cx="389.5" cy="264.5" rx="1.4" ry="1.0" fill="#b4684a" transform="rotate(-23 389.5 264.5)"/>
<ellipse cx="393.1" cy="264.6" rx="1.4" ry="0.7" fill="#a65c3c" transform="rotate(6 393.1 264.6)"/>
<ellipse cx="395.9" cy="264.1" rx="1.5" ry="1.1" fill="#b4684a" transform="rotate(2 395.9 264.1)"/>
<ellipse cx="399.5" cy="263.9" rx="1.5" ry="0.8" fill="#c88462" transform="rotate(-8 399.5 263.9)"/>
<ellipse cx="403.0" cy="264.5" rx="1.5" ry="0.9" fill="#a65c3c" transform="rotate(1 403.0 264.5)"/>
<ellipse cx="406.5" cy="264.0" rx="1.5" ry="0.9" fill="#bf7656" transform="rotate(-19 406.5 264.0)"/>
<ellipse cx="409.3" cy="264.2" rx="1.5" ry="0.9" fill="#b4684a" transform="rotate(-49 409.3 264.2)"/>
<ellipse cx="412.6" cy="263.9" rx="1.5" ry="0.8" fill="#9a5238" transform="rotate(4 412.6 263.9)"/>
<ellipse cx="416.0" cy="264.1" rx="1.5" ry="1.0" fill="#9a5238" transform="rotate(-15 416.0 264.1)"/>
<ellipse cx="419.1" cy="264.4" rx="1.3" ry="1.0" fill="#9a5238" transform="rotate(-8 419.1 264.4)"/>
<ellipse cx="422.6" cy="264.3" rx="1.5" ry="0.8" fill="#b4684a" transform="rotate(-7 422.6 264.3)"/>
<ellipse cx="425.6" cy="264.0" rx="1.6" ry="0.7" fill="#9a5238" transform="rotate(-18 425.6 264.0)"/>
<ellipse cx="429.1" cy="264.4" rx="1.4" ry="0.7" fill="#bf7656" transform="rotate(-4 429.1 264.4)"/>
<ellipse cx="341.1" cy="266.7" rx="1.3" ry="0.7" fill="#a65c3c" transform="rotate(-30 341.1 266.7)"/>
<ellipse cx="344.6" cy="267.1" rx="1.2" ry="0.9" fill="#c88462" transform="rotate(-44 344.6 267.1)"/>
<ellipse cx="348.6" cy="266.4" rx="1.1" ry="0.9" fill="#9a5238" transform="rotate(-42 348.6 266.4)"/>
<ellipse cx="351.7" cy="266.6" rx="1.1" ry="0.8" fill="#b4684a" transform="rotate(-47 351.7 266.6)"/>
<ellipse cx="354.3" cy="266.6" rx="1.5" ry="0.8" fill="#bf7656" transform="rotate(-36 354.3 266.6)"/>
<ellipse cx="357.9" cy="267.1" rx="1.5" ry="1.1" fill="#a65c3c" transform="rotate(-28 357.9 267.1)"/>
<ellipse cx="361.2" cy="266.4" rx="1.2" ry="1.0" fill="#bf7656" transform="rotate(-5 361.2 266.4)"/>
<ellipse cx="364.7" cy="266.5" rx="1.2" ry="0.8" fill="#a65c3c" transform="rotate(6 364.7 266.5)"/>
<ellipse cx="368.3" cy="266.8" rx="1.5" ry="1.0" fill="#9a5238" transform="rotate(-49 368.3 266.8)"/>
<ellipse cx="371.2" cy="267.0" rx="1.2" ry="0.8" fill="#c88462" transform="rotate(-24 371.2 267.0)"/>
<ellipse cx="374.2" cy="266.6" rx="1.6" ry="0.8" fill="#a65c3c" transform="rotate(-2 374.2 266.6)"/>
<ellipse cx="377.7" cy="266.8" rx="1.2" ry="1.1" fill="#b4684a" transform="rotate(-31 377.7 266.8)"/>
<ellipse cx="380.9" cy="266.9" rx="1.2" ry="0.9" fill="#c88462" transform="rotate(-47 380.9 266.9)"/>
<ellipse cx="384.3" cy="267.1" rx="1.4" ry="1.1" fill="#9a5238" transform="rotate(-26 384.3 267.1)"/>
<ellipse cx="387.6" cy="266.7" rx="1.3" ry="0.9" fill="#bf7656" transform="rotate(-22 387.6 266.7)"/>
<ellipse cx="390.9" cy="266.6" rx="1.4" ry="1.1" fill="#b4684a" transform="rotate(-17 390.9 266.6)"/>
<ellipse cx="394.7" cy="266.9" rx="1.1" ry="0.8" fill="#b4684a" transform="rotate(-41 394.7 266.9)"/>
<ellipse cx="397.7" cy="267.1" rx="1.3" ry="1.0" fill="#c88462" transform="rotate(-50 397.7 267.1)"/>
<ellipse cx="401.0" cy="266.9" rx="1.1" ry="1.0" fill="#bf7656" transform="rotate(-33 401.0 266.9)"/>
<ellipse cx="404.7" cy="266.5" rx="1.1" ry="1.0" fill="#9a5238" transform="rotate(-34 404.7 266.5)"/>
<ellipse cx="407.8" cy="267.1" rx="1.2" ry="0.8" fill="#9a5238" transform="rotate(-1 407.8 267.1)"/>
<ellipse cx="410.9" cy="266.4" rx="1.2" ry="0.8" fill="#a65c3c" transform="rotate(-42 410.9 266.4)"/>
<ellipse cx="414.5" cy="267.0" rx="1.3" ry="0.7" fill="#bf7656" transform="rotate(-25 414.5 267.0)"/>
<ellipse cx="417.9" cy="266.9" rx="1.1" ry="1.0" fill="#c88462" transform="rotate(-16 417.9 266.9)"/>
<ellipse cx="420.7" cy="267.0" rx="1.2" ry="0.8" fill="#a65c3c" transform="rotate(-31 420.7 267.0)"/>
<ellipse cx="424.2" cy="266.6" rx="1.1" ry="0.7" fill="#9a5238" transform="rotate(5 424.2 266.6)"/>
<ellipse cx="427.8" cy="267.1" rx="1.5" ry="0.8" fill="#c88462" transform="rotate(-46 427.8 267.1)"/>
<ellipse cx="340.3" cy="269.7" rx="1.2" ry="0.9" fill="#9a5238" transform="rotate(-42 340.3 269.7)"/>
<ellipse cx="342.9" cy="269.0" rx="1.3" ry="0.8" fill="#9a5238" transform="rotate(-50 342.9 269.0)"/>
<ellipse cx="346.5" cy="269.2" rx="1.2" ry="0.9" fill="#b4684a" transform="rotate(-9 346.5 269.2)"/>
<ellipse cx="350.1" cy="269.3" rx="1.4" ry="0.8" fill="#bf7656" transform="rotate(-36 350.1 269.3)"/>
<ellipse cx="353.2" cy="269.2" rx="1.2" ry="0.9" fill="#bf7656" transform="rotate(-31 353.2 269.2)"/>
<ellipse cx="356.4" cy="269.1" rx="1.6" ry="0.8" fill="#bf7656" transform="rotate(4 356.4 269.1)"/>
<ellipse cx="359.6" cy="269.4" rx="1.5" ry="1.1" fill="#c88462" transform="rotate(-32 359.6 269.4)"/>
<ellipse cx="363.5" cy="269.3" rx="1.3" ry="0.8" fill="#9a5238" transform="rotate(-42 363.5 269.3)"/>
<ellipse cx="366.0" cy="269.5" rx="1.3" ry="0.8" fill="#bf7656" transform="rotate(-27 366.0 269.5)"/>
<ellipse cx="370.2" cy="269.6" rx="1.4" ry="0.9" fill="#a65c3c" transform="rotate(-32 370.2 269.6)"/>
<ellipse cx="373.1" cy="269.5" rx="1.0" ry="0.8" fill="#b4684a" transform="rotate(9 373.1 269.5)"/>
<ellipse cx="376.3" cy="269.0" rx="1.1" ry="1.0" fill="#a65c3c" transform="rotate(-12 376.3 269.0)"/>
<ellipse cx="379.6" cy="269.8" rx="1.0" ry="0.9" fill="#a65c3c" transform="rotate(-50 379.6 269.8)"/>
<ellipse cx="382.5" cy="269.6" rx="1.2" ry="0.8" fill="#bf7656" transform="rotate(-1 382.5 269.6)"/>
<ellipse cx="386.1" cy="269.3" rx="1.4" ry="1.0" fill="#b4684a" transform="rotate(-38 386.1 269.3)"/>
<ellipse cx="389.2" cy="269.4" rx="1.5" ry="1.0" fill="#bf7656" transform="rotate(-36 389.2 269.4)"/>
<ellipse cx="393.2" cy="269.1" rx="1.4" ry="1.0" fill="#a65c3c" transform="rotate(-25 393.2 269.1)"/>
<ellipse cx="395.8" cy="269.3" rx="1.1" ry="0.9" fill="#a65c3c" transform="rotate(-38 395.8 269.3)"/>
<ellipse cx="399.2" cy="269.0" rx="1.4" ry="0.8" fill="#b4684a" transform="rotate(-36 399.2 269.0)"/>
<ellipse cx="402.2" cy="269.1" rx="1.5" ry="0.9" fill="#9a5238" transform="rotate(6 402.2 269.1)"/>
<ellipse cx="405.9" cy="269.5" rx="1.5" ry="0.9" fill="#bf7656" transform="rotate(-31 405.9 269.5)"/>
<ellipse cx="409.2" cy="269.2" rx="1.5" ry="1.1" fill="#bf7656" transform="rotate(-14 409.2 269.2)"/>
<ellipse cx="412.2" cy="269.7" rx="1.3" ry="1.0" fill="#bf7656" transform="rotate(-3 412.2 269.7)"/>
<ellipse cx="415.5" cy="269.6" rx="1.1" ry="1.1" fill="#b4684a" transform="rotate(-20 415.5 269.6)"/>
<ellipse cx="419.0" cy="269.0" rx="1.1" ry="1.0" fill="#a65c3c" transform="rotate(-26 419.0 269.0)"/>
<ellipse cx="422.1" cy="269.0" rx="1.0" ry="0.9" fill="#b4684a" transform="rotate(-11 422.1 269.0)"/>
<ellipse cx="426.1" cy="269.5" rx="1.3" ry="1.1" fill="#9a5238" transform="rotate(-31 426.1 269.5)"/>
<ellipse cx="429.4" cy="269.6" rx="1.1" ry="1.0" fill="#a65c3c" transform="rotate(-20 429.4 269.6)"/>
<ellipse cx="341.8" cy="272.3" rx="1.4" ry="1.0" fill="#b4684a" transform="rotate(-24 341.8 272.3)"/>
<ellipse cx="345.2" cy="272.1" rx="1.0" ry="0.8" fill="#b4684a" transform="rotate(6 345.2 272.1)"/>
<ellipse cx="348.4" cy="272.3" rx="1.4" ry="1.1" fill="#9a5238" transform="rotate(-49 348.4 272.3)"/>
<ellipse cx="351.1" cy="272.2" rx="1.2" ry="0.9" fill="#b4684a" transform="rotate(5 351.1 272.2)"/>
<ellipse cx="354.6" cy="272.0" rx="1.3" ry="0.7" fill="#b4684a" transform="rotate(4 354.6 272.0)"/>
<ellipse cx="357.6" cy="271.9" rx="1.6" ry="0.8" fill="#bf7656" transform="rotate(-9 357.6 271.9)"/>
<ellipse cx="361.3" cy="271.8" rx="1.6" ry="1.1" fill="#bf7656" transform="rotate(3 361.3 271.8)"/>
<ellipse cx="365.0" cy="271.7" rx="1.4" ry="1.1" fill="#bf7656" transform="rotate(-41 365.0 271.7)"/>
<ellipse cx="368.3" cy="272.1" rx="1.2" ry="0.9" fill="#a65c3c" transform="rotate(10 368.3 272.1)"/>
<ellipse cx="371.7" cy="272.3" rx="1.4" ry="1.0" fill="#bf7656" transform="rotate(-21 371.7 272.3)"/>
<ellipse cx="374.3" cy="272.1" rx="1.6" ry="1.0" fill="#b4684a" transform="rotate(-40 374.3 272.1)"/>
<ellipse cx="377.7" cy="271.8" rx="1.4" ry="0.8" fill="#c88462" transform="rotate(-27 377.7 271.8)"/>
<ellipse cx="381.3" cy="271.9" rx="1.1" ry="0.8" fill="#b4684a" transform="rotate(-4 381.3 271.9)"/>
<ellipse cx="384.0" cy="271.6" rx="1.0" ry="0.8" fill="#b4684a" transform="rotate(-14 384.0 271.6)"/>
<ellipse cx="387.9" cy="271.9" rx="1.3" ry="0.7" fill="#9a5238" transform="rotate(-42 387.9 271.9)"/>
<ellipse cx="391.3" cy="272.3" rx="1.6" ry="0.9" fill="#9a5238" transform="rotate(-42 391.3 272.3)"/>
<ellipse cx="394.1" cy="272.1" rx="1.3" ry="0.8" fill="#c88462" transform="rotate(-32 394.1 272.1)"/>
<ellipse cx="397.9" cy="272.2" rx="1.1" ry="0.8" fill="#9a5238" transform="rotate(-32 397.9 272.2)"/>
<ellipse cx="400.5" cy="272.2" rx="1.5" ry="0.8" fill="#bf7656" transform="rotate(-23 400.5 272.2)"/>
<ellipse cx="403.8" cy="272.0" rx="1.3" ry="0.8" fill="#b4684a" transform="rotate(6 403.8 272.0)"/>
<ellipse cx="407.4" cy="272.2" rx="1.2" ry="1.1" fill="#c88462" transform="rotate(-34 407.4 272.2)"/>
<ellipse cx="411.0" cy="271.9" rx="1.4" ry="0.9" fill="#9a5238" transform="rotate(-45 411.0 271.9)"/>
<ellipse cx="413.8" cy="272.3" rx="1.4" ry="1.0" fill="#b4684a" transform="rotate(-27 413.8 272.3)"/>
<ellipse cx="417.8" cy="272.3" rx="1.0" ry="0.8" fill="#b4684a" transform="rotate(-44 417.8 272.3)"/>
<ellipse cx="420.6" cy="272.2" rx="1.2" ry="0.8" fill="#b4684a" transform="rotate(-14 420.6 272.2)"/>
<ellipse cx="424.3" cy="272.2" rx="1.3" ry="0.7" fill="#c88462" transform="rotate(-1 424.3 272.2)"/>
<ellipse cx="427.9" cy="272.0" rx="1.4" ry="0.9" fill="#a65c3c" transform="rotate(-23 427.9 272.0)"/>
<ellipse cx="340.5" cy="274.4" rx="1.1" ry="0.7" fill="#9a5238" transform="rotate(-5 340.5 274.4)"/>
<ellipse cx="343.5" cy="274.3" rx="1.3" ry="0.7" fill="#a65c3c" transform="rotate(1 343.5 274.3)"/>
<ellipse cx="347.0" cy="274.7" rx="1.0" ry="0.7" fill="#bf7656" transform="rotate(0 347.0 274.7)"/>
<ellipse cx="350.1" cy="274.2" rx="1.1" ry="1.0" fill="#b4684a" transform="rotate(8 350.1 274.2)"/>
<ellipse cx="353.2" cy="274.6" rx="1.3" ry="1.0" fill="#bf7656" transform="rotate(4 353.2 274.6)"/>
<ellipse cx="356.2" cy="274.7" rx="1.6" ry="0.9" fill="#9a5238" transform="rotate(8 356.2 274.7)"/>
<ellipse cx="359.6" cy="274.5" rx="1.2" ry="1.0" fill="#bf7656" transform="rotate(-26 359.6 274.5)"/>
<ellipse cx="363.3" cy="274.5" rx="1.2" ry="0.8" fill="#a65c3c" transform="rotate(6 363.3 274.5)"/>
<ellipse cx="366.0" cy="275.0" rx="1.3" ry="0.9" fill="#c88462" transform="rotate(-27 366.0 275.0)"/>
<ellipse cx="369.6" cy="274.9" rx="1.5" ry="1.0" fill="#bf7656" transform="rotate(-26 369.6 274.9)"/>
<ellipse cx="372.7" cy="274.5" rx="1.5" ry="1.1" fill="#bf7656" transform="rotate(-8 372.7 274.5)"/>
<ellipse cx="376.6" cy="274.5" rx="1.1" ry="0.7" fill="#bf7656" transform="rotate(-11 376.6 274.5)"/>
<ellipse cx="379.2" cy="274.5" rx="1.2" ry="0.7" fill="#bf7656" transform="rotate(-7 379.2 274.5)"/>
<ellipse cx="382.6" cy="274.6" rx="1.2" ry="1.1" fill="#b4684a" transform="rotate(-10 382.6 274.6)"/>
<ellipse cx="386.5" cy="274.5" rx="1.4" ry="0.9" fill="#c88462" transform="rotate(-36 386.5 274.5)"/>
<ellipse cx="389.3" cy="274.7" rx="1.2" ry="0.9" fill="#a65c3c" transform="rotate(-30 389.3 274.7)"/>
<ellipse cx="392.9" cy="274.3" rx="1.2" ry="0.7" fill="#bf7656" transform="rotate(-23 392.9 274.3)"/>
<ellipse cx="396.4" cy="274.8" rx="1.6" ry="0.9" fill="#a65c3c" transform="rotate(-5 396.4 274.8)"/>
<ellipse cx="399.4" cy="274.6" rx="1.5" ry="1.1" fill="#9a5238" transform="rotate(-8 399.4 274.6)"/>
<ellipse cx="402.3" cy="274.8" rx="1.4" ry="0.8" fill="#c88462" transform="rotate(-47 402.3 274.8)"/>
<ellipse cx="405.9" cy="274.7" rx="1.1" ry="0.8" fill="#a65c3c" transform="rotate(-23 405.9 274.7)"/>
<ellipse cx="409.5" cy="274.7" rx="1.1" ry="0.9" fill="#a65c3c" transform="rotate(-5 409.5 274.7)"/>
<ellipse cx="413.0" cy="274.2" rx="1.1" ry="0.8" fill="#a65c3c" transform="rotate(-6 413.0 274.2)"/>
<ellipse cx="416.0" cy="274.5" rx="1.4" ry="0.8" fill="#b4684a" transform="rotate(10 416.0 274.5)"/>
<ellipse cx="419.1" cy="274.5" rx="1.6" ry="1.0" fill="#bf7656" transform="rotate(4 419.1 274.5)"/>
<ellipse cx="422.5" cy="274.7" rx="1.0" ry="0.7" fill="#b4684a" transform="rotate(-25 422.5 274.7)"/>
<ellipse cx="426.2" cy="274.4" rx="1.2" ry="0.9" fill="#a65c3c" transform="rotate(-18 426.2 274.4)"/>
<ellipse cx="429.2" cy="274.2" rx="1.3" ry="1.0" fill="#bf7656" transform="rotate(-25 429.2 274.2)"/>
<ellipse cx="341.5" cy="277.5" rx="1.4" ry="1.1" fill="#c88462" transform="rotate(5 341.5 277.5)"/>
<ellipse cx="344.7" cy="277.4" rx="1.3" ry="0.7" fill="#b4684a" transform="rotate(-7 344.7 277.4)"/>
<ellipse cx="348.7" cy="277.3" rx="1.0" ry="1.0" fill="#a65c3c" transform="rotate(-47 348.7 277.3)"/>
<ellipse cx="351.2" cy="276.8" rx="1.5" ry="1.0" fill="#bf7656" transform="rotate(-8 351.2 276.8)"/>
<ellipse cx="354.6" cy="277.2" rx="1.4" ry="1.1" fill="#bf7656" transform="rotate(9 354.6 277.2)"/>
<ellipse cx="358.0" cy="277.5" rx="1.6" ry="0.8" fill="#c88462" transform="rotate(-28 358.0 277.5)"/>
<ellipse cx="361.4" cy="276.9" rx="1.2" ry="0.8" fill="#c88462" transform="rotate(2 361.4 276.9)"/>
<ellipse cx="364.6" cy="277.1" rx="1.3" ry="1.1" fill="#a65c3c" transform="rotate(-30 364.6 277.1)"/>
<ellipse cx="368.0" cy="276.9" rx="1.2" ry="1.1" fill="#b4684a" transform="rotate(-40 368.0 276.9)"/>
<ellipse cx="371.4" cy="277.2" rx="1.1" ry="0.9" fill="#9a5238" transform="rotate(4 371.4 277.2)"/>
<ellipse cx="375.0" cy="277.0" rx="1.5" ry="0.8" fill="#9a5238" transform="rotate(-43 375.0 277.0)"/>
<ellipse cx="377.7" cy="277.3" rx="1.3" ry="0.8" fill="#bf7656" transform="rotate(-22 377.7 277.3)"/>
<ellipse cx="381.4" cy="277.0" rx="1.2" ry="0.8" fill="#b4684a" transform="rotate(-47 381.4 277.0)"/>
<ellipse cx="384.0" cy="277.0" rx="1.3" ry="0.9" fill="#9a5238" transform="rotate(-16 384.0 277.0)"/>
<ellipse cx="387.9" cy="277.1" rx="1.5" ry="0.7" fill="#bf7656" transform="rotate(-13 387.9 277.1)"/>
<ellipse cx="390.9" cy="277.1" rx="1.5" ry="0.7" fill="#a65c3c" transform="rotate(-18 390.9 277.1)"/>
<ellipse cx="394.3" cy="277.6" rx="1.5" ry="1.0" fill="#a65c3c" transform="rotate(-21 394.3 277.6)"/>
<ellipse cx="398.1" cy="277.4" rx="1.4" ry="0.8" fill="#9a5238" transform="rotate(3 398.1 277.4)"/>
<ellipse cx="400.5" cy="277.2" rx="1.2" ry="0.7" fill="#b4684a" transform="rotate(-18 400.5 277.2)"/>
<ellipse cx="404.4" cy="277.4" rx="1.3" ry="0.8" fill="#9a5238" transform="rotate(-5 404.4 277.4)"/>
<ellipse cx="408.0" cy="277.1" rx="1.1" ry="0.8" fill="#9a5238" transform="rotate(7 408.0 277.1)"/>
<ellipse cx="410.7" cy="276.9" rx="1.3" ry="0.8" fill="#b4684a" transform="rotate(-26 410.7 276.9)"/>
<ellipse cx="413.8" cy="277.1" rx="1.3" ry="0.9" fill="#b4684a" transform="rotate(-17 413.8 277.1)"/>
<ellipse cx="417.3" cy="277.1" rx="1.1" ry="0.9" fill="#c88462" transform="rotate(-14 417.3 277.1)"/>
<ellipse cx="420.6" cy="276.9" rx="1.4" ry="0.7" fill="#b4684a" transform="rotate(-11 420.6 276.9)"/>
<ellipse cx="423.8" cy="277.0" rx="1.1" ry="1.0" fill="#a65c3c" transform="rotate(-2 423.8 277.0)"/>
<ellipse cx="427.8" cy="277.5" rx="1.5" ry="1.0" fill="#bf7656" transform="rotate(-34 427.8 277.5)"/>
<ellipse cx="340.1" cy="279.7" rx="1.2" ry="1.0" fill="#b4684a" transform="rotate(4 340.1 279.7)"/>
<ellipse cx="343.2" cy="280.1" rx="1.5" ry="0.9" fill="#c88462" transform="rotate(-9 343.2 280.1)"/>
<ellipse cx="346.5" cy="279.8" rx="1.2" ry="1.1" fill="#9a5238" transform="rotate(-1 346.5 279.8)"/>
<ellipse cx="349.7" cy="279.9" rx="1.1" ry="0.7" fill="#bf7656" transform="rotate(-45 349.7 279.9)"/>
<ellipse cx="353.5" cy="279.7" rx="1.2" ry="0.8" fill="#c88462" transform="rotate(-40 353.5 279.7)"/>
<ellipse cx="356.3" cy="279.8" rx="1.3" ry="0.7" fill="#9a5238" transform="rotate(-13 356.3 279.8)"/>
<ellipse cx="360.1" cy="279.6" rx="1.5" ry="0.7" fill="#bf7656" transform="rotate(-32 360.1 279.6)"/>
<ellipse cx="363.0" cy="279.9" rx="1.0" ry="0.7" fill="#bf7656" transform="rotate(-11 363.0 279.9)"/>
<ellipse cx="366.8" cy="279.8" rx="1.5" ry="0.9" fill="#a65c3c" transform="rotate(-40 366.8 279.8)"/>
<ellipse cx="370.1" cy="279.6" rx="1.1" ry="0.9" fill="#bf7656" transform="rotate(-39 370.1 279.6)"/>
<ellipse cx="373.5" cy="280.1" rx="1.4" ry="0.8" fill="#b4684a" transform="rotate(3 373.5 280.1)"/>
<ellipse cx="376.2" cy="279.7" rx="1.1" ry="0.8" fill="#9a5238" transform="rotate(-47 376.2 279.7)"/>
<ellipse cx="379.4" cy="279.5" rx="1.2" ry="1.1" fill="#a65c3c" transform="rotate(-11 379.4 279.5)"/>
<ellipse cx="383.3" cy="280.2" rx="1.3" ry="1.1" fill="#9a5238" transform="rotate(-20 383.3 280.2)"/>
<ellipse cx="386.2" cy="280.2" rx="1.0" ry="1.0" fill="#a65c3c" transform="rotate(-34 386.2 280.2)"/>
<ellipse cx="389.8" cy="279.5" rx="1.5" ry="0.8" fill="#a65c3c" transform="rotate(-20 389.8 279.5)"/>
<ellipse cx="393.1" cy="279.4" rx="1.2" ry="1.0" fill="#bf7656" transform="rotate(-48 393.1 279.4)"/>
<ellipse cx="395.9" cy="279.8" rx="1.4" ry="1.0" fill="#9a5238" transform="rotate(-17 395.9 279.8)"/>
<ellipse cx="399.3" cy="279.8" rx="1.2" ry="1.1" fill="#b4684a" transform="rotate(-13 399.3 279.8)"/>
<ellipse cx="403.1" cy="279.6" rx="1.5" ry="0.9" fill="#c88462" transform="rotate(8 403.1 279.6)"/>
<ellipse cx="405.7" cy="280.1" rx="1.1" ry="1.0" fill="#a65c3c" transform="rotate(7 405.7 280.1)"/>
<ellipse cx="409.7" cy="280.0" rx="1.2" ry="0.9" fill="#a65c3c" transform="rotate(-22 409.7 280.0)"/>
<ellipse cx="412.9" cy="280.1" rx="1.1" ry="0.7" fill="#9a5238" transform="rotate(-10 412.9 280.1)"/>
<ellipse cx="416.1" cy="280.1" rx="1.6" ry="0.9" fill="#b4684a" transform="rotate(8 416.1 280.1)"/>
<ellipse cx="419.5" cy="279.5" rx="1.5" ry="0.9" fill="#b4684a" transform="rotate(7 419.5 279.5)"/>
<ellipse cx="422.5" cy="279.7" rx="1.4" ry="1.0" fill="#a65c3c" transform="rotate(-21 422.5 279.7)"/>
<ellipse cx="426.3" cy="279.5" rx="1.1" ry="0.9" fill="#b4684a" transform="rotate(-41 426.3 279.5)"/>
<ellipse cx="429.0" cy="279.7" rx="1.3" ry="0.9" fill="#c88462" transform="rotate(-47 429.0 279.7)"/>
<ellipse cx="341.4" cy="282.5" rx="1.5" ry="0.8" fill="#a65c3c" transform="rotate(-8 341.4 282.5)"/>
<ellipse cx="345.1" cy="282.3" rx="1.1" ry="0.8" fill="#c88462" transform="rotate(-49 345.1 282.3)"/>
<ellipse cx="348.0" cy="282.5" rx="1.2" ry="0.8" fill="#c88462" transform="rotate(-49 348.0 282.5)"/>
<ellipse cx="352.0" cy="282.2" rx="1.2" ry="0.9" fill="#c88462" transform="rotate(-1 352.0 282.2)"/>
<ellipse cx="354.8" cy="282.2" rx="1.1" ry="1.1" fill="#c88462" transform="rotate(-48 354.8 282.2)"/>
<ellipse cx="357.7" cy="282.6" rx="1.4" ry="1.0" fill="#a65c3c" transform="rotate(-12 357.7 282.6)"/>
<ellipse cx="361.3" cy="282.1" rx="1.4" ry="0.9" fill="#b4684a" transform="rotate(-21 361.3 282.1)"/>
<ellipse cx="364.4" cy="282.3" rx="1.4" ry="0.8" fill="#9a5238" transform="rotate(-40 364.4 282.3)"/>
<ellipse cx="367.8" cy="282.5" rx="1.1" ry="0.7" fill="#a65c3c" transform="rotate(4 367.8 282.5)"/>
<ellipse cx="371.7" cy="282.4" rx="1.5" ry="1.0" fill="#a65c3c" transform="rotate(-18 371.7 282.4)"/>
<ellipse cx="374.2" cy="282.1" rx="1.4" ry="0.9" fill="#bf7656" transform="rotate(6 374.2 282.1)"/>
<ellipse cx="377.4" cy="282.4" rx="1.1" ry="1.0" fill="#9a5238" transform="rotate(5 377.4 282.4)"/>
<ellipse cx="381.6" cy="282.2" rx="1.0" ry="1.0" fill="#9a5238" transform="rotate(-41 381.6 282.2)"/>
<ellipse cx="384.8" cy="282.3" rx="1.2" ry="1.0" fill="#bf7656" transform="rotate(-43 384.8 282.3)"/>
<ellipse cx="387.6" cy="282.7" rx="1.2" ry="1.0" fill="#a65c3c" transform="rotate(-7 387.6 282.7)"/>
<ellipse cx="391.1" cy="282.4" rx="1.4" ry="1.0" fill="#9a5238" transform="rotate(-22 391.1 282.4)"/>
<ellipse cx="394.2" cy="282.3" rx="1.5" ry="0.8" fill="#b4684a" transform="rotate(-22 394.2 282.3)"/>
<ellipse cx="397.5" cy="282.2" rx="1.1" ry="0.8" fill="#bf7656" transform="rotate(-5 397.5 282.2)"/>
<ellipse cx="401.3" cy="282.5" rx="1.6" ry="0.8" fill="#9a5238" transform="rotate(-45 401.3 282.5)"/>
<ellipse cx="404.0" cy="282.4" rx="1.1" ry="1.0" fill="#bf7656" transform="rotate(-20 404.0 282.4)"/>
<ellipse cx="407.1" cy="282.4" rx="1.3" ry="0.8" fill="#9a5238" transform="rotate(-31 407.1 282.4)"/>
<ellipse cx="411.1" cy="282.8" rx="1.4" ry="0.8" fill="#a65c3c" transform="rotate(-2 411.1 282.8)"/>
<ellipse cx="414.0" cy="282.2" rx="1.3" ry="0.9" fill="#9a5238" transform="rotate(-24 414.0 282.2)"/>
<ellipse cx="417.2" cy="282.7" rx="1.6" ry="1.0" fill="#c88462" transform="rotate(-22 417.2 282.7)"/>
<ellipse cx="421.0" cy="282.4" rx="1.4" ry="1.0" fill="#b4684a" transform="rotate(0 421.0 282.4)"/>
<ellipse cx="424.1" cy="282.5" rx="1.4" ry="1.0" fill="#9a5238" transform="rotate(-35 424.1 282.5)"/>
<ellipse cx="427.5" cy="282.8" rx="1.2" ry="1.0" fill="#b4684a" transform="rotate(1 427.5 282.8)"/>
<ellipse cx="339.7" cy="284.9" rx="1.1" ry="1.1" fill="#a65c3c" transform="rotate(10 339.7 284.9)"/>
<ellipse cx="342.8" cy="285.3" rx="1.2" ry="1.0" fill="#9a5238" transform="rotate(-20 342.8 285.3)"/>
<ellipse cx="346.1" cy="284.6" rx="1.6" ry="0.7" fill="#bf7656" transform="rotate(-19 346.1 284.6)"/>
<ellipse cx="349.7" cy="285.1" rx="1.2" ry="1.0" fill="#b4684a" transform="rotate(1 349.7 285.1)"/>
<ellipse cx="353.2" cy="285.4" rx="1.3" ry="1.1" fill="#a65c3c" transform="rotate(-41 353.2 285.4)"/>
<ellipse cx="356.9" cy="284.9" rx="1.6" ry="1.0" fill="#9a5238" transform="rotate(-49 356.9 284.9)"/>
<ellipse cx="360.1" cy="284.7" rx="1.3" ry="1.0" fill="#b4684a" transform="rotate(-31 360.1 284.7)"/>
<ellipse cx="362.7" cy="285.3" rx="1.1" ry="1.0" fill="#bf7656" transform="rotate(-34 362.7 285.3)"/>
<ellipse cx="366.1" cy="285.3" rx="1.2" ry="0.8" fill="#bf7656" transform="rotate(8 366.1 285.3)"/>
<ellipse cx="369.5" cy="285.4" rx="1.1" ry="1.0" fill="#c88462" transform="rotate(-31 369.5 285.4)"/>
<ellipse cx="372.7" cy="284.9" rx="1.2" ry="1.0" fill="#bf7656" transform="rotate(-13 372.7 284.9)"/>
<ellipse cx="376.2" cy="285.1" rx="1.2" ry="0.7" fill="#bf7656" transform="rotate(9 376.2 285.1)"/>
<ellipse cx="380.0" cy="284.8" rx="1.2" ry="1.1" fill="#b4684a" transform="rotate(-36 380.0 284.8)"/>
<ellipse cx="383.4" cy="284.8" rx="1.1" ry="1.0" fill="#b4684a" transform="rotate(-21 383.4 284.8)"/>
<ellipse cx="386.3" cy="285.2" rx="1.4" ry="1.0" fill="#bf7656" transform="rotate(-30 386.3 285.2)"/>
<ellipse cx="389.1" cy="285.2" rx="1.4" ry="1.0" fill="#bf7656" transform="rotate(8 389.1 285.2)"/>
<ellipse cx="392.6" cy="284.6" rx="1.5" ry="0.8" fill="#a65c3c" transform="rotate(-7 392.6 284.6)"/>
<ellipse cx="395.7" cy="284.6" rx="1.1" ry="1.0" fill="#b4684a" transform="rotate(-12 395.7 284.6)"/>
<ellipse cx="399.2" cy="285.0" rx="1.3" ry="0.8" fill="#c88462" transform="rotate(10 399.2 285.0)"/>
<ellipse cx="402.9" cy="285.1" rx="1.4" ry="0.9" fill="#c88462" transform="rotate(-1 402.9 285.1)"/>
<ellipse cx="405.7" cy="284.8" rx="1.3" ry="1.0" fill="#c88462" transform="rotate(7 405.7 284.8)"/>
<ellipse cx="409.8" cy="284.7" rx="1.1" ry="0.8" fill="#b4684a" transform="rotate(-19 409.8 284.7)"/>
<ellipse cx="413.0" cy="284.9" rx="1.2" ry="0.8" fill="#c88462" transform="rotate(3 413.0 284.9)"/>
<ellipse cx="416.2" cy="284.7" rx="1.3" ry="0.8" fill="#a65c3c" transform="rotate(-13 416.2 284.7)"/>
<ellipse cx="419.1" cy="285.1" rx="1.4" ry="1.1" fill="#bf7656" transform="rotate(9 419.1 285.1)"/>
<ellipse cx="422.9" cy="284.8" rx="1.5" ry="0.8" fill="#9a5238" transform="rotate(-5 422.9 284.8)"/>
<ellipse cx="425.6" cy="285.3" rx="1.0" ry="0.9" fill="#b4684a" transform="rotate(-32 425.6 285.3)"/>
<ellipse cx="428.8" cy="285.0" rx="1.5" ry="0.7" fill="#c88462" transform="rotate(-47 428.8 285.0)"/>
<ellipse cx="341.5" cy="287.4" rx="1.4" ry="0.8" fill="#a65c3c" transform="rotate(-33 341.5 287.4)"/>
<ellipse cx="344.9" cy="287.5" rx="1.3" ry="0.8" fill="#a65c3c" transform="rotate(-34 344.9 287.5)"/>
<ellipse cx="348.3" cy="287.3" rx="1.5" ry="0.9" fill="#a65c3c" transform="rotate(-35 348.3 287.3)"/>
<ellipse cx="351.5" cy="287.4" rx="1.4" ry="0.9" fill="#b4684a" transform="rotate(-21 351.5 287.4)"/>
<ellipse cx="354.5" cy="287.6" rx="1.3" ry="0.9" fill="#9a5238" transform="rotate(-24 354.5 287.6)"/>
<ellipse cx="357.6" cy="287.4" rx="1.5" ry="0.9" fill="#9a5238" transform="rotate(9 357.6 287.4)"/>
<ellipse cx="361.7" cy="287.9" rx="1.4" ry="0.7" fill="#b4684a" transform="rotate(-38 361.7 287.9)"/>
<ellipse cx="365.0" cy="287.4" rx="1.1" ry="0.7" fill="#a65c3c" transform="rotate(-23 365.0 287.4)"/>
<ellipse cx="367.7" cy="287.6" rx="1.3" ry="0.8" fill="#b4684a" transform="rotate(-6 367.7 287.6)"/>
<ellipse cx="371.5" cy="287.7" rx="1.1" ry="1.0" fill="#b4684a" transform="rotate(5 371.5 287.7)"/>
<ellipse cx="374.2" cy="287.8" rx="1.0" ry="0.8" fill="#bf7656" transform="rotate(-12 374.2 287.8)"/>
<ellipse cx="377.6" cy="287.8" rx="1.0" ry="0.8" fill="#bf7656" transform="rotate(-24 377.6 287.8)"/>
<ellipse cx="381.0" cy="287.4" rx="1.1" ry="1.1" fill="#c88462" transform="rotate(-35 381.0 287.4)"/>
<ellipse cx="384.3" cy="287.3" rx="1.3" ry="0.7" fill="#b4684a" transform="rotate(-15 384.3 287.3)"/>
<ellipse cx="388.1" cy="287.9" rx="1.2" ry="0.9" fill="#bf7656" transform="rotate(-42 388.1 287.9)"/>
<ellipse cx="391.0" cy="287.9" rx="1.2" ry="0.9" fill="#a65c3c" transform="rotate(-22 391.0 287.9)"/>
<ellipse cx="394.5" cy="288.0" rx="1.2" ry="1.0" fill="#9a5238" transform="rotate(-30 394.5 288.0)"/>
<ellipse cx="397.6" cy="287.5" rx="1.5" ry="0.8" fill="#a65c3c" transform="rotate(1 397.6 287.5)"/>
<ellipse cx="401.0" cy="287.7" rx="1.4" ry="0.9" fill="#9a5238" transform="rotate(6 401.0 287.7)"/>
<ellipse cx="404.5" cy="287.4" rx="1.2" ry="0.8" fill="#a65c3c" transform="rotate(-44 404.5 287.4)"/>
<ellipse cx="407.3" cy="287.7" rx="1.2" ry="0.9" fill="#b4684a" transform="rotate(10 407.3 287.7)"/>
<ellipse cx="410.7" cy="287.7" rx="1.6" ry="0.8" fill="#c88462" transform="rotate(-13 410.7 287.7)"/>
<ellipse cx="414.2" cy="287.9" rx="1.1" ry="1.0" fill="#a65c3c" transform="rotate(-14 414.2 287.9)"/>
<ellipse cx="417.2" cy="287.3" rx="1.0" ry="1.0" fill="#9a5238" transform="rotate(-4 417.2 287.3)"/>
<ellipse cx="420.7" cy="287.8" rx="1.2" ry="1.0" fill="#b4684a" transform="rotate(6 420.7 287.8)"/>
<ellipse cx="424.6" cy="287.9" rx="1.3" ry="1.1" fill="#a65c3c" transform="rotate(-32 424.6 287.9)"/>
<ellipse cx="427.4" cy="287.5" rx="1.4" ry="1.0" fill="#bf7656" transform="rotate(-29 427.4 287.5)"/>
<ellipse cx="339.9" cy="289.9" rx="1.1" ry="1.1" fill="#c88462" transform="rotate(-40 339.9 289.9)"/>
<ellipse cx="343.4" cy="290.3" rx="1.5" ry="0.9" fill="#9a5238" transform="rotate(10 343.4 290.3)"/>
<ellipse cx="346.8" cy="290.0" rx="1.0" ry="0.8" fill="#bf7656" transform="rotate(-33 346.8 290.0)"/>
<ellipse cx="349.7" cy="290.4" rx="1.1" ry="0.8" fill="#b4684a" transform="rotate(0 349.7 290.4)"/>
<ellipse cx="353.6" cy="290.4" rx="1.1" ry="0.9" fill="#a65c3c" transform="rotate(-14 353.6 290.4)"/>
<ellipse cx="356.6" cy="290.4" rx="1.3" ry="1.0" fill="#b4684a" transform="rotate(5 356.6 290.4)"/>
<ellipse cx="359.3" cy="290.5" rx="1.5" ry="0.9" fill="#9a5238" transform="rotate(-20 359.3 290.5)"/>
<ellipse cx="362.8" cy="290.6" rx="1.6" ry="1.0" fill="#9a5238" transform="rotate(-47 362.8 290.6)"/>
<ellipse cx="366.6" cy="290.6" rx="1.4" ry="0.9" fill="#9a5238" transform="rotate(-7 366.6 290.6)"/>
<ellipse cx="369.2" cy="290.2" rx="1.3" ry="0.9" fill="#9a5238" transform="rotate(-43 369.2 290.2)"/>
<ellipse cx="372.7" cy="289.8" rx="1.3" ry="0.8" fill="#9a5238" transform="rotate(-33 372.7 289.8)"/>
<ellipse cx="376.3" cy="290.5" rx="1.2" ry="0.9" fill="#9a5238" transform="rotate(-2 376.3 290.5)"/>
<ellipse cx="379.4" cy="290.5" rx="1.1" ry="0.8" fill="#a65c3c" transform="rotate(-21 379.4 290.5)"/>
<ellipse cx="382.4" cy="290.0" rx="1.5" ry="0.8" fill="#a65c3c" transform="rotate(-6 382.4 290.0)"/>
<ellipse cx="386.7" cy="290.0" rx="1.0" ry="1.1" fill="#b4684a" transform="rotate(-30 386.7 290.0)"/>
<ellipse cx="389.7" cy="290.1" rx="1.5" ry="1.0" fill="#bf7656" transform="rotate(4 389.7 290.1)"/>
<ellipse cx="392.4" cy="289.8" rx="1.1" ry="1.1" fill="#b4684a" transform="rotate(-11 392.4 289.8)"/>
<ellipse cx="396.2" cy="290.3" rx="1.3" ry="1.0" fill="#a65c3c" transform="rotate(-41 396.2 290.3)"/>
<ellipse cx="399.2" cy="289.9" rx="1.5" ry="1.0" fill="#bf7656" transform="rotate(-29 399.2 289.9)"/>
<ellipse cx="402.3" cy="290.5" rx="1.5" ry="1.0" fill="#a65c3c" transform="rotate(-8 402.3 290.5)"/>
<ellipse cx="406.0" cy="290.1" rx="1.5" ry="1.1" fill="#9a5238" transform="rotate(-5 406.0 290.1)"/>
<ellipse cx="409.2" cy="290.5" rx="1.0" ry="0.8" fill="#c88462" transform="rotate(-25 409.2 290.5)"/>
<ellipse cx="412.4" cy="290.1" rx="1.4" ry="0.9" fill="#b4684a" transform="rotate(-28 412.4 290.1)"/>
<ellipse cx="415.5" cy="289.8" rx="1.4" ry="0.9" fill="#c88462" transform="rotate(5 415.5 289.8)"/>
<ellipse cx="418.8" cy="290.4" rx="1.6" ry="1.0" fill="#bf7656" transform="rotate(-47 418.8 290.4)"/>
<ellipse cx="422.0" cy="290.0" rx="1.4" ry="0.7" fill="#bf7656" transform="rotate(-40 422.0 290.0)"/>
<ellipse cx="425.8" cy="290.0" rx="1.3" ry="1.1" fill="#a65c3c" transform="rotate(-25 425.8 290.0)"/>
<ellipse cx="428.9" cy="290.1" rx="1.3" ry="1.0" fill="#9a5238" transform="rotate(5 428.9 290.1)"/>
<ellipse cx="341.5" cy="292.7" rx="1.2" ry="0.7" fill="#bf7656" transform="rotate(-49 341.5 292.7)"/>
<ellipse cx="345.4" cy="292.7" rx="1.3" ry="0.9" fill="#9a5238" transform="rotate(-10 345.4 292.7)"/>
<ellipse cx="348.2" cy="292.6" rx="1.3" ry="0.9" fill="#9a5238" transform="rotate(-26 348.2 292.6)"/>
<ellipse cx="351.2" cy="292.6" rx="1.0" ry="0.8" fill="#9a5238" transform="rotate(-20 351.2 292.6)"/>
<ellipse cx="355.1" cy="293.0" rx="1.2" ry="0.9" fill="#bf7656" transform="rotate(5 355.1 293.0)"/>
<ellipse cx="358.2" cy="293.1" rx="1.2" ry="0.9" fill="#b4684a" transform="rotate(-16 358.2 293.1)"/>
<ellipse cx="361.6" cy="292.5" rx="1.5" ry="0.9" fill="#9a5238" transform="rotate(-41 361.6 292.5)"/>
<ellipse cx="364.9" cy="292.6" rx="1.1" ry="0.8" fill="#c88462" transform="rotate(-15 364.9 292.6)"/>
<ellipse cx="367.9" cy="292.6" rx="1.6" ry="1.0" fill="#9a5238" transform="rotate(-46 367.9 292.6)"/>
<ellipse cx="371.5" cy="292.8" rx="1.3" ry="0.8" fill="#a65c3c" transform="rotate(-6 371.5 292.8)"/>
<ellipse cx="374.9" cy="292.5" rx="1.2" ry="1.0" fill="#b4684a" transform="rotate(-50 374.9 292.5)"/>
<ellipse cx="378.0" cy="293.0" rx="1.2" ry="0.9" fill="#9a5238" transform="rotate(-13 378.0 293.0)"/>
<ellipse cx="381.4" cy="292.8" rx="1.6" ry="0.9" fill="#a65c3c" transform="rotate(-46 381.4 292.8)"/>
<ellipse cx="384.1" cy="293.0" rx="1.1" ry="1.0" fill="#bf7656" transform="rotate(-34 384.1 293.0)"/>
<ellipse cx="387.6" cy="292.7" rx="1.5" ry="0.9" fill="#bf7656" transform="rotate(-3 387.6 292.7)"/>
<ellipse cx="391.1" cy="292.9" rx="1.3" ry="1.0" fill="#bf7656" transform="rotate(-50 391.1 292.9)"/>
<ellipse cx="394.2" cy="292.5" rx="1.3" ry="0.8" fill="#b4684a" transform="rotate(7 394.2 292.5)"/>
<ellipse cx="397.4" cy="292.7" rx="1.5" ry="0.9" fill="#9a5238" transform="rotate(-33 397.4 292.7)"/>
<ellipse cx="401.0" cy="292.8" rx="1.0" ry="1.0" fill="#c88462" transform="rotate(-11 401.0 292.8)"/>
<ellipse cx="404.8" cy="292.9" rx="1.1" ry="1.1" fill="#a65c3c" transform="rotate(-36 404.8 292.9)"/>
<ellipse cx="407.3" cy="292.5" rx="1.1" ry="0.8" fill="#b4684a" transform="rotate(-5 407.3 292.5)"/>
<ellipse cx="410.9" cy="292.5" rx="1.2" ry="0.7" fill="#9a5238" transform="rotate(-32 410.9 292.5)"/>
<ellipse cx="414.0" cy="293.0" rx="1.6" ry="0.8" fill="#bf7656" transform="rotate(-17 414.0 293.0)"/>
<ellipse cx="417.6" cy="293.2" rx="1.0" ry="1.0" fill="#bf7656" transform="rotate(-7 417.6 293.2)"/>
<ellipse cx="420.8" cy="293.0" rx="1.4" ry="0.9" fill="#c88462" transform="rotate(-49 420.8 293.0)"/>
<ellipse cx="423.8" cy="292.6" rx="1.1" ry="1.0" fill="#c88462" transform="rotate(-40 423.8 292.6)"/>
<ellipse cx="427.8" cy="292.9" rx="1.4" ry="1.0" fill="#c88462" transform="rotate(2 427.8 292.9)"/>
<ellipse cx="339.9" cy="295.3" rx="1.3" ry="0.9" fill="#9a5238" transform="rotate(-8 339.9 295.3)"/>
<ellipse cx="343.7" cy="295.1" rx="1.4" ry="0.8" fill="#9a5238" transform="rotate(-36 343.7 295.1)"/>
<ellipse cx="346.1" cy="295.1" rx="1.4" ry="0.7" fill="#bf7656" transform="rotate(1 346.1 295.1)"/>
<ellipse cx="350.0" cy="295.5" rx="1.1" ry="0.9" fill="#9a5238" transform="rotate(-9 350.0 295.5)"/>
<ellipse cx="353.5" cy="295.7" rx="1.4" ry="1.0" fill="#bf7656" transform="rotate(-45 353.5 295.7)"/>
<ellipse cx="357.0" cy="295.6" rx="1.5" ry="0.8" fill="#9a5238" transform="rotate(-8 357.0 295.6)"/>
<ellipse cx="359.4" cy="295.6" rx="1.2" ry="1.1" fill="#c88462" transform="rotate(-8 359.4 295.6)"/>
<ellipse cx="362.8" cy="295.8" rx="1.5" ry="0.9" fill="#9a5238" transform="rotate(-11 362.8 295.8)"/>
<ellipse cx="366.1" cy="295.5" rx="1.4" ry="0.7" fill="#9a5238" transform="rotate(-33 366.1 295.5)"/>
<ellipse cx="369.5" cy="295.0" rx="1.6" ry="0.7" fill="#a65c3c" transform="rotate(-36 369.5 295.0)"/>
<ellipse cx="373.1" cy="295.2" rx="1.2" ry="0.7" fill="#bf7656" transform="rotate(-2 373.1 295.2)"/>
<ellipse cx="376.3" cy="295.7" rx="1.3" ry="1.0" fill="#9a5238" transform="rotate(-21 376.3 295.7)"/>
<ellipse cx="379.5" cy="295.4" rx="1.1" ry="0.9" fill="#c88462" transform="rotate(-39 379.5 295.4)"/>
<ellipse cx="382.9" cy="295.6" rx="1.4" ry="0.8" fill="#c88462" transform="rotate(-18 382.9 295.6)"/>
<ellipse cx="386.3" cy="295.7" rx="1.4" ry="1.1" fill="#a65c3c" transform="rotate(-30 386.3 295.7)"/>
<ellipse cx="389.4" cy="295.8" rx="1.6" ry="0.9" fill="#c88462" transform="rotate(-4 389.4 295.8)"/>
<ellipse cx="392.4" cy="295.4" rx="1.2" ry="0.8" fill="#a65c3c" transform="rotate(6 392.4 295.4)"/>
<ellipse cx="395.6" cy="295.3" rx="1.3" ry="0.7" fill="#9a5238" transform="rotate(7 395.6 295.3)"/>
<ellipse cx="398.9" cy="295.3" rx="1.1" ry="0.8" fill="#c88462" transform="rotate(-47 398.9 295.3)"/>
<ellipse cx="402.8" cy="295.2" rx="1.6" ry="0.8" fill="#a65c3c" transform="rotate(-47 402.8 295.2)"/>
<ellipse cx="405.8" cy="295.0" rx="1.5" ry="0.8" fill="#a65c3c" transform="rotate(-24 405.8 295.0)"/>
<ellipse cx="409.4" cy="295.3" rx="1.1" ry="0.9" fill="#b4684a" transform="rotate(-38 409.4 295.3)"/>
<ellipse cx="412.2" cy="295.4" rx="1.1" ry="0.8" fill="#bf7656" transform="rotate(-43 412.2 295.4)"/>
<ellipse cx="416.4" cy="295.5" rx="1.3" ry="0.8" fill="#bf7656" transform="rotate(-33 416.4 295.5)"/>
<ellipse cx="419.0" cy="295.4" rx="1.6" ry="1.0" fill="#a65c3c" transform="rotate(-4 419.0 295.4)"/>
<ellipse cx="422.5" cy="295.6" rx="1.3" ry="0.9" fill="#a65c3c" transform="rotate(-4 422.5 295.6)"/>
<ellipse cx="426.3" cy="295.5" rx="1.5" ry="1.0" fill="#c88462" transform="rotate(-44 426.3 295.5)"/>
<ellipse cx="429.1" cy="295.6" rx="1.3" ry="1.0" fill="#9a5238" transform="rotate(-37 429.1 295.6)"/>
<ellipse cx="341.6" cy="297.8" rx="1.1" ry="0.8" fill="#9a5238" transform="rotate(-37 341.6 297.8)"/>
<ellipse cx="344.5" cy="297.9" rx="1.0" ry="0.9" fill="#b4684a" transform="rotate(0 344.5 297.9)"/>
<ellipse cx="347.8" cy="298.4" rx="1.1" ry="1.1" fill="#9a5238" transform="rotate(-25 347.8 298.4)"/>
<ellipse cx="351.4" cy="297.9" rx="1.2" ry="0.9" fill="#b4684a" transform="rotate(-17 351.4 297.9)"/>
<ellipse cx="354.9" cy="298.0" rx="1.1" ry="1.1" fill="#9a5238" transform="rotate(-41 354.9 298.0)"/>
<ellipse cx="358.2" cy="298.2" rx="1.4" ry="0.9" fill="#bf7656" transform="rotate(-18 358.2 298.2)"/>
<ellipse cx="361.3" cy="298.2" rx="1.0" ry="0.9" fill="#bf7656" transform="rotate(-40 361.3 298.2)"/>
<ellipse cx="364.7" cy="298.2" rx="1.5" ry="0.8" fill="#c88462" transform="rotate(-47 364.7 298.2)"/>
<ellipse cx="368.3" cy="298.1" rx="1.1" ry="1.1" fill="#9a5238" transform="rotate(-9 368.3 298.1)"/>
<ellipse cx="371.4" cy="297.6" rx="1.4" ry="0.9" fill="#b4684a" transform="rotate(-4 371.4 297.6)"/>
<ellipse cx="374.1" cy="297.9" rx="1.3" ry="1.0" fill="#9a5238" transform="rotate(-7 374.1 297.9)"/>
<ellipse cx="378.2" cy="298.3" rx="1.0" ry="1.1" fill="#a65c3c" transform="rotate(4 378.2 298.3)"/>
<ellipse cx="381.0" cy="297.7" rx="1.5" ry="1.1" fill="#9a5238" transform="rotate(-11 381.0 297.7)"/>
<ellipse cx="384.6" cy="298.4" rx="1.5" ry="0.8" fill="#bf7656" transform="rotate(-36 384.6 298.4)"/>
<ellipse cx="388.2" cy="298.3" rx="1.3" ry="0.9" fill="#a65c3c" transform="rotate(-28 388.2 298.3)"/>
<ellipse cx="391.0" cy="298.2" rx="1.0" ry="0.8" fill="#c88462" transform="rotate(-11 391.0 298.2)"/>
<ellipse cx="393.9" cy="297.7" rx="1.5" ry="0.8" fill="#bf7656" transform="rotate(-16 393.9 297.7)"/>
<ellipse cx="398.1" cy="298.0" rx="1.4" ry="0.7" fill="#c88462" transform="rotate(-36 398.1 298.0)"/>
<ellipse cx="401.0" cy="298.0" rx="1.3" ry="0.7" fill="#c88462" transform="rotate(-42 401.0 298.0)"/>
<ellipse cx="404.1" cy="298.2" rx="1.2" ry="1.1" fill="#bf7656" transform="rotate(-12 404.1 298.2)"/>
<ellipse cx="407.9" cy="298.0" rx="1.2" ry="0.9" fill="#9a5238" transform="rotate(-28 407.9 298.0)"/>
<ellipse cx="410.9" cy="297.9" rx="1.2" ry="1.1" fill="#a65c3c" transform="rotate(-18 410.9 297.9)"/>
<ellipse cx="413.9" cy="298.3" rx="1.2" ry="1.0" fill="#a65c3c" transform="rotate(-18 413.9 298.3)"/>
<ellipse cx="417.2" cy="298.3" rx="1.1" ry="1.0" fill="#c88462" transform="rotate(-29 417.2 298.3)"/>
<ellipse cx="420.3" cy="298.0" rx="1.1" ry="0.8" fill="#b4684a" transform="rotate(-47 420.3 298.0)"/>
<ellipse cx="424.0" cy="298.2" rx="1.1" ry="0.8" fill="#bf7656" transform="rotate(-50 424.0 298.2)"/>
<ellipse cx="427.5" cy="297.8" rx="1.2" ry="0.7" fill="#9a5238" transform="rotate(-41 427.5 297.8)"/>
</g>
<circle cx="362" cy="252" r="3.2" fill="#e6ae62"/>
<path d="M395,226 C388,245 380,268 374,293" fill="none" stroke="#fbeed6" stroke-width="2.6"/>
<path d="M397,262 C400,252 410,247 422,248 L428,252 L432,288 C420,289 408,288 402,282 C397,276 396,268 397,262 Z" fill="#b56a50"/>
<path d="M398,258 C404,250 414,247 424,249 L427,258 C418,254 406,255 398,262 Z" fill="#8c4048"/>
<path d="M400,266 C408,262 416,263 424,266 M399,275 C408,271 418,273 426,277 M402,283 C410,280 418,282 428,285" stroke="#e0a070" stroke-width="1.3" fill="none"/>
<ellipse cx="438" cy="270" rx="13" ry="22.4" transform="rotate(6 438 270)" fill="#eebd70" stroke="#d9a050" stroke-width="0.8"/>
<ellipse cx="430" cy="270" rx="12.8" ry="17.2" transform="rotate(6 430 270)" fill="#e8b848" stroke="#c49030" stroke-width="1"/>
<path d="M521,301 C530,302 542,305 551,309" stroke="#e3b06a" stroke-width="1" fill="none"/>
<path d="M526.0,303 C525.5,310 527.0,316 527.0,323" stroke="#e0ac66" stroke-width="0.9" fill="none"/>
<path d="M531.0,303 C530.5,310 532.5,316 532.5,323" stroke="#e0ac66" stroke-width="0.9" fill="none"/>
<path d="M537.0,303 C536.5,310 538.5,316 538.5,323" stroke="#e0ac66" stroke-width="0.9" fill="none"/>
<path d="M543.0,303 C542.5,310 544.5,316 544.5,323" stroke="#e0ac66" stroke-width="0.9" fill="none"/>
<ellipse cx="538.5" cy="331.5" rx="16" ry="9.5" fill="#f8e4bc" stroke="#d9a050" stroke-width="1"/>
<ellipse cx="540" cy="334" rx="10" ry="5" fill="#fcf0d6"/>
<path d="M523,326 C530,322 546,322 554,327" stroke="#e0ac66" stroke-width="1" fill="none"/>
<ellipse cx="553" cy="297" rx="6" ry="12" transform="rotate(-8 553 297)" fill="#eda08c" opacity="0.9"/>
<path d="M480,262 C500,268 520,276 536,283 M470,288 C490,291 510,294 530,298" stroke="#e8b872" stroke-width="1" fill="none" opacity="0.7"/>
</g>
<g>
<defs>
<linearGradient id="pulpg" x1="0" y1="0" x2="1" y2="0.5"><stop offset="0" stop-color="#d04c5c"/><stop offset="0.55" stop-color="#d75a6a"/><stop offset="1" stop-color="#f0b0bc"/></linearGradient>
<radialGradient id="pulpd" cx="0.5" cy="0.35" r="0.5"><stop offset="0" stop-color="#b83a50" stop-opacity="0.7"/><stop offset="1" stop-color="#b83a50" stop-opacity="0"/></radialGradient>
<linearGradient id="gumg" x1="0" y1="0" x2="0" y2="1"><stop offset="0" stop-color="#d87c8c"/><stop offset="0.35" stop-color="#e9aab6"/><stop offset="1" stop-color="#f4d2d8"/></linearGradient>
<linearGradient id="boneg" x1="0" y1="0" x2="0" y2="1"><stop offset="0" stop-color="#f6f4ec"/><stop offset="1" stop-color="#efebdc"/></linearGradient>
</defs>
<rect x="659" y="225" width="180" height="66.5" fill="url(#boneg)"/>
<path d="M659,243 C659,225 662,185 672,165 C680,154 692,150 700,152 L703,291 L667,291 L667,250 Z" fill="url(#gumg)"/>
<path d="M839,243 C839,225 836,190 828,172 C820,160 806,155 794,157 L793,291 L833,291 L833,250 Z" fill="url(#gumg)"/>
<path d="M666,178 C670,163 682,153 696,151 L699,163 C686,164 674,170 667,185 Z" fill="#c9687c" opacity="0.6"/>
<path d="M833,185 C829,170 817,160 800,157 L797,169 C812,170 825,176 832,192 Z" fill="#c9687c" opacity="0.6"/>
<path d="M666,291 C666,250 669,205 675,190 C679,181 686,180 690,186 C695,200 697,250 698,291 Z" fill="url(#boneg)" stroke="#7a6470" stroke-width="0.6"/>
<path d="M800,291 C801,250 803,210 808,197 C812,189 819,189 823,196 C829,210 832,250 833,291 Z" fill="url(#boneg)" stroke="#7a6470" stroke-width="0.6"/>
<path d="M693,190 C698,210 700,250 701,291 L697,291 C696,250 694,215 690,195 Z" fill="#f0c0c8"/>
<path d="M804,200 C800,220 798,250 797,291 L801,291 C802,252 803,225 807,205 Z" fill="#f0c0c8"/>
<path d="M694,156 C688,138 684,118 689,107 C695,98 715,97 733,96 C750,95 766,92.5 781,92.2 C800,93 811,103 813,118 C814,133 811,146 806,158 Z" fill="#f8f8f6" stroke="#6a6670" stroke-width="0.9"/>
<path d="M689,107 C695,98 715,97 733,96 C750,95 766,92.5 781,92.2 C800,93 811,103 813,114 C805,106 795,104 785,105 C770,106 762,107.5 748,107.5 C732,107.5 718,106 705,105 C698,105 692,106 689,109 Z" fill="#d2d6e0"/>
<path d="M701,291 C700,240 698,180 699,142 C700,131 707,127 719,127 C728,127 735,133 744,133.5 C752,133 757,127 768,127 C787,127 795,131 795,146 C795,190 795,240 792,291 Z" fill="#f4d3a8" stroke="#6a6670" stroke-width="0.8"/>
<path d="M714,291 C713,240 711,190 714,153 C715,146 720,144 727,147 C735,151 741,157 749,157 C757,155 763,148 771,147 C778,147 781,153 781,166 C781,205 782,250 784,291 L777,291 C776,250 773,190 757,176 C741,176 732,200 728,230 C725,255 722,278 721,291 Z" fill="url(#pulpg)" stroke="#8a4a5a" stroke-width="0.6"/>
<ellipse cx="750" cy="175" rx="28" ry="18" fill="url(#pulpd)"/>
<path d="M739,291 C740,250 745,212 756,210 C767,213 772,250 773,291 Z" fill="#f1c0c8" stroke="#6a6670" stroke-width="0.6"/>
<path d="M744,291 C745,255 749,222 756,220 C763,223 767,255 768,291 Z" fill="url(#boneg)" stroke="#6a6670" stroke-width="0.6"/>
<rect x="681.7" y="273.0" width="1.6" height="2.6" fill="#cbc6bc" transform="rotate(31 681.7 273.0)"/>
<rect x="682.3" y="237.9" width="1.6" height="2.6" fill="#cbc6bc" transform="rotate(31 682.3 237.9)"/>
<rect x="676.4" y="211.0" width="1.6" height="2.6" fill="#cbc6bc" transform="rotate(27 676.4 211.0)"/>
<rect x="812.4" y="222.0" width="1.6" height="2.6" fill="#cbc6bc" transform="rotate(9 812.4 222.0)"/>
<rect x="671.1" y="219.9" width="1.6" height="2.6" fill="#cbc6bc" transform="rotate(0 671.1 219.9)"/>
<rect x="672.6" y="275.4" width="1.6" height="2.6" fill="#cbc6bc" transform="rotate(37 672.6 275.4)"/>
<rect x="674.9" y="223.6" width="1.6" height="2.6" fill="#cbc6bc" transform="rotate(88 674.9 223.6)"/>
<rect x="831.2" y="232.4" width="1.6" height="2.6" fill="#cbc6bc" transform="rotate(46 831.2 232.4)"/>
<rect x="830.5" y="214.9" width="1.6" height="2.6" fill="#cbc6bc" transform="rotate(38 830.5 214.9)"/>
<rect x="822.1" y="215.0" width="1.6" height="2.6" fill="#cbc6bc" transform="rotate(45 822.1 215.0)"/>
<rect x="819.5" y="223.9" width="1.6" height="2.6" fill="#cbc6bc" transform="rotate(60 819.5 223.9)"/>
<rect x="683.5" y="281.2" width="1.6" height="2.6" fill="#cbc6bc" transform="rotate(45 683.5 281.2)"/>
<rect x="808.4" y="237.5" width="1.6" height="2.6" fill="#cbc6bc" transform="rotate(74 808.4 237.5)"/>
<rect x="686.5" y="256.8" width="1.6" height="2.6" fill="#cbc6bc" transform="rotate(25 686.5 256.8)"/>
<rect x="813.9" y="235.8" width="1.6" height="2.6" fill="#cbc6bc" transform="rotate(45 813.9 235.8)"/>
<rect x="814.0" y="218.1" width="1.6" height="2.6" fill="#cbc6bc" transform="rotate(47 814.0 218.1)"/>
<rect x="686.9" y="225.6" width="1.6" height="2.6" fill="#cbc6bc" transform="rotate(65 686.9 225.6)"/>
<rect x="830.0" y="230.7" width="1.6" height="2.6" fill="#cbc6bc" transform="rotate(89 830.0 230.7)"/>
<rect x="815.5" y="233.0" width="1.6" height="2.6" fill="#cbc6bc" transform="rotate(10 815.5 233.0)"/>
<rect x="825.3" y="284.8" width="1.6" height="2.6" fill="#cbc6bc" transform="rotate(20 825.3 284.8)"/>
<rect x="809.9" y="212.4" width="1.6" height="2.6" fill="#cbc6bc" transform="rotate(76 809.9 212.4)"/>
<rect x="814.0" y="220.9" width="1.6" height="2.6" fill="#cbc6bc" transform="rotate(81 814.0 220.9)"/>
<rect x="668.7" y="219.8" width="1.6" height="2.6" fill="#cbc6bc" transform="rotate(72 668.7 219.8)"/>
<rect x="823.1" y="218.0" width="1.6" height="2.6" fill="#cbc6bc" transform="rotate(55 823.1 218.0)"/>
<rect x="809.4" y="232.1" width="1.6" height="2.6" fill="#cbc6bc" transform="rotate(58 809.4 232.1)"/>
<rect x="688.3" y="283.2" width="1.6" height="2.6" fill="#cbc6bc" transform="rotate(58 688.3 283.2)"/>
</g>
<g>
<path d="M989,212 C990,197 1018,187 1045,187 C1072,187 1100,197 1101,212 C1101,225 1090,236 1080,243 C1074,248 1072,255 1073,262 C1074,270 1072,278 1071,286 L1066,338 L1025,338 L1019,286 C1018,278 1016,270 1017,262 C1018,255 1016,248 1010,243 C1000,236 989,225 989,212 Z" fill="#f4a68e"/>
<path d="M1003,214 C1020,212 1070,212 1087,214 C1080,230 1068,245 1062,262 L1061,286 L1029,286 L1028,262 C1022,245 1010,230 1003,214 Z" fill="#f2988a"/>
<path d="M1019,262 C1020,272 1020,280 1021,286 L1028,286 L1028,262 Z M1071,262 C1070,272 1070,280 1069,286 L1062,286 L1062,262 Z" fill="#f7b59e"/>
<path d="M1012,210 C1025,211 1035,207 1045,206.5 C1055,207 1065,211 1077,210 C1066,228 1050,250 1045,273 C1040,250 1024,228 1012,210 Z" fill="#ea6b6d"/>
<path d="M1012,210 C1024,228 1040,250 1045,273 C1050,250 1066,228 1077,210 M1012,210 C1025,211 1035,207 1045,206.5 C1055,207 1065,211 1077,210" fill="none" stroke="#b02c3a" stroke-width="1.2"/>
<path d="M1027,287.5 L1062.3,287.5 L1058.6,338 L1034.3,338 Z" fill="#ee7476"/>
<path d="M948,226 C937,219 930,211 931,201 C932,190 943,186 955,186.5 C975,188 995,199 1010,206 C1025,210 1065,210 1080,206 C1095,199 1115,188 1135,186.5 C1147,186 1158,190 1159,201 C1160,211 1153,219 1142,226" fill="none" stroke="#b9a9aa" stroke-width="9" stroke-linecap="round" opacity="0.45" transform="translate(1.2 1.6)"/>
<path d="M948,226 C937,219 930,211 931,201 C932,190 943,186 955,186.5 C975,188 995,199 1010,206 C1025,210 1065,210 1080,206 C1095,199 1115,188 1135,186.5 C1147,186 1158,190 1159,201 C1160,211 1153,219 1142,226" fill="none" stroke="#ee7a80" stroke-width="9" stroke-linecap="round"/>
<path d="M984,236 C994,231 1002,227 1013,226" stroke="#ee7a80" stroke-width="5.5" fill="none"/><path d="M1106,236 C1096,231 1088,227 1077,226" stroke="#ee7a80" stroke-width="5.5" fill="none"/>
<ellipse cx="969.0" cy="230.6" rx="22" ry="17.3" fill="#f0b030"/>
<circle cx="959.0" cy="222.6" r="4.0" fill="#f6cd72"/>
<circle cx="971.0" cy="221.6" r="4.5" fill="#f6cd72"/>
<circle cx="981.0" cy="227.6" r="4.0" fill="#f6cd72"/>
<circle cx="966.0" cy="233.6" r="4.5" fill="#f6cd72"/>
<circle cx="977.0" cy="237.6" r="4.0" fill="#f6cd72"/>
<circle cx="957.0" cy="235.6" r="3.0" fill="#f6cd72"/>
<circle cx="968.0" cy="242.6" r="3.5" fill="#f6cd72"/>
<ellipse cx="1121.0" cy="230.6" rx="22" ry="17.3" fill="#f0b030"/>
<circle cx="1111.0" cy="222.6" r="4.0" fill="#f6cd72"/>
<circle cx="1123.0" cy="221.6" r="4.5" fill="#f6cd72"/>
<circle cx="1133.0" cy="227.6" r="4.0" fill="#f6cd72"/>
<circle cx="1118.0" cy="233.6" r="4.5" fill="#f6cd72"/>
<circle cx="1129.0" cy="237.6" r="4.0" fill="#f6cd72"/>
<circle cx="1109.0" cy="235.6" r="3.0" fill="#f6cd72"/>
<circle cx="1120.0" cy="242.6" r="3.5" fill="#f6cd72"/>
</g>
<g>
<defs>
<radialGradient id="pcell" cx="0.5" cy="0.5" r="0.5"><stop offset="0" stop-color="#dcecf6"/><stop offset="0.7" stop-color="#c4e2f4"/><stop offset="0.9" stop-color="#9ed0ee"/><stop offset="1" stop-color="#86c4e8"/></radialGradient>
<linearGradient id="pliq" x1="0" y1="0" x2="0" y2="1"><stop offset="0" stop-color="#d3e4f2"/><stop offset="1" stop-color="#dbe9f5"/></linearGradient>
</defs>
<rect x="1252" y="251.5" width="241" height="176" fill="#fbf5eb"/>
<ellipse cx="1372.2" cy="355.7" rx="113.7" ry="66.9" fill="#ffffff" stroke="#a8a4a0" stroke-width="1"/>
<rect x="1258.5" y="332.5" width="227.4" height="23.2" fill="#ffffff"/>
<path d="M1258.5,332.5 L1258.5,355.7 M1485.9,332.5 L1485.9,355.7" stroke="#a8a4a0" stroke-width="1"/>
<ellipse cx="1372.2" cy="332.5" rx="113.7" ry="66.9" fill="#fbfdff" stroke="#a6b4c2" stroke-width="1"/>
<ellipse cx="1372.2" cy="332.5" rx="110" ry="63.5" fill="none" stroke="#cfe2f2" stroke-width="2"/>
<path d="M1261,348 C1264,370 1280,392 1300,404 L1300,388 C1284,378 1271,364 1266,346 Z" fill="#b7d2e8"/>
<ellipse cx="1373.5" cy="341" rx="108" ry="56" fill="url(#pliq)"/>
<path d="M1368,286 L1400,286 L1470,385 L1440,394 Z" fill="#ffffff" opacity="0.28"/>
<path d="M1405,288 L1420,290 L1468,372 L1456,378 Z" fill="#ffffff" opacity="0.3"/>
<circle cx="1361" cy="322" r="10.0" fill="url(#pcell)" stroke="#8cc8ea" stroke-width="1"/>
<circle cx="1361" cy="322" r="5.5" fill="none" stroke="#b4dcf2" stroke-width="0.8"/>
<circle cx="1361" cy="322" r="0.9" fill="#c8a0a8"/>
<circle cx="1358" cy="344" r="14.0" fill="url(#pcell)" stroke="#8cc8ea" stroke-width="1"/>
<circle cx="1358" cy="344" r="7.7" fill="none" stroke="#b4dcf2" stroke-width="0.8"/>
<circle cx="1358" cy="344" r="0.9" fill="#c8a0a8"/>
<circle cx="1343" cy="335" r="9.0" fill="url(#pcell)" stroke="#8cc8ea" stroke-width="1"/>
<circle cx="1343" cy="335" r="5.0" fill="none" stroke="#b4dcf2" stroke-width="0.8"/>
<circle cx="1343" cy="335" r="0.9" fill="#c8a0a8"/>
<circle cx="1333" cy="344" r="8.0" fill="url(#pcell)" stroke="#8cc8ea" stroke-width="1"/>
<circle cx="1333" cy="344" r="4.4" fill="none" stroke="#b4dcf2" stroke-width="0.8"/>
<circle cx="1333" cy="344" r="0.9" fill="#c8a0a8"/>
<circle cx="1317" cy="333" r="7.0" fill="url(#pcell)" stroke="#8cc8ea" stroke-width="1"/>
<circle cx="1317" cy="333" r="3.9" fill="none" stroke="#b4dcf2" stroke-width="0.8"/>
<circle cx="1317" cy="333" r="0.9" fill="#c8a0a8"/>
<circle cx="1330" cy="330" r="6.0" fill="url(#pcell)" stroke="#8cc8ea" stroke-width="1"/>
<circle cx="1330" cy="330" r="3.3" fill="none" stroke="#b4dcf2" stroke-width="0.8"/>
<circle cx="1330" cy="330" r="0.9" fill="#c8a0a8"/>
<circle cx="1332" cy="358" r="8.0" fill="url(#pcell)" stroke="#8cc8ea" stroke-width="1"/>
<circle cx="1332" cy="358" r="4.4" fill="none" stroke="#b4dcf2" stroke-width="0.8"/>
<circle cx="1332" cy="358" r="0.9" fill="#c8a0a8"/>
<circle cx="1314" cy="349" r="4.0" fill="url(#pcell)" stroke="#8cc8ea" stroke-width="1"/>
<circle cx="1314" cy="349" r="2.2" fill="none" stroke="#b4dcf2" stroke-width="0.8"/>
<circle cx="1314" cy="349" r="0.9" fill="#c8a0a8"/>
<circle cx="1385" cy="330" r="8.0" fill="url(#pcell)" stroke="#8cc8ea" stroke-width="1"/>
<circle cx="1385" cy="330" r="4.4" fill="none" stroke="#b4dcf2" stroke-width="0.8"/>
<circle cx="1385" cy="330" r="0.9" fill="#c8a0a8"/>
<circle cx="1410" cy="337" r="10.0" fill="url(#pcell)" stroke="#8cc8ea" stroke-width="1"/>
<circle cx="1410" cy="337" r="5.5" fill="none" stroke="#b4dcf2" stroke-width="0.8"/>
<circle cx="1410" cy="337" r="0.9" fill="#c8a0a8"/>
<circle cx="1416" cy="350" r="8.0" fill="url(#pcell)" stroke="#8cc8ea" stroke-width="1"/>
<circle cx="1416" cy="350" r="4.4" fill="none" stroke="#b4dcf2" stroke-width="0.8"/>
<circle cx="1416" cy="350" r="0.9" fill="#c8a0a8"/>
<circle cx="1421" cy="330" r="6.0" fill="url(#pcell)" stroke="#8cc8ea" stroke-width="1"/>
<circle cx="1421" cy="330" r="3.3" fill="none" stroke="#b4dcf2" stroke-width="0.8"/>
<circle cx="1421" cy="330" r="0.9" fill="#c8a0a8"/>
<circle cx="1430" cy="337" r="7.0" fill="url(#pcell)" stroke="#8cc8ea" stroke-width="1"/>
<circle cx="1430" cy="337" r="3.9" fill="none" stroke="#b4dcf2" stroke-width="0.8"/>
<circle cx="1430" cy="337" r="0.9" fill="#c8a0a8"/>
<circle cx="1433" cy="326" r="5.0" fill="url(#pcell)" stroke="#8cc8ea" stroke-width="1"/>
<circle cx="1433" cy="326" r="2.8" fill="none" stroke="#b4dcf2" stroke-width="0.8"/>
<circle cx="1433" cy="326" r="0.9" fill="#c8a0a8"/>
<circle cx="1431" cy="347" r="5.0" fill="url(#pcell)" stroke="#8cc8ea" stroke-width="1"/>
<circle cx="1431" cy="347" r="2.8" fill="none" stroke="#b4dcf2" stroke-width="0.8"/>
<circle cx="1431" cy="347" r="0.9" fill="#c8a0a8"/>
<circle cx="1414" cy="309" r="6.5" fill="url(#pcell)" stroke="#8cc8ea" stroke-width="1"/>
<circle cx="1414" cy="309" r="3.6" fill="none" stroke="#b4dcf2" stroke-width="0.8"/>
<circle cx="1414" cy="309" r="0.9" fill="#c8a0a8"/>
<circle cx="1406" cy="325" r="4.0" fill="url(#pcell)" stroke="#8cc8ea" stroke-width="1"/>
<circle cx="1406" cy="325" r="2.2" fill="none" stroke="#b4dcf2" stroke-width="0.8"/>
<circle cx="1406" cy="325" r="0.9" fill="#c8a0a8"/>
</g>
<g>
<defs>
<radialGradient id="mcell" cx="0.52" cy="0.5" r="0.55"><stop offset="0" stop-color="#a9cbea"/><stop offset="0.55" stop-color="#9cc2e6"/><stop offset="1" stop-color="#6c9fd2"/></radialGradient>
<linearGradient id="mcell2" x1="0" y1="0" x2="0" y2="1"><stop offset="0" stop-color="#d3e3f3"/><stop offset="1" stop-color="#b9d1ea"/></linearGradient>
<linearGradient id="nuc" x1="0" y1="0" x2="0" y2="1"><stop offset="0" stop-color="#6698c8"/><stop offset="0.7" stop-color="#578ec4"/><stop offset="1" stop-color="#3f7cb8"/></linearGradient>
<filter id="blur8" x="-20%" y="-50%" width="140%" height="200%"><feGaussianBlur stdDeviation="9"/></filter>
<filter id="blur4" x="-20%" y="-50%" width="140%" height="200%"><feGaussianBlur stdDeviation="5"/></filter>
</defs>
<ellipse cx="760" cy="850" rx="175" ry="22" fill="#d3dae4" opacity="0.5" filter="url(#blur8)"/>
<ellipse cx="765" cy="840" rx="135" ry="12" fill="#b4bfd0" opacity="0.55" filter="url(#blur4)"/>
<ellipse cx="940" cy="752" rx="70" ry="12" fill="#cfd8e4" opacity="0.5" filter="url(#blur4)"/>
<path d="M748.7,649 C760,652 770,655 778,657 C776,652 775,648 774.8,643.2 C779,648 781,652 784,655 C784,648 784,640 784.4,631.6 C788,640 790,648 792,654 C805,652 830,652 845,656 C850,660 853,666 855.9,671.2 C848,672 842,674 838,676 C820,680 800,680 785,677 C780,680 776,681 772.8,682.8 C774,680 776,677 777,675 C768,677 758,678 747.7,679 C758,674 768,671 776,668 C768,660 758,654 748.7,649 Z" fill="#d7e5f4" stroke="#bccfe6" stroke-width="0.8"/>
<ellipse cx="813" cy="666" rx="30" ry="9" fill="#dfeaf6" opacity="0.8"/>
<ellipse cx="818.7" cy="664.5" rx="12" ry="6.7" fill="#b3c6e0"/>
<path d="M838,670 C845,676 850,682 853,689 L858,687 C853,680 847,673 842,668 Z" fill="#cfe0f1"/>
<path d="M789.3,687.2 C805,692 825,698 840.5,699.2 C848,697 853,690 855,683 C857,672 858,660 858.8,650.9 C866,660 878,674 890.7,679.9 C900,685 915,690 933.2,693.4 C950,696 970,697.5 981.5,697.3 C992,694 1004,690 1014.3,688.6 C1002,695 993,700 990,708 C988,716 990,721 993.1,724.3 C998,729 1004,732 1010.5,735 C1002,735 994,735 988,738.5 C984,742 984,746 986,750 C992,758 998,765 1003.7,772.6 C995,765 986,755 979.6,749 C970,747 960,747.5 952.5,747.5 C940,747 925,746 904.2,743.6 L848,736 C843,728 841,722 840.5,716.6 C838,710 835,708 832.7,707 C822,701 808,695 789.3,687.2 Z" fill="#c9dcef" stroke="#a9c4e2" stroke-width="0.8"/>
<ellipse cx="908" cy="720" rx="58" ry="25" fill="#d4e3f3" opacity="0.75"/>
<path d="M904,712 C904,706 910,704 918,705 C930,707 945,707 951,711 C955,716 953,726 946,728 C935,729 920,727 912,724 C906,721 904,717 904,712 Z" fill="#a6bbda"/>
<clipPath id="mainclip"><path d="M508.9,719.3 C530,724 570,736 598.9,742.2 C612,742 622,738 624,730 C626,718 618,705 605,695.4 C620,700 632,710 638.8,714.5 C645,719 660,720 668,716 C676,705 675,690 668,681 C662,670 652,660 642.2,650.4 C660,662 680,685 692,697 C705,710 725,718 761.3,727.4 C790,735 820,743 843.9,742.9 C865,743 890,737 905.9,729.5 C915,726 928,723 938.9,722.2 C925,730 905,740 897,752 C890,765 890,785 898,795 C906,803 918,808 931.7,812.1 C918,812 900,806 888,810 C880,818 882,832 890,846 C898,860 908,872 917.2,881.3 C900,870 885,855 872,838 C862,826 850,820 835,821 C810,826 780,836 754.8,839.2 C740,838 725,832 702.9,821.9 C690,818 675,818 659.6,823.6 C645,830 625,843 598.1,852.2 C612,842 625,833 630.1,823.6 C625,819 615,819 598.9,825.3 C570,832 540,836 507.1,835.7 C540,828 580,818 602.4,804.6 C612,795 612,780 606,771.6 C595,757 565,745 508.9,719.3 Z"/></clipPath>
<path d="M508.9,719.3 C530,724 570,736 598.9,742.2 C612,742 622,738 624,730 C626,718 618,705 605,695.4 C620,700 632,710 638.8,714.5 C645,719 660,720 668,716 C676,705 675,690 668,681 C662,670 652,660 642.2,650.4 C660,662 680,685 692,697 C705,710 725,718 761.3,727.4 C790,735 820,743 843.9,742.9 C865,743 890,737 905.9,729.5 C915,726 928,723 938.9,722.2 C925,730 905,740 897,752 C890,765 890,785 898,795 C906,803 918,808 931.7,812.1 C918,812 900,806 888,810 C880,818 882,832 890,846 C898,860 908,872 917.2,881.3 C900,870 885,855 872,838 C862,826 850,820 835,821 C810,826 780,836 754.8,839.2 C740,838 725,832 702.9,821.9 C690,818 675,818 659.6,823.6 C645,830 625,843 598.1,852.2 C612,842 625,833 630.1,823.6 C625,819 615,819 598.9,825.3 C570,832 540,836 507.1,835.7 C540,828 580,818 602.4,804.6 C612,795 612,780 606,771.6 C595,757 565,745 508.9,719.3 Z" fill="url(#mcell)" stroke="#4f86c0" stroke-width="1"/>
<path d="M628,765 C640,745 680,737 730,737 C790,737 850,745 880,760 C895,775 890,800 870,812 C840,822 780,822 720,818 C670,814 640,806 630,792 C624,783 624,773 628,765 Z" fill="#a2c6e8" opacity="0.85"/>
<linearGradient id="lband" gradientUnits="userSpaceOnUse" x1="590" y1="0" x2="910" y2="0"><stop offset="0" stop-color="#d0e3f5" stop-opacity="0.95"/><stop offset="0.5" stop-color="#c8ddf2" stop-opacity="0.75"/><stop offset="1" stop-color="#c0d8f0" stop-opacity="0"/></linearGradient>
<path d="M588.5,747.4 C598,744 610,743 616.3,742.2 C626,738 632,728 638.8,721.4 C648,717 660,716 668.2,716.2 C680,714 690,712 694.2,712.8 C705,715 712,718 720.2,719.7 C735,724 750,727 761.3,729 C790,736 820,744 843.9,744 C865,744 890,737 905,731 C890,741 865,749 843.9,750 C815,750 790,744 761,739 C745,737 735,735 720,735 C705,734 695,734 685.5,734.4 C670,736 660,738 650.9,740.5 C640,744 633,748 630.1,752.6 C625,760 623,766 621.5,771.6 C612,762 600,755 588.5,750.9 Z" fill="url(#lband)"/>
<linearGradient id="lowov" gradientUnits="userSpaceOnUse" x1="0" y1="775" x2="0" y2="845"><stop offset="0" stop-color="#6a9ed2" stop-opacity="0"/><stop offset="1" stop-color="#6a9ed2" stop-opacity="0.6"/></linearGradient>
<path d="M500,770 L950,770 L950,890 L500,890 Z" fill="url(#lowov)" clip-path="url(#mainclip)"/>
<path d="M659.6,823.6 C675,818 690,818 702.9,821.9 C725,832 740,838 754.8,839.2 C780,836 810,826 835,821 C850,820 862,826 872,838 C866,826 858,814 846,810 C830,808 815,818 800,821 C780,825 760,826 746,825 C725,823 710,816 693,816 C680,816 668,819 659.6,823.6 Z" fill="#5a90ca"/>
<path d="M588,748 C600,742 615,745 628,752 C622,758 612,760 600,757 C594,754 590,751 588,748 Z" fill="#d3e5f5" opacity="0.9"/>
<path d="M628,784 C638,790 648,798 658,806 C652,808 645,804 638,797 C633,792 629,788 628,784 Z" fill="#d3e5f5" opacity="0.9"/>
<path d="M680,718 C700,716 720,720 735,726 C715,728 695,727 680,718 Z" fill="#d3e5f5" opacity="0.8"/>
<path d="M827,752 C835,752 842,758 845,768 C840,766 834,760 827,752 Z" fill="#d3e5f5" opacity="0.9"/>
<path d="M730.3,764.6 C735,755 745,752 755,753.2 C770,755 785,760 800,762 C812,763 820,768 821.2,779 C822,792 812,798 800,800 C785,802 765,802 751,799.7 C738,797 730,790 729,780 C728.5,773 729,768 730.3,764.6 Z" fill="url(#nuc)"/>
<path d="M732,786 C740,795 760,799 785,799 C805,798 817,792 820,782 C818,795 808,801 790,802 C765,803 745,801 735,794 Z" fill="#3b78b4"/>
</g>
<g>
<defs>
<linearGradient id="fat" x1="0" y1="0" x2="1" y2="0.3"><stop offset="0" stop-color="#f6b870"/><stop offset="0.35" stop-color="#fbd488"/><stop offset="0.75" stop-color="#fac67a"/><stop offset="1" stop-color="#f19a6a"/></linearGradient>
<linearGradient id="fat2" x1="0" y1="0" x2="0" y2="1"><stop offset="0.5" stop-color="#ffffff" stop-opacity="0"/><stop offset="1" stop-color="#f8e6e0" stop-opacity="0.75"/></linearGradient>
<linearGradient id="nucp" x1="0" y1="0" x2="1" y2="1"><stop offset="0" stop-color="#6a3a8c"/><stop offset="1" stop-color="#9a6ab8"/></linearGradient>
</defs>
<circle cx="104.3" cy="1147.0" r="48.5" fill="#f9e2d8" stroke="#d9a487" stroke-width="1.1"/>
<circle cx="108.7" cy="1150.9" r="42.7" fill="url(#fat)" stroke="#e29a7a" stroke-width="1"/>
<circle cx="108.7" cy="1150.9" r="42.7" fill="url(#fat2)"/>
<ellipse cx="78.0" cy="1123.3" rx="12.1" ry="7.3" transform="rotate(-55 78.0 1123.3)" fill="url(#nucp)"/>
<ellipse cx="93.5" cy="1106.7" rx="6.3" ry="2.9" transform="rotate(-20 93.5 1106.7)" fill="#e7a08c" stroke="#d08878" stroke-width="0.6"/>
<ellipse cx="62.7" cy="1143.4" rx="6.3" ry="2.9" transform="rotate(-80 62.7 1143.4)" fill="#e7a08c" stroke="#d08878" stroke-width="0.6"/>
<circle cx="213.0" cy="1177.8" r="46.0" fill="#f9e2d8" stroke="#d9a487" stroke-width="1.1"/>
<circle cx="217.1" cy="1181.5" r="40.5" fill="url(#fat)" stroke="#e29a7a" stroke-width="1"/>
<circle cx="217.1" cy="1181.5" r="40.5" fill="url(#fat2)"/>
<ellipse cx="188.0" cy="1155.3" rx="11.5" ry="6.9" transform="rotate(-55 188.0 1155.3)" fill="url(#nucp)"/>
<ellipse cx="202.8" cy="1139.6" rx="6.0" ry="2.8" transform="rotate(-20 202.8 1139.6)" fill="#e7a08c" stroke="#d08878" stroke-width="0.6"/>
<ellipse cx="173.6" cy="1174.4" rx="6.0" ry="2.8" transform="rotate(-80 173.6 1174.4)" fill="#e7a08c" stroke="#d08878" stroke-width="0.6"/>
<circle cx="147.8" cy="1244.0" r="46.0" fill="#f9e2d8" stroke="#d9a487" stroke-width="1.1"/>
<circle cx="151.9" cy="1247.7" r="40.5" fill="url(#fat)" stroke="#e29a7a" stroke-width="1"/>
<circle cx="151.9" cy="1247.7" r="40.5" fill="url(#fat2)"/>
<ellipse cx="122.8" cy="1221.5" rx="11.5" ry="6.9" transform="rotate(-55 122.8 1221.5)" fill="url(#nucp)"/>
<ellipse cx="137.6" cy="1205.8" rx="6.0" ry="2.8" transform="rotate(-20 137.6 1205.8)" fill="#e7a08c" stroke="#d08878" stroke-width="0.6"/>
<ellipse cx="108.4" cy="1240.6" rx="6.0" ry="2.8" transform="rotate(-80 108.4 1240.6)" fill="#e7a08c" stroke="#d08878" stroke-width="0.6"/>
</g>
<g>
<defs>
<radialGradient id="chin" cx="0.5" cy="0.45" r="0.6"><stop offset="0" stop-color="#fcf8e4"/><stop offset="0.45" stop-color="#eee6c0"/><stop offset="0.6" stop-color="#e8dfb0"/><stop offset="0.8" stop-color="#f5ecc4"/><stop offset="1" stop-color="#f0da90"/></radialGradient>
<linearGradient id="chn" x1="0" y1="0" x2="0" y2="1"><stop offset="0" stop-color="#8c8418"/><stop offset="1" stop-color="#d4c838"/></linearGradient>
</defs>
<path d="M372,1300 C366,1282 375,1255 400,1240 C425,1226 450,1222 470,1224 C495,1228 518,1245 525,1265 C527,1275 525,1285 522,1294 C480,1298 420,1301 372,1300 Z" fill="#f5c862" stroke="#cd8630" stroke-width="1.8"/>
<path d="M362,1306 C420,1305 480,1304 532,1302 C534,1320 528,1345 510,1365 C495,1382 470,1397 448,1397 C425,1397 400,1382 385,1360 C372,1342 363,1322 362,1306 Z" fill="#f5c862" stroke="#cd8630" stroke-width="1.8"/>
<path d="M390,1290 C385,1270 398,1250 420,1240 C445,1232 480,1232 500,1245 C515,1255 516,1275 512,1288 C470,1292 430,1293 390,1290 Z" fill="url(#chin)"/>
<path d="M382,1316 C420,1314 480,1313 515,1313 C516,1330 508,1350 495,1365 C480,1380 465,1386 448,1386 C428,1386 408,1375 398,1358 C390,1345 384,1330 382,1316 Z" fill="url(#chin)"/>
<ellipse cx="451.5" cy="1264.5" rx="31" ry="13" fill="url(#chn)" stroke="#f8f4d8" stroke-width="1.2"/>
<path d="M411,1343 C415,1336 430,1334 446,1334 C465,1334 475,1339 476,1349 C476,1357 465,1361 447,1361 C430,1360 415,1355 411,1343 Z" fill="url(#chn)" stroke="#f8f4d8" stroke-width="1.2"/>
</g>
<g>
<defs>
<linearGradient id="ost" x1="0" y1="0" x2="0" y2="1"><stop offset="0" stop-color="#f8f4cc"/><stop offset="0.86" stop-color="#f5efc2"/><stop offset="0.93" stop-color="#ecd4a4"/><stop offset="0.97" stop-color="#d49060"/><stop offset="1" stop-color="#b8603c"/></linearGradient>
</defs>
<rect x="605.9" y="1288.3" width="100.1" height="141.7" rx="16" ry="16" fill="url(#ost)"/>
<rect x="707.8" y="1288.3" width="97.4" height="143.7" rx="16" ry="16" fill="url(#ost)"/>
<rect x="807.4" y="1289.4" width="102.0" height="142.6" rx="16" ry="16" fill="url(#ost)"/>
<ellipse cx="656.8" cy="1386.8" rx="30.6" ry="29.4" fill="#4858c0"/>
<ellipse cx="656.8" cy="1363.9" rx="18.4" ry="5.3" fill="#8c94e0" opacity="0.7"/>
<ellipse cx="756.5" cy="1386.8" rx="30.0" ry="29.4" fill="#4858c0"/>
<ellipse cx="756.5" cy="1363.9" rx="18.0" ry="5.3" fill="#8c94e0" opacity="0.7"/>
<ellipse cx="857.3" cy="1384.6" rx="32.0" ry="30.0" fill="#4858c0"/>
<ellipse cx="857.3" cy="1361.2" rx="19.2" ry="5.4" fill="#8c94e0" opacity="0.7"/>
</g>
<g>
<defs><radialGradient id="soma" gradientUnits="userSpaceOnUse" cx="1040" cy="1303" r="30"><stop offset="0" stop-color="#d8e2e2"/><stop offset="0.35" stop-color="#a8d8de"/><stop offset="1" stop-color="#3db3c5"/></radialGradient></defs>
<g fill="#3db3c5">
<path d="M1051.4,1280.2 L1051.7,1279.1 L1052.2,1277.5 L1052.8,1275.7 L1053.4,1273.6 L1054.1,1271.6 L1054.6,1269.7 L1055.0,1268.0 L1055.5,1266.2 L1056.0,1264.4 L1056.4,1262.5 L1056.8,1260.5 L1056.9,1258.4 L1056.9,1256.5 L1056.8,1254.6 L1056.5,1252.7 L1056.1,1250.8 L1055.5,1248.9 L1054.8,1247.0 L1053.9,1245.2 L1052.8,1243.4 L1051.6,1241.6 L1050.3,1239.9 L1049.0,1238.2 L1047.5,1236.7 L1045.9,1235.2 L1044.0,1233.6 L1042.1,1232.2 L1040.3,1230.9 L1038.8,1229.9 L1037.7,1229.2 L1036.3,1230.8 L1037.3,1231.8 L1038.6,1233.1 L1040.1,1234.5 L1041.8,1236.1 L1043.3,1237.8 L1044.5,1239.3 L1045.5,1240.9 L1046.5,1242.5 L1047.4,1244.2 L1048.1,1245.8 L1048.8,1247.5 L1049.2,1249.0 L1049.5,1250.4 L1049.6,1251.9 L1049.6,1253.3 L1049.5,1254.7 L1049.4,1256.2 L1049.1,1257.6 L1048.7,1258.9 L1048.2,1260.2 L1047.6,1261.6 L1046.9,1263.1 L1046.2,1264.7 L1045.4,1266.3 L1044.6,1268.0 L1043.8,1269.8 L1042.8,1271.6 L1042.0,1273.3 L1041.2,1274.7 L1040.6,1275.8 Z"/>
<path d="M1053.6,1251.4 L1054.2,1250.5 L1055.0,1249.5 L1056.1,1248.2 L1057.2,1246.8 L1058.3,1245.4 L1059.3,1244.1 L1060.2,1242.9 L1061.2,1241.7 L1062.2,1240.5 L1063.2,1239.3 L1064.2,1238.0 L1065.1,1236.8 L1065.9,1235.4 L1066.6,1234.0 L1067.3,1232.6 L1068.0,1231.3 L1068.4,1230.2 L1068.8,1229.4 L1067.2,1228.6 L1066.7,1229.3 L1066.1,1230.3 L1065.4,1231.5 L1064.6,1232.8 L1063.8,1234.1 L1062.9,1235.2 L1062.0,1236.3 L1061.1,1237.4 L1060.0,1238.5 L1058.9,1239.6 L1057.8,1240.8 L1056.7,1241.9 L1055.6,1243.1 L1054.4,1244.4 L1053.2,1245.7 L1052.1,1246.9 L1051.1,1247.9 L1050.4,1248.6 Z"/>
<path d="M1055.7,1257.8 L1056.9,1257.2 L1058.6,1256.5 L1060.4,1255.6 L1062.4,1254.7 L1064.4,1254.0 L1066.2,1253.6 L1068.1,1253.3 L1070.1,1253.2 L1072.1,1253.2 L1074.1,1253.4 L1075.9,1253.7 L1077.5,1254.1 L1079.0,1254.9 L1080.5,1256.0 L1082.0,1257.3 L1083.4,1258.6 L1084.5,1259.8 L1085.4,1260.6 L1086.6,1259.4 L1085.8,1258.5 L1084.8,1257.3 L1083.5,1255.8 L1082.0,1254.3 L1080.3,1252.9 L1078.5,1251.9 L1076.5,1251.2 L1074.5,1250.7 L1072.3,1250.4 L1070.1,1250.3 L1067.9,1250.3 L1065.8,1250.4 L1063.6,1250.8 L1061.3,1251.5 L1059.1,1252.3 L1057.1,1253.1 L1055.4,1253.8 L1054.3,1254.2 Z"/>
<path d="M1048.2,1240.5 L1048.5,1239.8 L1048.8,1238.7 L1049.2,1237.6 L1049.7,1236.4 L1050.2,1235.5 L1050.7,1234.8 L1051.4,1234.3 L1052.3,1233.9 L1053.4,1233.5 L1054.5,1233.2 L1055.5,1233.0 L1056.2,1232.8 L1055.8,1231.2 L1055.1,1231.4 L1054.2,1231.5 L1053.0,1231.7 L1051.7,1232.1 L1050.4,1232.5 L1049.3,1233.2 L1048.4,1234.2 L1047.7,1235.4 L1047.0,1236.7 L1046.5,1237.9 L1046.1,1238.8 L1045.8,1239.5 Z"/>
<path d="M1059.3,1243.1 L1060.1,1243.5 L1061.1,1244.2 L1062.4,1245.0 L1063.9,1245.8 L1065.3,1246.5 L1066.7,1247.0 L1068.1,1247.2 L1069.6,1247.2 L1071.0,1247.2 L1072.3,1247.0 L1073.3,1246.9 L1074.0,1246.8 L1074.0,1245.2 L1073.2,1245.2 L1072.1,1245.3 L1070.9,1245.3 L1069.6,1245.3 L1068.4,1245.2 L1067.3,1245.0 L1066.2,1244.5 L1065.0,1243.8 L1063.7,1243.0 L1062.5,1242.2 L1061.4,1241.4 L1060.7,1240.9 Z"/>
<path d="M1056.5,1263.2 L1057.3,1263.5 L1058.5,1263.9 L1059.8,1264.4 L1061.2,1264.9 L1062.5,1265.4 L1063.5,1265.9 L1064.4,1266.3 L1065.2,1266.8 L1065.9,1267.4 L1066.5,1267.8 L1067.1,1268.3 L1067.5,1268.6 L1068.5,1267.4 L1068.1,1267.1 L1067.6,1266.6 L1067.0,1266.0 L1066.2,1265.4 L1065.4,1264.7 L1064.5,1264.1 L1063.4,1263.5 L1062.1,1262.9 L1060.7,1262.2 L1059.4,1261.7 L1058.3,1261.2 L1057.5,1260.8 Z"/>
<path d="M1068.0,1231.3 L1068.2,1231.9 L1068.5,1232.7 L1068.8,1233.7 L1069.2,1234.7 L1069.7,1235.7 L1070.4,1236.6 L1071.3,1237.2 L1072.3,1237.7 L1073.4,1238.0 L1074.4,1238.3 L1075.2,1238.5 L1075.8,1238.6 L1076.2,1237.4 L1075.6,1237.2 L1074.8,1236.9 L1073.9,1236.6 L1072.9,1236.2 L1072.1,1235.8 L1071.6,1235.4 L1071.2,1234.8 L1070.9,1234.0 L1070.6,1233.1 L1070.3,1232.1 L1070.2,1231.3 L1070.0,1230.7 Z"/>
<path d="M1007.7,1286.3 L1006.7,1285.6 L1005.4,1284.4 L1003.9,1283.1 L1002.2,1281.6 L1000.6,1280.1 L999.0,1278.8 L997.6,1277.7 L996.2,1276.6 L994.8,1275.4 L993.3,1274.2 L991.7,1273.1 L990.0,1272.1 L988.2,1271.1 L986.4,1270.3 L984.6,1269.6 L982.9,1269.0 L981.0,1268.3 L979.1,1267.5 L977.0,1266.7 L974.7,1265.9 L972.4,1265.0 L970.0,1264.1 L967.9,1263.2 L965.9,1262.4 L964.1,1261.5 L962.3,1260.4 L960.5,1259.4 L959.0,1258.5 L957.6,1257.7 L956.6,1257.1 L955.4,1258.9 L956.2,1259.6 L957.4,1260.6 L958.9,1261.8 L960.5,1263.1 L962.3,1264.4 L964.1,1265.6 L966.1,1266.8 L968.3,1268.0 L970.5,1269.2 L972.8,1270.3 L974.9,1271.4 L976.9,1272.5 L978.7,1273.5 L980.4,1274.4 L982.0,1275.3 L983.4,1276.1 L984.8,1277.0 L986.0,1277.9 L987.2,1279.0 L988.3,1280.1 L989.5,1281.2 L990.6,1282.5 L991.8,1283.8 L993.0,1285.2 L994.3,1286.6 L995.7,1288.2 L997.1,1289.8 L998.4,1291.3 L999.5,1292.7 L1000.3,1293.7 Z"/>
<path d="M967.3,1265.6 L966.2,1266.3 L964.7,1267.2 L963.0,1268.2 L961.1,1269.3 L959.3,1270.2 L957.7,1270.9 L956.0,1271.3 L954.2,1271.6 L952.3,1271.8 L950.6,1272.0 L949.1,1272.1 L948.0,1272.2 L948.0,1273.8 L949.1,1273.8 L950.6,1273.8 L952.4,1273.8 L954.4,1273.7 L956.4,1273.5 L958.3,1273.1 L960.3,1272.5 L962.3,1271.6 L964.3,1270.6 L966.1,1269.7 L967.6,1268.9 L968.7,1268.4 Z"/>
<path d="M979.1,1269.1 L978.4,1268.3 L977.3,1267.0 L976.1,1265.6 L974.9,1264.1 L973.8,1262.7 L973.0,1261.5 L972.4,1260.4 L971.9,1259.3 L971.5,1258.2 L971.2,1257.3 L971.0,1256.4 L970.8,1255.8 L969.2,1256.2 L969.4,1256.8 L969.5,1257.7 L969.7,1258.8 L970.0,1260.0 L970.4,1261.2 L971.0,1262.5 L971.9,1264.0 L973.0,1265.5 L974.1,1267.2 L975.3,1268.7 L976.2,1270.0 L976.9,1270.9 Z"/>
<path d="M989.5,1273.4 L989.7,1272.5 L990.0,1271.3 L990.4,1269.8 L990.8,1268.2 L991.1,1266.6 L991.3,1265.2 L991.4,1263.8 L991.4,1262.5 L991.4,1261.2 L991.3,1259.9 L991.2,1258.8 L991.0,1257.8 L990.7,1256.8 L990.2,1256.1 L989.7,1255.5 L989.2,1255.0 L988.8,1254.7 L988.6,1254.5 L987.4,1255.5 L987.6,1255.8 L988.0,1256.2 L988.3,1256.7 L988.6,1257.1 L988.8,1257.6 L989.0,1258.2 L989.1,1259.0 L989.1,1260.1 L989.1,1261.2 L989.0,1262.4 L988.9,1263.6 L988.7,1264.8 L988.4,1266.1 L988.1,1267.6 L987.6,1269.1 L987.2,1270.5 L986.8,1271.7 L986.5,1272.6 Z"/>
<path d="M1004.7,1289.2 L1003.9,1288.9 L1002.9,1288.3 L1001.6,1287.5 L1000.1,1286.8 L998.6,1286.0 L997.1,1285.4 L995.7,1285.0 L994.4,1284.6 L993.0,1284.3 L991.6,1284.0 L990.0,1283.8 L988.2,1283.7 L986.2,1283.6 L984.0,1283.6 L981.7,1283.7 L979.3,1283.8 L977.0,1283.9 L974.8,1284.2 L972.8,1284.5 L970.8,1284.9 L968.8,1285.3 L967.0,1285.8 L965.3,1286.2 L963.7,1286.7 L962.2,1287.1 L960.8,1287.6 L959.5,1288.0 L958.3,1288.5 L957.4,1288.8 L956.7,1289.1 L957.3,1290.9 L958.0,1290.7 L959.0,1290.5 L960.1,1290.2 L961.4,1289.9 L962.8,1289.6 L964.3,1289.3 L965.9,1289.1 L967.6,1288.8 L969.4,1288.5 L971.3,1288.2 L973.2,1288.0 L975.2,1287.8 L977.2,1287.8 L979.4,1287.8 L981.7,1287.8 L983.9,1287.9 L986.0,1288.1 L987.8,1288.3 L989.3,1288.6 L990.6,1288.9 L991.7,1289.2 L992.8,1289.6 L993.8,1290.1 L994.9,1290.6 L996.0,1291.2 L997.2,1291.9 L998.4,1292.7 L999.6,1293.5 L1000.6,1294.2 L1001.3,1294.8 Z"/>
<path d="M973.8,1285.9 L973.1,1286.8 L972.0,1288.1 L970.7,1289.5 L969.3,1291.1 L968.0,1292.7 L966.9,1294.3 L966.1,1295.7 L965.3,1297.1 L964.7,1298.5 L964.1,1299.9 L963.6,1301.2 L963.0,1302.6 L962.5,1304.1 L961.9,1305.6 L961.4,1307.2 L960.9,1308.6 L960.5,1309.9 L960.3,1310.7 L961.7,1311.3 L962.1,1310.4 L962.6,1309.2 L963.1,1307.8 L963.7,1306.3 L964.3,1304.8 L965.0,1303.4 L965.6,1302.1 L966.2,1300.8 L966.8,1299.5 L967.5,1298.2 L968.2,1297.0 L969.1,1295.7 L970.1,1294.4 L971.4,1292.9 L972.8,1291.5 L974.2,1290.1 L975.3,1288.9 L976.2,1288.1 Z"/>
<path d="M1050.0,1304.8 L1050.9,1304.7 L1052.0,1304.5 L1053.3,1304.3 L1054.7,1304.2 L1056.3,1304.0 L1057.9,1303.9 L1059.5,1303.8 L1061.3,1303.6 L1063.1,1303.5 L1065.1,1303.5 L1067.3,1303.4 L1069.8,1303.4 L1072.6,1303.4 L1075.8,1303.5 L1079.2,1303.6 L1082.8,1303.7 L1086.3,1303.8 L1089.7,1303.9 L1093.1,1304.1 L1096.5,1304.2 L1099.9,1304.4 L1103.3,1304.6 L1106.6,1304.8 L1109.8,1304.9 L1113.0,1305.1 L1116.3,1305.4 L1119.6,1305.6 L1122.5,1305.8 L1125.0,1305.9 L1126.9,1306.0 L1127.1,1304.0 L1125.3,1303.7 L1122.9,1303.2 L1119.9,1302.7 L1116.7,1302.1 L1113.4,1301.6 L1110.2,1301.1 L1107.1,1300.6 L1103.8,1300.1 L1100.4,1299.5 L1097.0,1299.0 L1093.6,1298.6 L1090.3,1298.1 L1086.8,1297.6 L1083.3,1297.2 L1079.8,1296.8 L1076.3,1296.3 L1073.1,1296.0 L1070.2,1295.6 L1067.7,1295.3 L1065.5,1295.0 L1063.4,1294.8 L1061.6,1294.5 L1059.8,1294.3 L1058.1,1294.1 L1056.4,1293.9 L1054.7,1293.8 L1053.2,1293.6 L1051.9,1293.5 L1050.8,1293.3 L1050.0,1293.2 Z"/>
<path d="M1097.1,1302.7 L1097.5,1301.9 L1098.1,1300.8 L1098.8,1299.5 L1099.6,1298.1 L1100.3,1296.8 L1100.9,1295.5 L1101.5,1294.2 L1102.0,1292.8 L1102.5,1291.4 L1103.0,1290.1 L1103.4,1289.1 L1103.7,1288.3 L1102.3,1287.7 L1102.0,1288.5 L1101.5,1289.5 L1101.0,1290.7 L1100.3,1292.0 L1099.7,1293.4 L1099.1,1294.5 L1098.4,1295.7 L1097.6,1297.0 L1096.8,1298.4 L1096.0,1299.6 L1095.4,1300.6 L1094.9,1301.3 Z"/>
<path d="M1108.9,1303.9 L1109.6,1303.2 L1110.7,1302.1 L1111.9,1300.8 L1113.3,1299.4 L1114.6,1298.0 L1115.8,1296.7 L1116.9,1295.2 L1118.0,1293.7 L1119.1,1292.1 L1120.1,1290.6 L1121.0,1289.3 L1121.6,1288.4 L1120.4,1287.6 L1119.7,1288.4 L1118.8,1289.6 L1117.7,1291.1 L1116.6,1292.6 L1115.4,1294.0 L1114.2,1295.3 L1113.0,1296.6 L1111.7,1297.9 L1110.3,1299.2 L1109.0,1300.4 L1107.9,1301.3 L1107.1,1302.1 Z"/>
<path d="M1086.7,1302.3 L1087.0,1303.1 L1087.3,1304.4 L1087.6,1305.8 L1088.0,1307.4 L1088.5,1308.9 L1089.1,1310.4 L1089.7,1311.7 L1090.5,1313.1 L1091.4,1314.4 L1092.2,1315.7 L1092.9,1316.7 L1093.4,1317.4 L1094.6,1316.6 L1094.2,1315.8 L1093.6,1314.8 L1092.9,1313.6 L1092.1,1312.2 L1091.5,1310.9 L1090.9,1309.6 L1090.5,1308.3 L1090.2,1306.8 L1089.9,1305.3 L1089.6,1303.9 L1089.4,1302.6 L1089.3,1301.7 Z"/>
<path d="M1099.2,1304.8 L1099.7,1305.4 L1100.5,1306.2 L1101.5,1307.1 L1102.5,1308.1 L1103.5,1309.0 L1104.4,1309.7 L1105.3,1310.3 L1106.2,1310.7 L1107.0,1311.0 L1107.7,1311.3 L1108.3,1311.5 L1108.7,1311.6 L1109.3,1310.4 L1108.8,1310.2 L1108.3,1309.9 L1107.6,1309.6 L1106.9,1309.2 L1106.2,1308.8 L1105.6,1308.3 L1104.8,1307.6 L1103.9,1306.7 L1103.0,1305.7 L1102.1,1304.7 L1101.4,1303.8 L1100.8,1303.2 Z"/>
<path d="M1114.5,1304.9 L1115.0,1305.2 L1115.7,1305.6 L1116.6,1306.1 L1117.6,1306.7 L1118.6,1307.2 L1119.6,1307.7 L1120.6,1308.3 L1121.8,1308.8 L1123.0,1309.4 L1124.1,1309.9 L1125.0,1310.3 L1125.7,1310.6 L1126.3,1309.4 L1125.6,1309.1 L1124.7,1308.6 L1123.6,1308.0 L1122.5,1307.4 L1121.4,1306.8 L1120.4,1306.3 L1119.5,1305.7 L1118.5,1305.1 L1117.6,1304.5 L1116.8,1303.9 L1116.1,1303.5 L1115.5,1303.1 Z"/>
<path d="M1010.2,1322.5 L1009.6,1323.3 L1008.9,1324.4 L1008.2,1325.5 L1007.4,1326.7 L1006.5,1327.7 L1005.6,1328.6 L1004.5,1329.5 L1003.2,1330.5 L1001.8,1331.5 L1000.3,1332.4 L998.7,1333.3 L997.0,1334.1 L995.1,1334.9 L993.3,1335.7 L991.3,1336.4 L989.3,1337.0 L987.1,1337.6 L984.9,1338.0 L982.2,1338.2 L979.1,1338.2 L975.8,1338.2 L972.7,1338.1 L970.0,1338.0 L968.1,1338.0 L967.9,1340.0 L969.8,1340.3 L972.4,1340.7 L975.6,1341.2 L978.9,1341.6 L982.2,1341.9 L985.1,1342.0 L987.7,1341.9 L990.2,1341.7 L992.6,1341.4 L994.8,1340.9 L997.0,1340.4 L999.0,1339.9 L1001.1,1339.3 L1003.1,1338.7 L1005.1,1337.9 L1006.9,1337.1 L1008.7,1336.3 L1010.4,1335.4 L1012.1,1334.3 L1013.7,1333.0 L1015.1,1331.8 L1016.2,1330.8 L1017.2,1330.0 L1017.8,1329.5 Z"/>
<path d="M985.9,1337.1 L985.3,1336.5 L984.5,1335.8 L983.5,1334.9 L982.5,1334.0 L981.5,1333.1 L980.8,1332.3 L980.1,1331.6 L979.5,1330.9 L978.9,1330.2 L978.4,1329.5 L977.9,1329.0 L977.6,1328.6 L976.4,1329.4 L976.7,1329.9 L977.0,1330.5 L977.5,1331.2 L978.0,1332.0 L978.6,1332.8 L979.2,1333.7 L980.0,1334.6 L980.9,1335.6 L981.9,1336.6 L982.8,1337.5 L983.6,1338.3 L984.1,1338.9 Z"/>
<path d="M989.1,1339.1 L988.4,1339.8 L987.6,1340.8 L986.5,1341.9 L985.4,1343.1 L984.3,1344.3 L983.4,1345.2 L982.4,1346.1 L981.3,1346.9 L980.2,1347.6 L979.1,1348.3 L978.3,1348.9 L977.6,1349.4 L978.4,1350.6 L979.1,1350.2 L980.0,1349.7 L981.1,1349.1 L982.3,1348.4 L983.5,1347.6 L984.6,1346.8 L985.8,1345.8 L987.0,1344.7 L988.2,1343.6 L989.3,1342.5 L990.3,1341.5 L990.9,1340.9 Z"/>
<path d="M995.6,1337.7 L995.4,1338.8 L995.2,1340.3 L994.9,1342.1 L994.6,1344.0 L994.2,1345.9 L993.9,1347.8 L993.6,1349.7 L993.3,1351.8 L993.0,1354.0 L992.7,1356.0 L992.5,1357.7 L992.3,1358.9 L993.7,1359.1 L994.0,1357.9 L994.3,1356.3 L994.8,1354.3 L995.2,1352.2 L995.6,1350.1 L996.1,1348.2 L996.5,1346.4 L996.9,1344.5 L997.4,1342.6 L997.8,1340.8 L998.1,1339.3 L998.4,1338.3 Z"/>
<path d="M998.7,1338.2 L998.9,1339.2 L999.1,1340.6 L999.4,1342.2 L999.6,1343.9 L999.8,1345.6 L1000.0,1347.1 L1000.1,1348.4 L1000.2,1349.7 L1000.2,1351.0 L1000.2,1352.2 L1000.2,1353.2 L1000.3,1354.0 L1001.7,1354.0 L1001.8,1353.3 L1001.8,1352.3 L1001.9,1351.1 L1002.0,1349.7 L1002.0,1348.3 L1002.0,1346.9 L1001.9,1345.4 L1001.8,1343.7 L1001.6,1341.9 L1001.5,1340.3 L1001.4,1338.8 L1001.3,1337.8 Z"/>
<path d="M1041.6,1318.4 L1042.1,1319.0 L1042.7,1319.6 L1043.3,1320.4 L1043.9,1321.2 L1044.5,1322.2 L1045.2,1323.4 L1045.9,1325.0 L1046.6,1326.8 L1047.4,1329.0 L1048.3,1331.2 L1049.1,1333.6 L1050.0,1336.0 L1051.0,1338.5 L1052.1,1341.3 L1053.2,1344.2 L1054.3,1346.8 L1055.2,1349.1 L1055.9,1350.7 L1060.1,1349.3 L1059.7,1347.6 L1059.0,1345.2 L1058.3,1342.5 L1057.5,1339.5 L1056.7,1336.6 L1056.0,1334.0 L1055.4,1331.7 L1054.9,1329.3 L1054.3,1326.9 L1053.8,1324.6 L1053.3,1322.5 L1052.8,1320.6 L1052.3,1318.8 L1051.7,1317.3 L1051.2,1316.0 L1050.8,1314.9 L1050.5,1314.2 L1050.4,1313.6 Z"/>
<path d="M1054.9,1347.6 L1054.9,1347.7 L1054.9,1347.8 L1055.0,1348.1 L1055.2,1348.6 L1055.5,1349.4 L1056.0,1350.7 L1056.6,1352.6 L1057.5,1355.0 L1058.4,1357.8 L1059.5,1360.9 L1060.8,1363.9 L1062.1,1366.9 L1063.5,1369.8 L1065.1,1372.8 L1066.8,1375.9 L1068.6,1378.9 L1070.5,1381.7 L1072.4,1384.3 L1074.3,1386.5 L1076.3,1388.6 L1078.4,1390.4 L1080.5,1392.1 L1082.8,1393.5 L1085.1,1394.8 L1087.4,1395.9 L1089.8,1396.8 L1092.3,1397.6 L1095.0,1398.1 L1097.9,1398.4 L1101.1,1398.5 L1104.6,1398.2 L1108.4,1397.6 L1112.4,1396.7 L1116.5,1395.8 L1120.5,1394.8 L1124.4,1393.9 L1128.3,1393.0 L1132.1,1392.1 L1135.9,1391.2 L1139.8,1390.3 L1143.6,1389.3 L1147.4,1388.4 L1151.3,1387.6 L1155.3,1386.7 L1159.3,1385.9 L1163.3,1385.0 L1167.1,1384.0 L1170.6,1382.9 L1173.8,1381.8 L1176.6,1380.5 L1179.3,1379.3 L1181.9,1377.9 L1184.3,1376.6 L1186.9,1375.2 L1189.5,1373.7 L1192.0,1372.0 L1194.5,1370.4 L1197.0,1368.8 L1199.4,1367.3 L1201.8,1366.0 L1204.4,1364.7 L1207.2,1363.5 L1210.1,1362.3 L1212.7,1361.3 L1215.0,1360.4 L1216.6,1359.8 L1215.4,1356.6 L1213.8,1357.2 L1211.5,1358.1 L1208.8,1359.1 L1205.9,1360.3 L1203.0,1361.5 L1200.2,1362.8 L1197.6,1364.3 L1195.1,1365.8 L1192.6,1367.4 L1190.1,1369.0 L1187.6,1370.6 L1185.1,1372.0 L1182.6,1373.4 L1180.1,1374.7 L1177.7,1376.0 L1175.1,1377.2 L1172.4,1378.4 L1169.4,1379.5 L1166.1,1380.4 L1162.4,1381.4 L1158.5,1382.2 L1154.5,1383.1 L1150.5,1383.9 L1146.6,1384.8 L1142.7,1385.7 L1138.9,1386.6 L1135.1,1387.5 L1131.2,1388.4 L1127.4,1389.3 L1123.6,1390.1 L1119.6,1391.0 L1115.6,1392.0 L1111.6,1392.9 L1107.7,1393.7 L1104.1,1394.3 L1100.9,1394.5 L1098.1,1394.5 L1095.6,1394.2 L1093.3,1393.7 L1091.1,1393.1 L1089.0,1392.2 L1086.9,1391.2 L1084.8,1390.1 L1082.9,1388.8 L1081.0,1387.3 L1079.2,1385.6 L1077.4,1383.8 L1075.6,1381.7 L1073.9,1379.4 L1072.1,1376.7 L1070.4,1373.8 L1068.8,1370.9 L1067.3,1367.9 L1065.9,1365.1 L1064.7,1362.3 L1063.5,1359.4 L1062.4,1356.4 L1061.5,1353.6 L1060.7,1351.2 L1060.0,1349.3 L1059.6,1348.0 L1059.3,1347.2 L1059.2,1346.9 L1059.2,1346.8 L1059.2,1346.6 L1059.1,1346.4 Z"/>
<path d="M1201.6,1365.6 L1203.4,1364.9 L1206.0,1364.1 L1209.2,1363.1 L1212.6,1361.7 L1216.0,1360.0 L1219.0,1357.9 L1221.7,1355.2 L1224.2,1352.0 L1226.6,1348.5 L1228.8,1345.0 L1230.9,1341.8 L1232.7,1339.2 L1234.3,1337.1 L1235.6,1335.2 L1236.8,1333.7 L1237.8,1332.4 L1238.9,1331.3 L1240.1,1330.2 L1241.4,1329.3 L1243.0,1328.4 L1244.6,1327.7 L1246.1,1327.1 L1247.5,1326.6 L1248.5,1326.2 L1247.5,1323.8 L1246.6,1324.2 L1245.2,1324.6 L1243.6,1325.2 L1241.8,1326.0 L1240.0,1326.9 L1238.3,1328.0 L1236.9,1329.2 L1235.7,1330.5 L1234.5,1331.9 L1233.3,1333.5 L1231.9,1335.3 L1230.3,1337.4 L1228.4,1340.1 L1226.3,1343.3 L1224.0,1346.8 L1221.7,1350.1 L1219.3,1353.1 L1217.0,1355.5 L1214.4,1357.2 L1211.3,1358.7 L1208.1,1359.9 L1205.0,1360.9 L1202.4,1361.7 L1200.4,1362.4 Z"/>
<path d="M1210.3,1361.5 L1212.0,1361.1 L1214.2,1360.6 L1216.9,1360.0 L1219.8,1359.3 L1222.6,1358.8 L1225.2,1358.4 L1227.6,1358.2 L1230.0,1358.1 L1232.5,1358.0 L1234.9,1358.0 L1237.1,1358.0 L1239.1,1358.1 L1240.9,1358.2 L1242.7,1358.4 L1244.3,1358.6 L1245.7,1358.9 L1246.9,1359.1 L1247.8,1359.3 L1248.2,1356.7 L1247.4,1356.6 L1246.2,1356.3 L1244.7,1356.0 L1243.1,1355.7 L1241.2,1355.5 L1239.3,1355.3 L1237.2,1355.2 L1234.9,1355.2 L1232.5,1355.2 L1229.9,1355.2 L1227.4,1355.4 L1224.8,1355.6 L1222.1,1356.0 L1219.2,1356.5 L1216.3,1357.1 L1213.6,1357.7 L1211.3,1358.2 L1209.7,1358.5 Z"/>
<path d="M1211.9,1362.4 L1212.5,1362.4 L1213.2,1362.5 L1214.0,1362.5 L1215.0,1362.6 L1216.2,1362.9 L1217.6,1363.3 L1219.4,1363.9 L1221.6,1364.8 L1224.0,1365.8 L1226.5,1366.8 L1228.9,1367.8 L1231.1,1368.6 L1233.1,1369.2 L1235.0,1369.8 L1236.8,1370.2 L1238.4,1370.6 L1239.7,1370.9 L1240.7,1371.2 L1241.3,1368.8 L1240.3,1368.6 L1239.0,1368.2 L1237.4,1367.8 L1235.6,1367.4 L1233.8,1366.8 L1231.9,1366.2 L1229.9,1365.4 L1227.5,1364.5 L1225.0,1363.4 L1222.6,1362.4 L1220.3,1361.4 L1218.4,1360.7 L1216.8,1360.3 L1215.5,1360.0 L1214.3,1359.8 L1213.4,1359.7 L1212.7,1359.7 L1212.1,1359.6 Z"/>
<path d="M1200.2,1368.7 L1201.4,1369.4 L1203.2,1370.2 L1205.2,1371.2 L1207.2,1372.3 L1209.1,1373.5 L1210.6,1374.6 L1211.6,1375.8 L1212.5,1377.3 L1213.3,1379.0 L1214.2,1380.8 L1215.4,1382.5 L1217.1,1383.9 L1219.3,1384.7 L1221.6,1385.2 L1224.1,1385.5 L1226.6,1385.6 L1229.1,1385.6 L1231.5,1385.6 L1234.0,1385.4 L1236.7,1385.1 L1239.3,1384.7 L1241.7,1384.3 L1243.7,1383.9 L1245.2,1383.7 L1244.8,1381.3 L1243.3,1381.5 L1241.3,1381.9 L1238.9,1382.3 L1236.4,1382.6 L1233.8,1382.9 L1231.5,1383.0 L1229.1,1383.0 L1226.7,1383.0 L1224.3,1382.9 L1222.0,1382.6 L1220.0,1382.2 L1218.5,1381.5 L1217.4,1380.6 L1216.5,1379.4 L1215.8,1377.8 L1215.0,1376.1 L1214.0,1374.2 L1212.6,1372.6 L1210.8,1371.1 L1208.7,1369.8 L1206.5,1368.6 L1204.5,1367.6 L1202.8,1366.7 L1201.6,1366.1 Z"/>
<path d="M1215.7,1382.4 L1215.9,1383.1 L1216.2,1384.1 L1216.5,1385.4 L1217.0,1386.7 L1217.5,1388.1 L1218.1,1389.4 L1218.5,1390.6 L1219.0,1392.0 L1219.6,1393.5 L1220.4,1395.0 L1221.6,1396.4 L1223.3,1397.7 L1225.5,1398.5 L1228.2,1399.2 L1231.1,1399.6 L1234.0,1400.0 L1236.7,1400.4 L1238.9,1400.8 L1240.8,1401.3 L1242.6,1401.7 L1244.2,1402.2 L1245.6,1402.6 L1246.8,1402.9 L1247.7,1403.2 L1248.3,1400.8 L1247.5,1400.6 L1246.3,1400.2 L1244.9,1399.8 L1243.3,1399.4 L1241.4,1398.9 L1239.5,1398.4 L1237.1,1397.9 L1234.4,1397.5 L1231.5,1397.1 L1228.7,1396.6 L1226.3,1396.1 L1224.5,1395.3 L1223.4,1394.5 L1222.6,1393.5 L1222.0,1392.4 L1221.5,1391.1 L1221.1,1389.7 L1220.5,1388.4 L1220.0,1387.1 L1219.6,1385.9 L1219.2,1384.6 L1218.8,1383.4 L1218.6,1382.4 L1218.3,1381.6 Z"/>
<path d="M1220.7,1397.1 L1220.7,1397.3 L1220.7,1397.5 L1220.8,1397.8 L1220.8,1398.2 L1220.9,1398.8 L1221.1,1399.7 L1221.2,1401.1 L1221.3,1402.8 L1221.5,1404.8 L1221.8,1406.8 L1222.2,1408.9 L1222.8,1410.8 L1223.7,1412.4 L1224.7,1414.0 L1225.9,1415.5 L1227.1,1416.8 L1228.3,1418.0 L1229.3,1418.9 L1230.3,1419.6 L1231.3,1420.0 L1232.3,1420.1 L1233.1,1420.1 L1233.6,1420.1 L1233.9,1420.1 L1234.1,1417.9 L1233.6,1417.9 L1233.0,1417.9 L1232.5,1417.9 L1231.9,1417.8 L1231.4,1417.6 L1230.7,1417.1 L1229.9,1416.3 L1228.8,1415.2 L1227.7,1414.0 L1226.6,1412.6 L1225.7,1411.2 L1225.0,1409.8 L1224.5,1408.3 L1224.2,1406.5 L1224.0,1404.5 L1223.8,1402.6 L1223.7,1400.8 L1223.5,1399.5 L1223.4,1398.5 L1223.4,1397.9 L1223.3,1397.5 L1223.3,1397.3 L1223.3,1397.1 L1223.3,1396.9 Z"/>
<path d="M1253.5,1325.3 l-3.5,-3.5 l1.2,7 Z" transform="rotate(-20 1251.5 1325.3)"/>
<ellipse cx="1251.5" cy="1325.3" rx="2.6" ry="4" transform="rotate(-20 1251.5 1325.3)"/>
<path d="M1253.0,1359.0 l-3.5,-3.5 l1.2,7 Z" transform="rotate(0 1251.0 1359.0)"/>
<ellipse cx="1251.0" cy="1359.0" rx="2.6" ry="4" transform="rotate(0 1251.0 1359.0)"/>
<path d="M1245.0,1370.5 l-3.5,-3.5 l1.2,7 Z" transform="rotate(10 1243.0 1370.5)"/>
<ellipse cx="1243.0" cy="1370.5" rx="2.6" ry="4" transform="rotate(10 1243.0 1370.5)"/>
<path d="M1249.5,1382.0 l-3.5,-3.5 l1.2,7 Z" transform="rotate(-5 1247.5 1382.0)"/>
<ellipse cx="1247.5" cy="1382.0" rx="2.6" ry="4" transform="rotate(-5 1247.5 1382.0)"/>
<path d="M1252.5,1402.7 l-3.5,-3.5 l1.2,7 Z" transform="rotate(15 1250.5 1402.7)"/>
<ellipse cx="1250.5" cy="1402.7" rx="2.6" ry="4" transform="rotate(15 1250.5 1402.7)"/>
<path d="M1238.0,1419.5 l-3.5,-3.5 l1.2,7 Z" transform="rotate(-30 1236.0 1419.5)"/>
<ellipse cx="1236.0" cy="1419.5" rx="2.6" ry="4" transform="rotate(-30 1236.0 1419.5)"/>
</g>
<path d="M994,1282 C1008,1287 1025,1285 1038,1278 C1045,1274 1049,1268 1051.5,1263 C1052,1275 1054,1288 1058,1296 L1058,1302 C1054,1308 1052,1315 1051,1326 C1038,1329 1020,1330 1006,1333 C1009,1322 1010,1312 1007,1302 C1004,1294 999,1287 994,1282 Z" fill="url(#soma)"/>
<ellipse cx="1036.8" cy="1309.5" rx="10.5" ry="9.3" transform="rotate(20 1036.8 1309.5)" fill="#5cb8c4" stroke="#8fd0d8" stroke-width="1.2"/>
<circle cx="1036.5" cy="1311" r="2.6" fill="#17808f"/>
<filter id="nblur" x="-50%" y="-50%" width="200%" height="200%"><feGaussianBlur stdDeviation="6"/></filter><ellipse cx="1135" cy="1262" rx="42" ry="12" transform="rotate(14 1135 1262)" fill="#fbe8ec" opacity="0.5" filter="url(#nblur)"/>
</g>
<g>
<defs>
<radialGradient id="mus1" gradientUnits="userSpaceOnUse" cx="1342" cy="1150" r="55"><stop offset="0" stop-color="#f4c0cc"/><stop offset="0.4" stop-color="#eb8896"/><stop offset="1" stop-color="#de6070"/></radialGradient>
<radialGradient id="mus2" gradientUnits="userSpaceOnUse" cx="1412" cy="1110" r="55"><stop offset="0" stop-color="#f4c0cc"/><stop offset="0.4" stop-color="#eb8896"/><stop offset="1" stop-color="#de6070"/></radialGradient>
<linearGradient id="mnuc" x1="0" y1="0" x2="1" y2="1"><stop offset="0" stop-color="#7a54aa"/><stop offset="1" stop-color="#b08ad0"/></linearGradient>
</defs>
<path d="M1397.7,1014.9 C1398.5,1016.5 1398.3,1039.7 1396.5,1049.6 C1394.7,1059.5 1389.7,1066.2 1386.6,1074.5 C1383.5,1082.8 1379.8,1091.0 1377.9,1099.3 C1376.0,1107.6 1376.2,1115.8 1375.4,1124.1 C1374.6,1132.4 1374.8,1141.5 1372.9,1148.9 C1371.0,1156.4 1368.1,1162.2 1364.2,1168.8 C1360.3,1175.4 1354.4,1181.1 1349.4,1188.6 C1344.5,1196.0 1339.1,1203.6 1334.5,1213.5 C1329.9,1223.4 1326.5,1233.3 1322.0,1248.2 C1317.5,1263.1 1309.3,1302.8 1307.2,1302.8 C1305.1,1302.8 1307.9,1265.6 1309.6,1248.2 C1311.2,1230.8 1315.4,1213.1 1317.1,1198.6 C1318.8,1184.1 1319.2,1171.2 1319.6,1161.3 C1320.0,1151.4 1318.4,1145.6 1319.6,1139.0 C1320.8,1132.4 1323.3,1126.6 1327.0,1121.6 C1330.7,1116.6 1336.1,1114.2 1341.9,1109.2 C1347.7,1104.2 1355.6,1098.4 1361.8,1091.8 C1368.0,1085.2 1374.1,1078.2 1379.1,1069.5 C1384.0,1060.8 1388.4,1048.8 1391.5,1039.7 C1394.6,1030.6 1396.9,1013.2 1397.7,1014.9 Z" fill="url(#mus1)" stroke="#d65666" stroke-width="0.6"/>
<path d="M1431.3,1012.4 C1431.5,1015.3 1431.3,1039.2 1431.3,1049.6 C1431.3,1059.9 1431.1,1065.4 1431.3,1074.5 C1431.5,1083.6 1433.3,1094.7 1432.5,1104.2 C1431.7,1113.7 1429.4,1123.2 1426.3,1131.5 C1423.2,1139.8 1419.3,1146.9 1413.9,1153.9 C1408.5,1160.9 1401.0,1166.7 1394.0,1173.7 C1387.0,1180.7 1378.3,1188.6 1371.7,1196.1 C1365.1,1203.5 1358.7,1210.1 1354.3,1218.4 C1349.9,1226.7 1346.6,1244.9 1345.6,1245.7 C1344.6,1246.5 1346.2,1232.1 1348.1,1223.4 C1350.0,1214.7 1353.7,1202.7 1356.8,1193.6 C1359.9,1184.5 1364.0,1177.1 1366.7,1168.8 C1369.4,1160.5 1371.5,1152.3 1372.9,1144.0 C1374.4,1135.7 1373.5,1125.7 1375.4,1119.1 C1377.3,1112.5 1380.2,1108.8 1384.1,1104.2 C1388.0,1099.7 1393.6,1096.3 1399.0,1091.8 C1404.4,1087.2 1411.9,1082.7 1416.4,1076.9 C1421.0,1071.1 1424.0,1064.5 1426.3,1057.1 C1428.6,1049.7 1429.2,1039.8 1430.0,1032.3 C1430.8,1024.8 1431.1,1009.5 1431.3,1012.4 Z" fill="none" stroke="#ffffff" stroke-width="2.2"/>
<path d="M1431.3,1012.4 C1431.5,1015.3 1431.3,1039.2 1431.3,1049.6 C1431.3,1059.9 1431.1,1065.4 1431.3,1074.5 C1431.5,1083.6 1433.3,1094.7 1432.5,1104.2 C1431.7,1113.7 1429.4,1123.2 1426.3,1131.5 C1423.2,1139.8 1419.3,1146.9 1413.9,1153.9 C1408.5,1160.9 1401.0,1166.7 1394.0,1173.7 C1387.0,1180.7 1378.3,1188.6 1371.7,1196.1 C1365.1,1203.5 1358.7,1210.1 1354.3,1218.4 C1349.9,1226.7 1346.6,1244.9 1345.6,1245.7 C1344.6,1246.5 1346.2,1232.1 1348.1,1223.4 C1350.0,1214.7 1353.7,1202.7 1356.8,1193.6 C1359.9,1184.5 1364.0,1177.1 1366.7,1168.8 C1369.4,1160.5 1371.5,1152.3 1372.9,1144.0 C1374.4,1135.7 1373.5,1125.7 1375.4,1119.1 C1377.3,1112.5 1380.2,1108.8 1384.1,1104.2 C1388.0,1099.7 1393.6,1096.3 1399.0,1091.8 C1404.4,1087.2 1411.9,1082.7 1416.4,1076.9 C1421.0,1071.1 1424.0,1064.5 1426.3,1057.1 C1428.6,1049.7 1429.2,1039.8 1430.0,1032.3 C1430.8,1024.8 1431.1,1009.5 1431.3,1012.4 Z" fill="url(#mus2)" stroke="#d65666" stroke-width="0.6"/>
<ellipse cx="1344.4" cy="1151.4" rx="10.8" ry="20.5" transform="rotate(12 1344.4 1151.4)" fill="url(#mnuc)" stroke="#6a44a0" stroke-width="0.8"/>
<ellipse cx="1407.7" cy="1120.4" rx="9.8" ry="16.8" transform="rotate(18 1407.7 1120.4)" fill="url(#mnuc)" stroke="#6a44a0" stroke-width="0.8"/>
</g>
<polygon fill="#6298CC" points="253.5,439.2 435.4,600.6 425.8,611.3 471.2,623.2 454.1,579.6 444.5,590.3 262.7,428.8"/>
<polygon fill="#6298CC" points="446.5,344.4 570.3,527.2 558.5,535.2 599.5,557.9 593.6,511.4 581.8,519.4 457.9,336.6"/>
<polygon fill="#6298CC" points="743.3,296.0 743.3,487.8 729.0,487.8 750.2,529.6 771.5,487.8 757.1,487.8 757.1,296.0"/>
<polygon fill="#6298CC" points="1026.9,336.8 903.1,519.4 891.2,511.4 885.3,557.9 926.3,535.2 914.5,527.2 1038.3,344.6"/>
<polygon fill="#6298CC" points="1231.1,429.0 1049.2,590.5 1039.7,579.8 1022.5,623.4 1067.9,611.5 1058.3,600.8 1240.3,439.4"/>
<polygon fill="#6298CC" points="466.7,925.0 284.4,1086.9 274.8,1076.2 257.7,1119.8 303.1,1107.9 293.5,1097.2 475.8,935.4"/>
<polygon fill="#6298CC" points="596.3,971.3 472.3,1154.2 460.4,1146.2 454.5,1192.7 495.5,1170.0 483.7,1162.0 607.7,979.1"/>
<polygon fill="#6298CC" points="738.5,991.0 738.5,1183.4 724.1,1183.4 745.4,1225.2 766.6,1183.4 752.3,1183.4 752.3,991.0"/>
<polygon fill="#6298CC" points="882.0,979.1 1005.8,1162.0 994.0,1170.0 1035.0,1192.7 1029.2,1146.2 1017.3,1154.2 893.4,971.3"/>
<polygon fill="#6298CC" points="1020.2,937.9 1202.1,1099.3 1192.5,1110.0 1237.9,1121.9 1220.8,1078.3 1211.2,1089.0 1029.4,927.5"/>
<path d="M1224.8,576.9 C1208,577.5 1195,578.5 1188,581 C1182,583.5 1180,587 1179.9,592 L1179.9,763 C1172,765 1160,767 1149.2,768.9 L1149.2,782.9 C1160,783.5 1172,784.5 1179.9,786 L1179.9,958 C1180,964 1182,968 1187,970.5 C1195,973 1208,974 1224.9,974.5 L1224.9,960.7 C1212,960 1200,959 1193.1,958.5 L1193.1,785 C1193.1,780 1191,777 1190,776 C1191,775 1193.1,772 1193.1,768 L1193.1,593 C1200,592 1212,590.8 1224.8,590.4 Z" fill="#6298CC"/><rect x="1238.2" y="920.0" width="6" height="5.7" fill="#000"/><rect x="1238.2" y="930.2" width="6" height="5.7" fill="#000"/><rect x="1238.2" y="937.1" width="6" height="5.7" fill="#000"/><rect x="1238.2" y="947.2" width="6" height="5.7" fill="#000"/>
<text x="8.5" y="196.0" font-size="37.8">Adipose</text>
<text x="8.5" y="240.0" font-size="37.8">tissue</text>
<text x="339.0" y="139.0" font-size="37.8">Bone</text>
<text x="339.0" y="183.7" font-size="37.8">marrow</text>
<text x="652.0" y="28.0" font-size="37.8">Dental pulp/</text>
<text x="652.0" y="72.5" font-size="37.8">Gingiva</text>
<text x="933.5" y="83.8" font-size="37.8">Endometrium</text>
<text x="933.5" y="128.3" font-size="37.8">and other</text>
<text x="933.5" y="171.4" font-size="37.8">tissues</text>
<text x="1272.5" y="230.0" font-size="38.3">iPSCs/ESCs</text>
<text x="953.8" y="895.0" font-size="49.3">MSCs</text>
<text x="1233.7" y="625.6" font-size="45.6">CD73</text>
<text x="1233.7" y="679.6" font-size="45.6">CD90</text>
<text x="1233.7" y="731.6" font-size="45.6">CD105</text>
<text x="1233.7" y="783.6" font-size="45.6">STRO-1</text>
<text x="1233.7" y="837.6" font-size="45.6">CD29</text>
<text x="1233.7" y="889.6" font-size="45.6">CD44</text>
<rect x="1301.5" y="726.3" width="8.4" height="6" fill="#fff"/><rect x="1316.6" y="726.3" width="8" height="6" fill="#fff"/>
<rect x="1377.5" y="778.3" width="8.4" height="6" fill="#fff"/><rect x="1392.6" y="778.3" width="8" height="6" fill="#fff"/>
<text x="45.5" y="1337.4" font-size="37.8">Adipocytes</text>
<text x="309.3" y="1435.1" font-size="38.2">Chondrocytes</text>
<text x="649.7" y="1487.5" font-size="37.8">Osteoblasts</text>
<text x="962.3" y="1452.6" font-size="37.8">Neuron-like cells</text>
<text x="1279.6" y="1352.7" font-size="37.8">Muscle cells</text>
</svg>
</body></html>
